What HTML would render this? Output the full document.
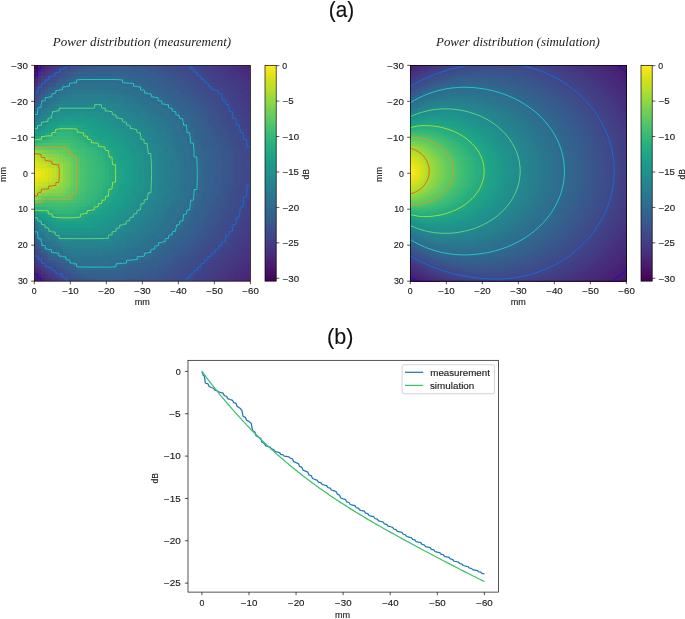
<!DOCTYPE html><html><head><meta charset="utf-8"><title>Power distribution</title><style>html,body{margin:0;padding:0;background:#fff}svg{display:block;will-change:transform}text{stroke:#1a1a1a;stroke-width:.13px}.n{stroke:none}</style></head><body><svg width="685" height="619" viewBox="0 0 685 619" font-family="'Liberation Sans', sans-serif" fill="#1a1a1a">
<rect width="685" height="619" fill="#fff"/>
<text x="341.55" y="17.2" font-size="22" text-anchor="middle" textLength="25.4" lengthAdjust="spacingAndGlyphs" fill="#111">(a)</text>
<text x="340.2" y="343.9" font-size="22" text-anchor="middle" textLength="26.3" lengthAdjust="spacingAndGlyphs" fill="#111">(b)</text>
<text x="52.8" y="45.5" font-size="13" textLength="178.4" lengthAdjust="spacingAndGlyphs" fill="#222" class="n" font-family="'Liberation Serif', serif" font-style="italic">Power distribution (measurement)</text>
<text x="436" y="45.5" font-size="13" textLength="163.8" lengthAdjust="spacingAndGlyphs" fill="#222" class="n" font-family="'Liberation Serif', serif" font-style="italic">Power distribution (simulation)</text>
<clipPath id="c1"><rect x="34.3" y="65.35" width="216.1" height="215.8"/></clipPath>
<g clip-path="url(#c1)">
<filter id="blc1" x="-5%" y="-5%" width="110%" height="110%"><feGaussianBlur stdDeviation="0.75"/></filter>
<g filter="url(#blc1)"><g transform="translate(30.76 63.58) scale(3.5426 3.5377)" stroke-width="1.04" shape-rendering="crispEdges">
<path d="M0 0h2" stroke="#450559"/>
<path d="M2 0h1" stroke="#481c6e"/>
<path d="M3 0h1" stroke="#482374"/>
<path d="M4 0h1" stroke="#482979"/>
<path d="M5 0h1" stroke="#472f7d"/>
<path d="M6 0h1" stroke="#463480"/>
<path d="M7 0h1" stroke="#443a83"/>
<path d="M8 0h1" stroke="#423f85"/>
<path d="M9 0h1" stroke="#404588"/>
<path d="M10 0h1" stroke="#3e4989"/>
<path d="M11 0h1" stroke="#3d4d8a"/>
<path d="M12 0h1" stroke="#3c508b"/>
<path d="M13 0h1" stroke="#3a538b"/>
<path d="M14 0h1" stroke="#39558c"/>
<path d="M15 0h2" stroke="#38588c"/>
<path d="M17 0h1" stroke="#38598c"/>
<path d="M18 0h5" stroke="#375a8c"/>
<path d="M23 0h4" stroke="#375b8d"/>
<path d="M27 0h1" stroke="#375a8c"/>
<path d="M28 0h2" stroke="#38598c"/>
<path d="M30 0h1" stroke="#38588c"/>
<path d="M31 0h2" stroke="#39568c"/>
<path d="M33 0h1" stroke="#39558c"/>
<path d="M34 0h1" stroke="#3a548c"/>
<path d="M35 0h1" stroke="#3a538b"/>
<path d="M36 0h1" stroke="#3b528b"/>
<path d="M37 0h1" stroke="#3b518b"/>
<path d="M38 0h1" stroke="#3c4f8a"/>
<path d="M39 0h1" stroke="#3d4e8a"/>
<path d="M40 0h1" stroke="#3d4d8a"/>
<path d="M41 0h1" stroke="#3e4c8a"/>
<path d="M42 0h1" stroke="#3e4a89"/>
<path d="M43 0h1" stroke="#3e4989"/>
<path d="M44 0h1" stroke="#3f4889"/>
<path d="M45 0h1" stroke="#404688"/>
<path d="M46 0h1" stroke="#414487"/>
<path d="M47 0h1" stroke="#414287"/>
<path d="M48 0h1" stroke="#424086"/>
<path d="M49 0h1" stroke="#423f85"/>
<path d="M50 0h1" stroke="#433d84"/>
<path d="M51 0h1" stroke="#443a83"/>
<path d="M52 0h1" stroke="#443983"/>
<path d="M53 0h1" stroke="#453781"/>
<path d="M54 0h1" stroke="#463480"/>
<path d="M55 0h1" stroke="#46337f"/>
<path d="M56 0h1" stroke="#46307e"/>
<path d="M57 0h1" stroke="#472f7d"/>
<path d="M58 0h1" stroke="#472d7b"/>
<path d="M59 0h1" stroke="#472c7a"/>
<path d="M60 0h1" stroke="#482979"/>
<path d="M61 0h2" stroke="#482878"/>
<path d="M0 1h2" stroke="#450559"/>
<path d="M2 1h1" stroke="#481c6e"/>
<path d="M3 1h1" stroke="#482374"/>
<path d="M4 1h1" stroke="#482979"/>
<path d="M5 1h1" stroke="#472f7d"/>
<path d="M6 1h1" stroke="#463480"/>
<path d="M7 1h1" stroke="#443a83"/>
<path d="M8 1h1" stroke="#423f85"/>
<path d="M9 1h1" stroke="#404588"/>
<path d="M10 1h1" stroke="#3e4989"/>
<path d="M11 1h1" stroke="#3d4d8a"/>
<path d="M12 1h1" stroke="#3c508b"/>
<path d="M13 1h1" stroke="#3a538b"/>
<path d="M14 1h1" stroke="#39558c"/>
<path d="M15 1h2" stroke="#38588c"/>
<path d="M17 1h1" stroke="#38598c"/>
<path d="M18 1h5" stroke="#375a8c"/>
<path d="M23 1h4" stroke="#375b8d"/>
<path d="M27 1h1" stroke="#375a8c"/>
<path d="M28 1h2" stroke="#38598c"/>
<path d="M30 1h1" stroke="#38588c"/>
<path d="M31 1h2" stroke="#39568c"/>
<path d="M33 1h1" stroke="#39558c"/>
<path d="M34 1h1" stroke="#3a548c"/>
<path d="M35 1h1" stroke="#3a538b"/>
<path d="M36 1h1" stroke="#3b528b"/>
<path d="M37 1h1" stroke="#3b518b"/>
<path d="M38 1h1" stroke="#3c4f8a"/>
<path d="M39 1h1" stroke="#3d4e8a"/>
<path d="M40 1h1" stroke="#3d4d8a"/>
<path d="M41 1h1" stroke="#3e4c8a"/>
<path d="M42 1h1" stroke="#3e4a89"/>
<path d="M43 1h1" stroke="#3e4989"/>
<path d="M44 1h1" stroke="#3f4889"/>
<path d="M45 1h1" stroke="#404688"/>
<path d="M46 1h1" stroke="#414487"/>
<path d="M47 1h1" stroke="#414287"/>
<path d="M48 1h1" stroke="#424086"/>
<path d="M49 1h1" stroke="#423f85"/>
<path d="M50 1h1" stroke="#433d84"/>
<path d="M51 1h1" stroke="#443a83"/>
<path d="M52 1h1" stroke="#443983"/>
<path d="M53 1h1" stroke="#453781"/>
<path d="M54 1h1" stroke="#463480"/>
<path d="M55 1h1" stroke="#46337f"/>
<path d="M56 1h1" stroke="#46307e"/>
<path d="M57 1h1" stroke="#472f7d"/>
<path d="M58 1h1" stroke="#472d7b"/>
<path d="M59 1h1" stroke="#472c7a"/>
<path d="M60 1h1" stroke="#482979"/>
<path d="M61 1h2" stroke="#482878"/>
<path d="M0 2h2" stroke="#471063"/>
<path d="M2 2h1" stroke="#482374"/>
<path d="M3 2h1" stroke="#472a7a"/>
<path d="M4 2h1" stroke="#46327e"/>
<path d="M5 2h1" stroke="#453781"/>
<path d="M6 2h1" stroke="#433d84"/>
<path d="M7 2h1" stroke="#414287"/>
<path d="M8 2h1" stroke="#3f4788"/>
<path d="M9 2h1" stroke="#3e4c8a"/>
<path d="M10 2h1" stroke="#3c4f8a"/>
<path d="M11 2h1" stroke="#3a538b"/>
<path d="M12 2h1" stroke="#39568c"/>
<path d="M13 2h1" stroke="#375a8c"/>
<path d="M14 2h1" stroke="#365c8d"/>
<path d="M15 2h1" stroke="#365d8d"/>
<path d="M16 2h3" stroke="#355e8d"/>
<path d="M19 2h8" stroke="#355f8d"/>
<path d="M27 2h1" stroke="#355e8d"/>
<path d="M28 2h1" stroke="#365d8d"/>
<path d="M29 2h1" stroke="#365c8d"/>
<path d="M30 2h2" stroke="#375b8d"/>
<path d="M32 2h1" stroke="#375a8c"/>
<path d="M33 2h1" stroke="#38598c"/>
<path d="M34 2h1" stroke="#38588c"/>
<path d="M35 2h1" stroke="#39568c"/>
<path d="M36 2h1" stroke="#3a548c"/>
<path d="M37 2h1" stroke="#3a538b"/>
<path d="M38 2h1" stroke="#3b528b"/>
<path d="M39 2h1" stroke="#3c508b"/>
<path d="M40 2h1" stroke="#3c4f8a"/>
<path d="M41 2h1" stroke="#3d4e8a"/>
<path d="M42 2h1" stroke="#3d4d8a"/>
<path d="M43 2h1" stroke="#3e4a89"/>
<path d="M44 2h1" stroke="#3e4989"/>
<path d="M45 2h1" stroke="#3f4889"/>
<path d="M46 2h1" stroke="#404688"/>
<path d="M47 2h1" stroke="#404588"/>
<path d="M48 2h1" stroke="#414287"/>
<path d="M49 2h1" stroke="#424086"/>
<path d="M50 2h1" stroke="#423f85"/>
<path d="M51 2h1" stroke="#433d84"/>
<path d="M52 2h1" stroke="#443a83"/>
<path d="M53 2h1" stroke="#443983"/>
<path d="M54 2h1" stroke="#453781"/>
<path d="M55 2h1" stroke="#453581"/>
<path d="M56 2h1" stroke="#46337f"/>
<path d="M57 2h1" stroke="#46327e"/>
<path d="M58 2h1" stroke="#472f7d"/>
<path d="M59 2h1" stroke="#472e7c"/>
<path d="M60 2h1" stroke="#472c7a"/>
<path d="M61 2h2" stroke="#472a7a"/>
<path d="M0 3h2" stroke="#48186a"/>
<path d="M2 3h1" stroke="#472a7a"/>
<path d="M3 3h1" stroke="#46337f"/>
<path d="M4 3h1" stroke="#443983"/>
<path d="M5 3h1" stroke="#423f85"/>
<path d="M6 3h1" stroke="#404588"/>
<path d="M7 3h1" stroke="#3e4989"/>
<path d="M8 3h1" stroke="#3d4e8a"/>
<path d="M9 3h1" stroke="#3b528b"/>
<path d="M10 3h1" stroke="#39558c"/>
<path d="M11 3h1" stroke="#375a8c"/>
<path d="M12 3h1" stroke="#365d8d"/>
<path d="M13 3h1" stroke="#34608d"/>
<path d="M14 3h2" stroke="#33628d"/>
<path d="M16 3h10" stroke="#33638d"/>
<path d="M26 3h1" stroke="#33628d"/>
<path d="M27 3h1" stroke="#34618d"/>
<path d="M28 3h2" stroke="#34608d"/>
<path d="M30 3h1" stroke="#355f8d"/>
<path d="M31 3h1" stroke="#355e8d"/>
<path d="M32 3h1" stroke="#365d8d"/>
<path d="M33 3h1" stroke="#365c8d"/>
<path d="M34 3h1" stroke="#375b8d"/>
<path d="M35 3h1" stroke="#38598c"/>
<path d="M36 3h1" stroke="#38588c"/>
<path d="M37 3h1" stroke="#39558c"/>
<path d="M38 3h1" stroke="#3a548c"/>
<path d="M39 3h1" stroke="#3a538b"/>
<path d="M40 3h1" stroke="#3b518b"/>
<path d="M41 3h1" stroke="#3c508b"/>
<path d="M42 3h1" stroke="#3c4f8a"/>
<path d="M43 3h1" stroke="#3d4d8a"/>
<path d="M44 3h1" stroke="#3e4c8a"/>
<path d="M45 3h1" stroke="#3e4989"/>
<path d="M46 3h1" stroke="#3f4889"/>
<path d="M47 3h1" stroke="#404688"/>
<path d="M48 3h1" stroke="#404588"/>
<path d="M49 3h1" stroke="#414287"/>
<path d="M50 3h1" stroke="#424086"/>
<path d="M51 3h1" stroke="#423f85"/>
<path d="M52 3h1" stroke="#433d84"/>
<path d="M53 3h1" stroke="#443b84"/>
<path d="M54 3h1" stroke="#443983"/>
<path d="M55 3h1" stroke="#453781"/>
<path d="M56 3h1" stroke="#453581"/>
<path d="M57 3h1" stroke="#46337f"/>
<path d="M58 3h1" stroke="#46327e"/>
<path d="M59 3h1" stroke="#472f7d"/>
<path d="M60 3h1" stroke="#472e7c"/>
<path d="M61 3h2" stroke="#472d7b"/>
<path d="M0 4h2" stroke="#482173"/>
<path d="M2 4h1" stroke="#46327e"/>
<path d="M3 4h1" stroke="#443a83"/>
<path d="M4 4h1" stroke="#424186"/>
<path d="M5 4h1" stroke="#3f4788"/>
<path d="M6 4h1" stroke="#3e4a89"/>
<path d="M7 4h1" stroke="#3c4f8a"/>
<path d="M8 4h1" stroke="#3a548c"/>
<path d="M9 4h1" stroke="#38598c"/>
<path d="M10 4h1" stroke="#365c8d"/>
<path d="M11 4h1" stroke="#34608d"/>
<path d="M12 4h1" stroke="#33638d"/>
<path d="M13 4h1" stroke="#31668e"/>
<path d="M14 4h11" stroke="#31688e"/>
<path d="M25 4h1" stroke="#31678e"/>
<path d="M26 4h1" stroke="#31668e"/>
<path d="M27 4h1" stroke="#32658e"/>
<path d="M28 4h1" stroke="#32648e"/>
<path d="M29 4h1" stroke="#33638d"/>
<path d="M30 4h1" stroke="#33628d"/>
<path d="M31 4h1" stroke="#34618d"/>
<path d="M32 4h1" stroke="#34608d"/>
<path d="M33 4h1" stroke="#355e8d"/>
<path d="M34 4h1" stroke="#365d8d"/>
<path d="M35 4h1" stroke="#365c8d"/>
<path d="M36 4h1" stroke="#375a8c"/>
<path d="M37 4h1" stroke="#38598c"/>
<path d="M38 4h1" stroke="#39568c"/>
<path d="M39 4h1" stroke="#39558c"/>
<path d="M40 4h1" stroke="#3a548c"/>
<path d="M41 4h1" stroke="#3b528b"/>
<path d="M42 4h1" stroke="#3c508b"/>
<path d="M43 4h1" stroke="#3c4f8a"/>
<path d="M44 4h1" stroke="#3d4d8a"/>
<path d="M45 4h1" stroke="#3e4c8a"/>
<path d="M46 4h1" stroke="#3e4989"/>
<path d="M47 4h1" stroke="#3f4889"/>
<path d="M48 4h1" stroke="#404688"/>
<path d="M49 4h1" stroke="#414487"/>
<path d="M50 4h1" stroke="#414287"/>
<path d="M51 4h1" stroke="#424086"/>
<path d="M52 4h1" stroke="#423f85"/>
<path d="M53 4h1" stroke="#433d84"/>
<path d="M54 4h1" stroke="#443b84"/>
<path d="M55 4h1" stroke="#443983"/>
<path d="M56 4h1" stroke="#453882"/>
<path d="M57 4h1" stroke="#453581"/>
<path d="M58 4h1" stroke="#463480"/>
<path d="M59 4h1" stroke="#46327e"/>
<path d="M60 4h1" stroke="#46307e"/>
<path d="M61 4h2" stroke="#472e7c"/>
<path d="M0 5h2" stroke="#472a7a"/>
<path d="M2 5h1" stroke="#443983"/>
<path d="M3 5h1" stroke="#414287"/>
<path d="M4 5h1" stroke="#3f4889"/>
<path d="M5 5h1" stroke="#3d4d8a"/>
<path d="M6 5h1" stroke="#3b518b"/>
<path d="M7 5h1" stroke="#39568c"/>
<path d="M8 5h1" stroke="#375b8d"/>
<path d="M9 5h1" stroke="#355f8d"/>
<path d="M10 5h1" stroke="#33638d"/>
<path d="M11 5h1" stroke="#31668e"/>
<path d="M12 5h1" stroke="#306a8e"/>
<path d="M13 5h11" stroke="#2f6c8e"/>
<path d="M24 5h1" stroke="#2f6b8e"/>
<path d="M25 5h1" stroke="#306a8e"/>
<path d="M26 5h1" stroke="#30698e"/>
<path d="M27 5h1" stroke="#31688e"/>
<path d="M28 5h1" stroke="#31678e"/>
<path d="M29 5h1" stroke="#31668e"/>
<path d="M30 5h1" stroke="#32658e"/>
<path d="M31 5h1" stroke="#32648e"/>
<path d="M32 5h1" stroke="#33628d"/>
<path d="M33 5h1" stroke="#34618d"/>
<path d="M34 5h1" stroke="#355f8d"/>
<path d="M35 5h1" stroke="#355e8d"/>
<path d="M36 5h1" stroke="#365d8d"/>
<path d="M37 5h1" stroke="#375b8d"/>
<path d="M38 5h1" stroke="#375a8c"/>
<path d="M39 5h1" stroke="#38588c"/>
<path d="M40 5h1" stroke="#39568c"/>
<path d="M41 5h1" stroke="#3a548c"/>
<path d="M42 5h1" stroke="#3b528b"/>
<path d="M43 5h1" stroke="#3b518b"/>
<path d="M44 5h1" stroke="#3c4f8a"/>
<path d="M45 5h1" stroke="#3d4d8a"/>
<path d="M46 5h1" stroke="#3e4c8a"/>
<path d="M47 5h1" stroke="#3e4989"/>
<path d="M48 5h1" stroke="#3f4889"/>
<path d="M49 5h1" stroke="#404688"/>
<path d="M50 5h1" stroke="#414487"/>
<path d="M51 5h1" stroke="#414287"/>
<path d="M52 5h1" stroke="#424086"/>
<path d="M53 5h1" stroke="#423f85"/>
<path d="M54 5h1" stroke="#433d84"/>
<path d="M55 5h1" stroke="#443b84"/>
<path d="M56 5h1" stroke="#443a83"/>
<path d="M57 5h1" stroke="#453882"/>
<path d="M58 5h1" stroke="#453781"/>
<path d="M59 5h1" stroke="#463480"/>
<path d="M60 5h1" stroke="#46327e"/>
<path d="M61 5h2" stroke="#46307e"/>
<path d="M0 6h2" stroke="#46337f"/>
<path d="M2 6h1" stroke="#424086"/>
<path d="M3 6h1" stroke="#3e4989"/>
<path d="M4 6h1" stroke="#3d4e8a"/>
<path d="M5 6h1" stroke="#3a538b"/>
<path d="M6 6h1" stroke="#38598c"/>
<path d="M7 6h1" stroke="#355e8d"/>
<path d="M8 6h1" stroke="#33628d"/>
<path d="M9 6h1" stroke="#31668e"/>
<path d="M10 6h1" stroke="#30698e"/>
<path d="M11 6h1" stroke="#2f6c8e"/>
<path d="M12 6h1" stroke="#2e6f8e"/>
<path d="M13 6h10" stroke="#2d708e"/>
<path d="M23 6h1" stroke="#2e6f8e"/>
<path d="M24 6h1" stroke="#2e6e8e"/>
<path d="M25 6h1" stroke="#2e6d8e"/>
<path d="M26 6h2" stroke="#2f6c8e"/>
<path d="M28 6h1" stroke="#2f6b8e"/>
<path d="M29 6h1" stroke="#30698e"/>
<path d="M30 6h1" stroke="#31688e"/>
<path d="M31 6h1" stroke="#31678e"/>
<path d="M32 6h1" stroke="#32658e"/>
<path d="M33 6h1" stroke="#33638d"/>
<path d="M34 6h1" stroke="#33628d"/>
<path d="M35 6h1" stroke="#34608d"/>
<path d="M36 6h1" stroke="#355f8d"/>
<path d="M37 6h1" stroke="#355e8d"/>
<path d="M38 6h1" stroke="#365c8d"/>
<path d="M39 6h1" stroke="#375a8c"/>
<path d="M40 6h1" stroke="#38598c"/>
<path d="M41 6h1" stroke="#39568c"/>
<path d="M42 6h1" stroke="#3a548c"/>
<path d="M43 6h1" stroke="#3b528b"/>
<path d="M44 6h1" stroke="#3b518b"/>
<path d="M45 6h1" stroke="#3c4f8a"/>
<path d="M46 6h1" stroke="#3d4d8a"/>
<path d="M47 6h1" stroke="#3e4c8a"/>
<path d="M48 6h1" stroke="#3e4989"/>
<path d="M49 6h1" stroke="#3f4788"/>
<path d="M50 6h1" stroke="#404688"/>
<path d="M51 6h1" stroke="#414487"/>
<path d="M52 6h1" stroke="#414287"/>
<path d="M53 6h1" stroke="#424186"/>
<path d="M54 6h1" stroke="#423f85"/>
<path d="M55 6h1" stroke="#433e85"/>
<path d="M56 6h1" stroke="#443b84"/>
<path d="M57 6h1" stroke="#443a83"/>
<path d="M58 6h1" stroke="#453882"/>
<path d="M59 6h1" stroke="#453781"/>
<path d="M60 6h1" stroke="#463480"/>
<path d="M61 6h2" stroke="#46327e"/>
<path d="M0 7h2" stroke="#443b84"/>
<path d="M2 7h1" stroke="#3f4788"/>
<path d="M3 7h1" stroke="#3c4f8a"/>
<path d="M4 7h1" stroke="#39558c"/>
<path d="M5 7h1" stroke="#375b8d"/>
<path d="M6 7h1" stroke="#34608d"/>
<path d="M7 7h1" stroke="#32648e"/>
<path d="M8 7h1" stroke="#31688e"/>
<path d="M9 7h1" stroke="#2f6c8e"/>
<path d="M10 7h1" stroke="#2e6f8e"/>
<path d="M11 7h1" stroke="#2c718e"/>
<path d="M12 7h10" stroke="#2c738e"/>
<path d="M22 7h2" stroke="#2c728e"/>
<path d="M24 7h1" stroke="#2c718e"/>
<path d="M25 7h1" stroke="#2d718e"/>
<path d="M26 7h1" stroke="#2d708e"/>
<path d="M27 7h1" stroke="#2e6f8e"/>
<path d="M28 7h1" stroke="#2e6e8e"/>
<path d="M29 7h1" stroke="#2f6c8e"/>
<path d="M30 7h1" stroke="#2f6b8e"/>
<path d="M31 7h1" stroke="#30698e"/>
<path d="M32 7h1" stroke="#31688e"/>
<path d="M33 7h1" stroke="#31668e"/>
<path d="M34 7h1" stroke="#32648e"/>
<path d="M35 7h1" stroke="#33638d"/>
<path d="M36 7h1" stroke="#34618d"/>
<path d="M37 7h1" stroke="#34608d"/>
<path d="M38 7h1" stroke="#355e8d"/>
<path d="M39 7h1" stroke="#365c8d"/>
<path d="M40 7h1" stroke="#375b8d"/>
<path d="M41 7h1" stroke="#38598c"/>
<path d="M42 7h1" stroke="#39568c"/>
<path d="M43 7h1" stroke="#3a548c"/>
<path d="M44 7h1" stroke="#3a538b"/>
<path d="M45 7h1" stroke="#3b518b"/>
<path d="M46 7h1" stroke="#3c4f8a"/>
<path d="M47 7h1" stroke="#3d4d8a"/>
<path d="M48 7h1" stroke="#3e4c8a"/>
<path d="M49 7h1" stroke="#3e4989"/>
<path d="M50 7h1" stroke="#3f4889"/>
<path d="M51 7h1" stroke="#404688"/>
<path d="M52 7h1" stroke="#404588"/>
<path d="M53 7h1" stroke="#414487"/>
<path d="M54 7h1" stroke="#424186"/>
<path d="M55 7h1" stroke="#424086"/>
<path d="M56 7h1" stroke="#433e85"/>
<path d="M57 7h1" stroke="#443b84"/>
<path d="M58 7h1" stroke="#443a83"/>
<path d="M59 7h1" stroke="#453882"/>
<path d="M60 7h1" stroke="#453581"/>
<path d="M61 7h2" stroke="#46337f"/>
<path d="M0 8h2" stroke="#414487"/>
<path d="M2 8h1" stroke="#3d4d8a"/>
<path d="M3 8h1" stroke="#39568c"/>
<path d="M4 8h1" stroke="#365d8d"/>
<path d="M5 8h1" stroke="#33628d"/>
<path d="M6 8h1" stroke="#31678e"/>
<path d="M7 8h1" stroke="#2f6b8e"/>
<path d="M8 8h1" stroke="#2e6f8e"/>
<path d="M9 8h1" stroke="#2c718e"/>
<path d="M10 8h1" stroke="#2b748e"/>
<path d="M11 8h1" stroke="#2a768e"/>
<path d="M12 8h9" stroke="#2a778e"/>
<path d="M21 8h2" stroke="#2a768e"/>
<path d="M23 8h1" stroke="#2b758e"/>
<path d="M24 8h1" stroke="#2b748e"/>
<path d="M25 8h2" stroke="#2c738e"/>
<path d="M27 8h1" stroke="#2c718e"/>
<path d="M28 8h1" stroke="#2d718e"/>
<path d="M29 8h1" stroke="#2e6f8e"/>
<path d="M30 8h1" stroke="#2e6d8e"/>
<path d="M31 8h1" stroke="#2f6c8e"/>
<path d="M32 8h1" stroke="#306a8e"/>
<path d="M33 8h1" stroke="#31688e"/>
<path d="M34 8h1" stroke="#31678e"/>
<path d="M35 8h1" stroke="#32658e"/>
<path d="M36 8h1" stroke="#32648e"/>
<path d="M37 8h1" stroke="#33628d"/>
<path d="M38 8h1" stroke="#34608d"/>
<path d="M39 8h1" stroke="#355f8d"/>
<path d="M40 8h1" stroke="#365d8d"/>
<path d="M41 8h1" stroke="#375b8d"/>
<path d="M42 8h1" stroke="#38598c"/>
<path d="M43 8h1" stroke="#39568c"/>
<path d="M44 8h1" stroke="#39558c"/>
<path d="M45 8h1" stroke="#3a538b"/>
<path d="M46 8h1" stroke="#3b518b"/>
<path d="M47 8h1" stroke="#3c4f8a"/>
<path d="M48 8h1" stroke="#3d4d8a"/>
<path d="M49 8h1" stroke="#3e4c8a"/>
<path d="M50 8h1" stroke="#3e4a89"/>
<path d="M51 8h1" stroke="#3f4889"/>
<path d="M52 8h1" stroke="#3f4788"/>
<path d="M53 8h1" stroke="#404588"/>
<path d="M54 8h1" stroke="#414487"/>
<path d="M55 8h1" stroke="#424186"/>
<path d="M56 8h1" stroke="#423f85"/>
<path d="M57 8h1" stroke="#433e85"/>
<path d="M58 8h1" stroke="#443b84"/>
<path d="M59 8h1" stroke="#443983"/>
<path d="M60 8h1" stroke="#453781"/>
<path d="M61 8h2" stroke="#463480"/>
<path d="M0 9h2" stroke="#3e4989"/>
<path d="M2 9h1" stroke="#3a538b"/>
<path d="M3 9h1" stroke="#355e8d"/>
<path d="M4 9h1" stroke="#32648e"/>
<path d="M5 9h1" stroke="#30698e"/>
<path d="M6 9h1" stroke="#2e6d8e"/>
<path d="M7 9h1" stroke="#2d718e"/>
<path d="M8 9h1" stroke="#2b748e"/>
<path d="M9 9h1" stroke="#2a778e"/>
<path d="M10 9h1" stroke="#29798e"/>
<path d="M11 9h1" stroke="#297a8e"/>
<path d="M12 9h8" stroke="#297b8e"/>
<path d="M20 9h2" stroke="#297a8e"/>
<path d="M22 9h2" stroke="#29798e"/>
<path d="M24 9h1" stroke="#2a788e"/>
<path d="M25 9h1" stroke="#2a778e"/>
<path d="M26 9h1" stroke="#2a768e"/>
<path d="M27 9h1" stroke="#2b748e"/>
<path d="M28 9h1" stroke="#2c738e"/>
<path d="M29 9h1" stroke="#2c718e"/>
<path d="M30 9h1" stroke="#2d708e"/>
<path d="M31 9h1" stroke="#2e6e8e"/>
<path d="M32 9h1" stroke="#2e6d8e"/>
<path d="M33 9h1" stroke="#2f6b8e"/>
<path d="M34 9h1" stroke="#30698e"/>
<path d="M35 9h1" stroke="#31688e"/>
<path d="M36 9h1" stroke="#31668e"/>
<path d="M37 9h1" stroke="#32648e"/>
<path d="M38 9h1" stroke="#33638d"/>
<path d="M39 9h1" stroke="#34618d"/>
<path d="M40 9h1" stroke="#355f8d"/>
<path d="M41 9h1" stroke="#365d8d"/>
<path d="M42 9h1" stroke="#375b8d"/>
<path d="M43 9h1" stroke="#38598c"/>
<path d="M44 9h1" stroke="#38588c"/>
<path d="M45 9h1" stroke="#39558c"/>
<path d="M46 9h1" stroke="#3a538b"/>
<path d="M47 9h1" stroke="#3b518b"/>
<path d="M48 9h1" stroke="#3c508b"/>
<path d="M49 9h1" stroke="#3d4e8a"/>
<path d="M50 9h1" stroke="#3e4c8a"/>
<path d="M51 9h1" stroke="#3e4a89"/>
<path d="M52 9h1" stroke="#3f4889"/>
<path d="M53 9h1" stroke="#3f4788"/>
<path d="M54 9h1" stroke="#404588"/>
<path d="M55 9h1" stroke="#414287"/>
<path d="M56 9h1" stroke="#424186"/>
<path d="M57 9h1" stroke="#423f85"/>
<path d="M58 9h1" stroke="#433d84"/>
<path d="M59 9h1" stroke="#443a83"/>
<path d="M60 9h1" stroke="#453882"/>
<path d="M61 9h2" stroke="#453581"/>
<path d="M0 10h2" stroke="#3c4f8a"/>
<path d="M2 10h1" stroke="#375a8c"/>
<path d="M3 10h1" stroke="#32658e"/>
<path d="M4 10h1" stroke="#2f6b8e"/>
<path d="M5 10h1" stroke="#2e6f8e"/>
<path d="M6 10h1" stroke="#2c718e"/>
<path d="M7 10h1" stroke="#2a768e"/>
<path d="M8 10h1" stroke="#297a8e"/>
<path d="M9 10h1" stroke="#287d8e"/>
<path d="M10 10h1" stroke="#277e8e"/>
<path d="M11 10h9" stroke="#277f8e"/>
<path d="M20 10h2" stroke="#277e8e"/>
<path d="M22 10h2" stroke="#287d8e"/>
<path d="M24 10h1" stroke="#287c8e"/>
<path d="M25 10h1" stroke="#297b8e"/>
<path d="M26 10h1" stroke="#29798e"/>
<path d="M27 10h1" stroke="#2a778e"/>
<path d="M28 10h1" stroke="#2b758e"/>
<path d="M29 10h1" stroke="#2b748e"/>
<path d="M30 10h1" stroke="#2c728e"/>
<path d="M31 10h1" stroke="#2d718e"/>
<path d="M32 10h1" stroke="#2e6f8e"/>
<path d="M33 10h1" stroke="#2e6e8e"/>
<path d="M34 10h1" stroke="#2f6c8e"/>
<path d="M35 10h1" stroke="#306a8e"/>
<path d="M36 10h1" stroke="#30698e"/>
<path d="M37 10h1" stroke="#31678e"/>
<path d="M38 10h1" stroke="#32658e"/>
<path d="M39 10h1" stroke="#33638d"/>
<path d="M40 10h1" stroke="#34618d"/>
<path d="M41 10h1" stroke="#34608d"/>
<path d="M42 10h1" stroke="#355e8d"/>
<path d="M43 10h1" stroke="#365c8d"/>
<path d="M44 10h1" stroke="#375a8c"/>
<path d="M45 10h1" stroke="#38588c"/>
<path d="M46 10h1" stroke="#39558c"/>
<path d="M47 10h1" stroke="#3a538b"/>
<path d="M48 10h1" stroke="#3b528b"/>
<path d="M49 10h1" stroke="#3c508b"/>
<path d="M50 10h1" stroke="#3d4e8a"/>
<path d="M51 10h1" stroke="#3e4c8a"/>
<path d="M52 10h1" stroke="#3e4a89"/>
<path d="M53 10h1" stroke="#3f4889"/>
<path d="M54 10h1" stroke="#404688"/>
<path d="M55 10h1" stroke="#404588"/>
<path d="M56 10h1" stroke="#414287"/>
<path d="M57 10h1" stroke="#424086"/>
<path d="M58 10h1" stroke="#433e85"/>
<path d="M59 10h1" stroke="#443b84"/>
<path d="M60 10h1" stroke="#443983"/>
<path d="M61 10h2" stroke="#453882"/>
<path d="M0 11h2" stroke="#39558c"/>
<path d="M2 11h1" stroke="#34618d"/>
<path d="M3 11h1" stroke="#2f6c8e"/>
<path d="M4 11h1" stroke="#2d708e"/>
<path d="M5 11h1" stroke="#2c738e"/>
<path d="M6 11h1" stroke="#2a778e"/>
<path d="M7 11h1" stroke="#287c8e"/>
<path d="M8 11h1" stroke="#26818e"/>
<path d="M9 11h13" stroke="#26828e"/>
<path d="M22 11h2" stroke="#26818e"/>
<path d="M24 11h1" stroke="#277f8e"/>
<path d="M25 11h1" stroke="#277e8e"/>
<path d="M26 11h1" stroke="#287c8e"/>
<path d="M27 11h1" stroke="#297a8e"/>
<path d="M28 11h1" stroke="#2a788e"/>
<path d="M29 11h1" stroke="#2a768e"/>
<path d="M30 11h1" stroke="#2b758e"/>
<path d="M31 11h1" stroke="#2c738e"/>
<path d="M32 11h1" stroke="#2c718e"/>
<path d="M33 11h1" stroke="#2d708e"/>
<path d="M34 11h1" stroke="#2e6f8e"/>
<path d="M35 11h1" stroke="#2e6d8e"/>
<path d="M36 11h1" stroke="#2f6b8e"/>
<path d="M37 11h1" stroke="#30698e"/>
<path d="M38 11h1" stroke="#31688e"/>
<path d="M39 11h1" stroke="#31668e"/>
<path d="M40 11h1" stroke="#32648e"/>
<path d="M41 11h1" stroke="#33628d"/>
<path d="M42 11h1" stroke="#34608d"/>
<path d="M43 11h1" stroke="#355e8d"/>
<path d="M44 11h1" stroke="#365c8d"/>
<path d="M45 11h1" stroke="#375a8c"/>
<path d="M46 11h1" stroke="#38588c"/>
<path d="M47 11h1" stroke="#39558c"/>
<path d="M48 11h1" stroke="#3a548c"/>
<path d="M49 11h1" stroke="#3b528b"/>
<path d="M50 11h1" stroke="#3c508b"/>
<path d="M51 11h1" stroke="#3d4e8a"/>
<path d="M52 11h1" stroke="#3e4c8a"/>
<path d="M53 11h1" stroke="#3e4989"/>
<path d="M54 11h1" stroke="#3f4788"/>
<path d="M55 11h1" stroke="#404688"/>
<path d="M56 11h1" stroke="#414487"/>
<path d="M57 11h1" stroke="#424186"/>
<path d="M58 11h1" stroke="#423f85"/>
<path d="M59 11h1" stroke="#433d84"/>
<path d="M60 11h1" stroke="#443a83"/>
<path d="M61 11h2" stroke="#443983"/>
<path d="M0 12h2" stroke="#365c8d"/>
<path d="M2 12h1" stroke="#31688e"/>
<path d="M3 12h1" stroke="#2c718e"/>
<path d="M4 12h1" stroke="#2b748e"/>
<path d="M5 12h1" stroke="#2a788e"/>
<path d="M6 12h1" stroke="#287d8e"/>
<path d="M7 12h1" stroke="#26828e"/>
<path d="M8 12h1" stroke="#25858e"/>
<path d="M9 12h9" stroke="#24868e"/>
<path d="M18 12h2" stroke="#228b8d"/>
<path d="M20 12h3" stroke="#25858e"/>
<path d="M23 12h1" stroke="#25838e"/>
<path d="M24 12h1" stroke="#26828e"/>
<path d="M25 12h1" stroke="#27808e"/>
<path d="M26 12h1" stroke="#277e8e"/>
<path d="M27 12h1" stroke="#287d8e"/>
<path d="M28 12h1" stroke="#297b8e"/>
<path d="M29 12h1" stroke="#29798e"/>
<path d="M30 12h1" stroke="#2a778e"/>
<path d="M31 12h1" stroke="#2b758e"/>
<path d="M32 12h1" stroke="#2b748e"/>
<path d="M33 12h1" stroke="#2c728e"/>
<path d="M34 12h1" stroke="#2d718e"/>
<path d="M35 12h1" stroke="#2e6f8e"/>
<path d="M36 12h1" stroke="#2e6e8e"/>
<path d="M37 12h1" stroke="#2f6c8e"/>
<path d="M38 12h1" stroke="#306a8e"/>
<path d="M39 12h1" stroke="#31688e"/>
<path d="M40 12h1" stroke="#31668e"/>
<path d="M41 12h1" stroke="#32648e"/>
<path d="M42 12h1" stroke="#33628d"/>
<path d="M43 12h1" stroke="#34608d"/>
<path d="M44 12h1" stroke="#355e8d"/>
<path d="M45 12h1" stroke="#365c8d"/>
<path d="M46 12h1" stroke="#375a8c"/>
<path d="M47 12h1" stroke="#38588c"/>
<path d="M48 12h1" stroke="#39558c"/>
<path d="M49 12h1" stroke="#3a538b"/>
<path d="M50 12h1" stroke="#3b518b"/>
<path d="M51 12h1" stroke="#3c4f8a"/>
<path d="M52 12h1" stroke="#3d4d8a"/>
<path d="M53 12h1" stroke="#3e4a89"/>
<path d="M54 12h1" stroke="#3e4989"/>
<path d="M55 12h1" stroke="#3f4788"/>
<path d="M56 12h1" stroke="#404588"/>
<path d="M57 12h1" stroke="#414287"/>
<path d="M58 12h1" stroke="#424086"/>
<path d="M59 12h1" stroke="#433e85"/>
<path d="M60 12h1" stroke="#443b84"/>
<path d="M61 12h2" stroke="#443a83"/>
<path d="M0 13h2" stroke="#33638d"/>
<path d="M2 13h1" stroke="#2e6f8e"/>
<path d="M3 13h1" stroke="#2a768e"/>
<path d="M4 13h1" stroke="#297a8e"/>
<path d="M5 13h1" stroke="#277e8e"/>
<path d="M6 13h1" stroke="#25838e"/>
<path d="M7 13h11" stroke="#238a8d"/>
<path d="M18 13h2" stroke="#228b8d"/>
<path d="M20 13h2" stroke="#238a8d"/>
<path d="M22 13h1" stroke="#23888e"/>
<path d="M23 13h1" stroke="#24868e"/>
<path d="M24 13h1" stroke="#25848e"/>
<path d="M25 13h1" stroke="#26828e"/>
<path d="M26 13h1" stroke="#26818e"/>
<path d="M27 13h1" stroke="#277f8e"/>
<path d="M28 13h1" stroke="#287d8e"/>
<path d="M29 13h1" stroke="#287c8e"/>
<path d="M30 13h1" stroke="#297a8e"/>
<path d="M31 13h1" stroke="#2a788e"/>
<path d="M32 13h1" stroke="#2a768e"/>
<path d="M33 13h1" stroke="#2b758e"/>
<path d="M34 13h1" stroke="#2c738e"/>
<path d="M35 13h1" stroke="#2c718e"/>
<path d="M36 13h1" stroke="#2d708e"/>
<path d="M37 13h1" stroke="#2e6e8e"/>
<path d="M38 13h1" stroke="#2f6c8e"/>
<path d="M39 13h1" stroke="#306a8e"/>
<path d="M40 13h1" stroke="#31688e"/>
<path d="M41 13h1" stroke="#31668e"/>
<path d="M42 13h1" stroke="#32648e"/>
<path d="M43 13h1" stroke="#33628d"/>
<path d="M44 13h1" stroke="#34608d"/>
<path d="M45 13h1" stroke="#355e8d"/>
<path d="M46 13h1" stroke="#365c8d"/>
<path d="M47 13h1" stroke="#375a8c"/>
<path d="M48 13h1" stroke="#38588c"/>
<path d="M49 13h1" stroke="#39558c"/>
<path d="M50 13h1" stroke="#3a538b"/>
<path d="M51 13h1" stroke="#3c508b"/>
<path d="M52 13h1" stroke="#3d4e8a"/>
<path d="M53 13h1" stroke="#3e4c8a"/>
<path d="M54 13h1" stroke="#3e4a89"/>
<path d="M55 13h1" stroke="#3f4889"/>
<path d="M56 13h1" stroke="#404688"/>
<path d="M57 13h1" stroke="#414487"/>
<path d="M58 13h1" stroke="#424186"/>
<path d="M59 13h1" stroke="#423f85"/>
<path d="M60 13h1" stroke="#433d84"/>
<path d="M61 13h2" stroke="#443a83"/>
<path d="M0 14h2" stroke="#30698e"/>
<path d="M2 14h1" stroke="#2b758e"/>
<path d="M3 14h1" stroke="#297b8e"/>
<path d="M4 14h1" stroke="#277f8e"/>
<path d="M5 14h1" stroke="#25838e"/>
<path d="M6 14h1" stroke="#238a8d"/>
<path d="M7 14h3" stroke="#218e8d"/>
<path d="M10 14h6" stroke="#21908d"/>
<path d="M16 14h4" stroke="#218f8d"/>
<path d="M20 14h1" stroke="#218e8d"/>
<path d="M21 14h1" stroke="#228c8d"/>
<path d="M22 14h1" stroke="#228b8d"/>
<path d="M23 14h1" stroke="#23898e"/>
<path d="M24 14h1" stroke="#24878e"/>
<path d="M25 14h1" stroke="#25858e"/>
<path d="M26 14h1" stroke="#25838e"/>
<path d="M27 14h1" stroke="#26828e"/>
<path d="M28 14h1" stroke="#27808e"/>
<path d="M29 14h1" stroke="#277e8e"/>
<path d="M30 14h1" stroke="#287c8e"/>
<path d="M31 14h1" stroke="#297b8e"/>
<path d="M32 14h1" stroke="#29798e"/>
<path d="M33 14h1" stroke="#2a778e"/>
<path d="M34 14h1" stroke="#2b758e"/>
<path d="M35 14h1" stroke="#2c738e"/>
<path d="M36 14h1" stroke="#2c718e"/>
<path d="M37 14h1" stroke="#2d708e"/>
<path d="M38 14h1" stroke="#2e6f8e"/>
<path d="M39 14h1" stroke="#2e6d8e"/>
<path d="M40 14h1" stroke="#2f6b8e"/>
<path d="M41 14h1" stroke="#30698e"/>
<path d="M42 14h1" stroke="#31668e"/>
<path d="M43 14h1" stroke="#32648e"/>
<path d="M44 14h1" stroke="#33628d"/>
<path d="M45 14h1" stroke="#34608d"/>
<path d="M46 14h1" stroke="#355e8d"/>
<path d="M47 14h1" stroke="#365c8d"/>
<path d="M48 14h1" stroke="#38598c"/>
<path d="M49 14h1" stroke="#39568c"/>
<path d="M50 14h1" stroke="#3a548c"/>
<path d="M51 14h1" stroke="#3b528b"/>
<path d="M52 14h1" stroke="#3c508b"/>
<path d="M53 14h1" stroke="#3d4d8a"/>
<path d="M54 14h1" stroke="#3e4c8a"/>
<path d="M55 14h1" stroke="#3e4989"/>
<path d="M56 14h1" stroke="#3f4788"/>
<path d="M57 14h1" stroke="#404588"/>
<path d="M58 14h1" stroke="#414287"/>
<path d="M59 14h1" stroke="#424086"/>
<path d="M60 14h1" stroke="#433e85"/>
<path d="M61 14h2" stroke="#443b84"/>
<path d="M0 15h2" stroke="#2d718e"/>
<path d="M2 15h1" stroke="#287c8e"/>
<path d="M3 15h1" stroke="#26818e"/>
<path d="M4 15h1" stroke="#25848e"/>
<path d="M5 15h1" stroke="#238a8d"/>
<path d="M6 15h1" stroke="#21918c"/>
<path d="M7 15h2" stroke="#20928c"/>
<path d="M9 15h1" stroke="#1f958b"/>
<path d="M10 15h5" stroke="#1f978b"/>
<path d="M15 15h1" stroke="#1f968b"/>
<path d="M16 15h1" stroke="#1f958b"/>
<path d="M17 15h1" stroke="#1f948c"/>
<path d="M18 15h1" stroke="#20938c"/>
<path d="M19 15h1" stroke="#20928c"/>
<path d="M20 15h1" stroke="#21918c"/>
<path d="M21 15h1" stroke="#218f8d"/>
<path d="M22 15h1" stroke="#228d8d"/>
<path d="M23 15h1" stroke="#228b8d"/>
<path d="M24 15h1" stroke="#238a8d"/>
<path d="M25 15h1" stroke="#23888e"/>
<path d="M26 15h1" stroke="#24868e"/>
<path d="M27 15h1" stroke="#25848e"/>
<path d="M28 15h1" stroke="#26828e"/>
<path d="M29 15h1" stroke="#26818e"/>
<path d="M30 15h1" stroke="#277f8e"/>
<path d="M31 15h1" stroke="#287d8e"/>
<path d="M32 15h1" stroke="#297b8e"/>
<path d="M33 15h1" stroke="#29798e"/>
<path d="M34 15h1" stroke="#2a788e"/>
<path d="M35 15h1" stroke="#2a768e"/>
<path d="M36 15h1" stroke="#2b748e"/>
<path d="M37 15h1" stroke="#2c728e"/>
<path d="M38 15h1" stroke="#2d718e"/>
<path d="M39 15h1" stroke="#2e6f8e"/>
<path d="M40 15h1" stroke="#2e6d8e"/>
<path d="M41 15h1" stroke="#2f6b8e"/>
<path d="M42 15h1" stroke="#31688e"/>
<path d="M43 15h1" stroke="#31668e"/>
<path d="M44 15h1" stroke="#32648e"/>
<path d="M45 15h1" stroke="#33628d"/>
<path d="M46 15h1" stroke="#34608d"/>
<path d="M47 15h1" stroke="#365d8d"/>
<path d="M48 15h1" stroke="#375b8d"/>
<path d="M49 15h1" stroke="#38598c"/>
<path d="M50 15h1" stroke="#39558c"/>
<path d="M51 15h1" stroke="#3a538b"/>
<path d="M52 15h1" stroke="#3b518b"/>
<path d="M53 15h1" stroke="#3d4e8a"/>
<path d="M54 15h1" stroke="#3e4c8a"/>
<path d="M55 15h1" stroke="#3e4a89"/>
<path d="M56 15h1" stroke="#3f4889"/>
<path d="M57 15h1" stroke="#404688"/>
<path d="M58 15h1" stroke="#414487"/>
<path d="M59 15h1" stroke="#424186"/>
<path d="M60 15h1" stroke="#423f85"/>
<path d="M61 15h2" stroke="#433d84"/>
<path d="M0 16h2" stroke="#29798e"/>
<path d="M2 16h1" stroke="#26828e"/>
<path d="M3 16h1" stroke="#24868e"/>
<path d="M4 16h1" stroke="#238a8d"/>
<path d="M5 16h1" stroke="#21918c"/>
<path d="M6 16h1" stroke="#1f978b"/>
<path d="M7 16h1" stroke="#1f988b"/>
<path d="M8 16h1" stroke="#1f998a"/>
<path d="M9 16h5" stroke="#1e9d89"/>
<path d="M14 16h1" stroke="#1e9c89"/>
<path d="M15 16h1" stroke="#1e9b8a"/>
<path d="M16 16h2" stroke="#1f9a8a"/>
<path d="M18 16h1" stroke="#1f988b"/>
<path d="M19 16h1" stroke="#1f968b"/>
<path d="M20 16h1" stroke="#20938c"/>
<path d="M21 16h1" stroke="#20928c"/>
<path d="M22 16h1" stroke="#21908d"/>
<path d="M23 16h1" stroke="#218e8d"/>
<path d="M24 16h1" stroke="#228c8d"/>
<path d="M25 16h1" stroke="#238a8d"/>
<path d="M26 16h1" stroke="#23888e"/>
<path d="M27 16h1" stroke="#24868e"/>
<path d="M28 16h1" stroke="#25848e"/>
<path d="M29 16h1" stroke="#25838e"/>
<path d="M30 16h1" stroke="#26828e"/>
<path d="M31 16h1" stroke="#27808e"/>
<path d="M32 16h1" stroke="#277e8e"/>
<path d="M33 16h1" stroke="#287c8e"/>
<path d="M34 16h1" stroke="#297a8e"/>
<path d="M35 16h1" stroke="#2a788e"/>
<path d="M36 16h1" stroke="#2a768e"/>
<path d="M37 16h1" stroke="#2b748e"/>
<path d="M38 16h1" stroke="#2c728e"/>
<path d="M39 16h1" stroke="#2d718e"/>
<path d="M40 16h1" stroke="#2e6f8e"/>
<path d="M41 16h1" stroke="#2f6c8e"/>
<path d="M42 16h1" stroke="#306a8e"/>
<path d="M43 16h1" stroke="#31688e"/>
<path d="M44 16h1" stroke="#31668e"/>
<path d="M45 16h1" stroke="#32648e"/>
<path d="M46 16h1" stroke="#34618d"/>
<path d="M47 16h1" stroke="#355f8d"/>
<path d="M48 16h1" stroke="#365c8d"/>
<path d="M49 16h1" stroke="#375a8c"/>
<path d="M50 16h1" stroke="#39568c"/>
<path d="M51 16h1" stroke="#3a548c"/>
<path d="M52 16h1" stroke="#3b528b"/>
<path d="M53 16h1" stroke="#3c4f8a"/>
<path d="M54 16h1" stroke="#3d4d8a"/>
<path d="M55 16h1" stroke="#3e4a89"/>
<path d="M56 16h1" stroke="#3e4989"/>
<path d="M57 16h1" stroke="#3f4788"/>
<path d="M58 16h1" stroke="#404588"/>
<path d="M59 16h1" stroke="#414287"/>
<path d="M60 16h1" stroke="#424086"/>
<path d="M61 16h2" stroke="#433e85"/>
<path d="M0 17h2" stroke="#26818e"/>
<path d="M2 17h1" stroke="#24878e"/>
<path d="M3 17h1" stroke="#228c8d"/>
<path d="M4 17h1" stroke="#21918c"/>
<path d="M5 17h1" stroke="#1f998a"/>
<path d="M6 17h2" stroke="#1e9c89"/>
<path d="M8 17h1" stroke="#1fa088"/>
<path d="M9 17h4" stroke="#1fa187"/>
<path d="M13 17h1" stroke="#1fa188"/>
<path d="M14 17h1" stroke="#1fa088"/>
<path d="M15 17h1" stroke="#1f9f88"/>
<path d="M16 17h1" stroke="#1f9e89"/>
<path d="M17 17h1" stroke="#1e9d89"/>
<path d="M18 17h1" stroke="#1e9b8a"/>
<path d="M19 17h1" stroke="#1f998a"/>
<path d="M20 17h1" stroke="#1f978b"/>
<path d="M21 17h1" stroke="#1f948c"/>
<path d="M22 17h1" stroke="#20928c"/>
<path d="M23 17h1" stroke="#21908d"/>
<path d="M24 17h1" stroke="#218e8d"/>
<path d="M25 17h1" stroke="#228d8d"/>
<path d="M26 17h1" stroke="#228b8d"/>
<path d="M27 17h1" stroke="#23898e"/>
<path d="M28 17h1" stroke="#24878e"/>
<path d="M29 17h1" stroke="#25858e"/>
<path d="M30 17h1" stroke="#25838e"/>
<path d="M31 17h1" stroke="#26828e"/>
<path d="M32 17h1" stroke="#27808e"/>
<path d="M33 17h1" stroke="#277e8e"/>
<path d="M34 17h1" stroke="#287c8e"/>
<path d="M35 17h1" stroke="#297a8e"/>
<path d="M36 17h1" stroke="#2a788e"/>
<path d="M37 17h1" stroke="#2a768e"/>
<path d="M38 17h1" stroke="#2b748e"/>
<path d="M39 17h1" stroke="#2c728e"/>
<path d="M40 17h1" stroke="#2d708e"/>
<path d="M41 17h1" stroke="#2e6e8e"/>
<path d="M42 17h1" stroke="#2f6c8e"/>
<path d="M43 17h1" stroke="#306a8e"/>
<path d="M44 17h1" stroke="#31688e"/>
<path d="M45 17h1" stroke="#32658e"/>
<path d="M46 17h1" stroke="#33628d"/>
<path d="M47 17h1" stroke="#34608d"/>
<path d="M48 17h1" stroke="#365d8d"/>
<path d="M49 17h1" stroke="#375b8d"/>
<path d="M50 17h1" stroke="#38588c"/>
<path d="M51 17h1" stroke="#39558c"/>
<path d="M52 17h1" stroke="#3a538b"/>
<path d="M53 17h1" stroke="#3b518b"/>
<path d="M54 17h1" stroke="#3d4e8a"/>
<path d="M55 17h1" stroke="#3e4c8a"/>
<path d="M56 17h1" stroke="#3e4a89"/>
<path d="M57 17h1" stroke="#3f4889"/>
<path d="M58 17h1" stroke="#404688"/>
<path d="M59 17h1" stroke="#414487"/>
<path d="M60 17h1" stroke="#424186"/>
<path d="M61 17h2" stroke="#423f85"/>
<path d="M0 18h2" stroke="#23898e"/>
<path d="M2 18h1" stroke="#218e8d"/>
<path d="M3 18h1" stroke="#20938c"/>
<path d="M4 18h1" stroke="#1f9a8a"/>
<path d="M5 18h1" stroke="#1f9e89"/>
<path d="M6 18h1" stroke="#1fa088"/>
<path d="M7 18h1" stroke="#1fa187"/>
<path d="M8 18h4" stroke="#23a983"/>
<path d="M12 18h1" stroke="#22a884"/>
<path d="M13 18h1" stroke="#21a585"/>
<path d="M14 18h1" stroke="#20a386"/>
<path d="M15 18h1" stroke="#1fa187"/>
<path d="M16 18h1" stroke="#1fa088"/>
<path d="M17 18h1" stroke="#1f9f88"/>
<path d="M18 18h1" stroke="#1e9d89"/>
<path d="M19 18h1" stroke="#1e9b8a"/>
<path d="M20 18h1" stroke="#1f9a8a"/>
<path d="M21 18h1" stroke="#1f988b"/>
<path d="M22 18h1" stroke="#1f958b"/>
<path d="M23 18h1" stroke="#20928c"/>
<path d="M24 18h1" stroke="#21918c"/>
<path d="M25 18h1" stroke="#218f8d"/>
<path d="M26 18h1" stroke="#228d8d"/>
<path d="M27 18h1" stroke="#228b8d"/>
<path d="M28 18h1" stroke="#238a8d"/>
<path d="M29 18h1" stroke="#23888e"/>
<path d="M30 18h1" stroke="#24868e"/>
<path d="M31 18h1" stroke="#25848e"/>
<path d="M32 18h1" stroke="#26828e"/>
<path d="M33 18h1" stroke="#26818e"/>
<path d="M34 18h1" stroke="#277e8e"/>
<path d="M35 18h1" stroke="#287c8e"/>
<path d="M36 18h1" stroke="#297a8e"/>
<path d="M37 18h1" stroke="#2a788e"/>
<path d="M38 18h1" stroke="#2a768e"/>
<path d="M39 18h1" stroke="#2c738e"/>
<path d="M40 18h1" stroke="#2c718e"/>
<path d="M41 18h1" stroke="#2d708e"/>
<path d="M42 18h1" stroke="#2e6e8e"/>
<path d="M43 18h1" stroke="#2f6b8e"/>
<path d="M44 18h1" stroke="#30698e"/>
<path d="M45 18h1" stroke="#31668e"/>
<path d="M46 18h1" stroke="#33638d"/>
<path d="M47 18h1" stroke="#34618d"/>
<path d="M48 18h1" stroke="#355e8d"/>
<path d="M49 18h1" stroke="#365c8d"/>
<path d="M50 18h1" stroke="#375a8c"/>
<path d="M51 18h1" stroke="#39568c"/>
<path d="M52 18h1" stroke="#3a548c"/>
<path d="M53 18h1" stroke="#3b528b"/>
<path d="M54 18h1" stroke="#3c4f8a"/>
<path d="M55 18h1" stroke="#3d4d8a"/>
<path d="M56 18h1" stroke="#3e4c8a"/>
<path d="M57 18h1" stroke="#3e4989"/>
<path d="M58 18h1" stroke="#3f4788"/>
<path d="M59 18h1" stroke="#404588"/>
<path d="M60 18h1" stroke="#414287"/>
<path d="M61 18h2" stroke="#424086"/>
<path d="M0 19h2" stroke="#20928c"/>
<path d="M2 19h1" stroke="#1f988b"/>
<path d="M3 19h1" stroke="#1e9c89"/>
<path d="M4 19h1" stroke="#1fa088"/>
<path d="M5 19h1" stroke="#1fa287"/>
<path d="M6 19h1" stroke="#20a386"/>
<path d="M7 19h1" stroke="#27ad81"/>
<path d="M8 19h4" stroke="#29af7f"/>
<path d="M12 19h1" stroke="#26ad81"/>
<path d="M13 19h1" stroke="#23a983"/>
<path d="M14 19h1" stroke="#21a685"/>
<path d="M15 19h1" stroke="#20a486"/>
<path d="M16 19h1" stroke="#1fa287"/>
<path d="M17 19h1" stroke="#1fa188"/>
<path d="M18 19h1" stroke="#1f9f88"/>
<path d="M19 19h1" stroke="#1f9e89"/>
<path d="M20 19h1" stroke="#1e9c89"/>
<path d="M21 19h1" stroke="#1f9a8a"/>
<path d="M22 19h1" stroke="#1f998a"/>
<path d="M23 19h1" stroke="#1f968b"/>
<path d="M24 19h1" stroke="#20938c"/>
<path d="M25 19h1" stroke="#20928c"/>
<path d="M26 19h1" stroke="#21908d"/>
<path d="M27 19h1" stroke="#218e8d"/>
<path d="M28 19h1" stroke="#228c8d"/>
<path d="M29 19h1" stroke="#238a8d"/>
<path d="M30 19h1" stroke="#23888e"/>
<path d="M31 19h1" stroke="#24868e"/>
<path d="M32 19h1" stroke="#25848e"/>
<path d="M33 19h1" stroke="#26828e"/>
<path d="M34 19h1" stroke="#27808e"/>
<path d="M35 19h1" stroke="#277e8e"/>
<path d="M36 19h1" stroke="#287c8e"/>
<path d="M37 19h1" stroke="#29798e"/>
<path d="M38 19h1" stroke="#2a778e"/>
<path d="M39 19h1" stroke="#2b758e"/>
<path d="M40 19h1" stroke="#2c728e"/>
<path d="M41 19h1" stroke="#2d718e"/>
<path d="M42 19h1" stroke="#2e6e8e"/>
<path d="M43 19h1" stroke="#2f6c8e"/>
<path d="M44 19h1" stroke="#306a8e"/>
<path d="M45 19h1" stroke="#31678e"/>
<path d="M46 19h1" stroke="#32648e"/>
<path d="M47 19h1" stroke="#33628d"/>
<path d="M48 19h1" stroke="#355f8d"/>
<path d="M49 19h1" stroke="#365d8d"/>
<path d="M50 19h1" stroke="#375b8d"/>
<path d="M51 19h1" stroke="#38588c"/>
<path d="M52 19h1" stroke="#39558c"/>
<path d="M53 19h1" stroke="#3a538b"/>
<path d="M54 19h1" stroke="#3b518b"/>
<path d="M55 19h1" stroke="#3d4e8a"/>
<path d="M56 19h1" stroke="#3e4c8a"/>
<path d="M57 19h1" stroke="#3e4a89"/>
<path d="M58 19h1" stroke="#3f4889"/>
<path d="M59 19h1" stroke="#404688"/>
<path d="M60 19h1" stroke="#414487"/>
<path d="M61 19h2" stroke="#424186"/>
<path d="M0 20h2" stroke="#1e9c89"/>
<path d="M2 20h1" stroke="#1f9f88"/>
<path d="M3 20h1" stroke="#1fa187"/>
<path d="M4 20h1" stroke="#21a585"/>
<path d="M5 20h1" stroke="#22a884"/>
<path d="M6 20h1" stroke="#27ad81"/>
<path d="M7 20h4" stroke="#34b679"/>
<path d="M11 20h1" stroke="#2fb47c"/>
<path d="M12 20h1" stroke="#2cb17e"/>
<path d="M13 20h1" stroke="#28ae80"/>
<path d="M14 20h1" stroke="#24aa83"/>
<path d="M15 20h1" stroke="#22a785"/>
<path d="M16 20h1" stroke="#21a585"/>
<path d="M17 20h1" stroke="#1fa287"/>
<path d="M18 20h1" stroke="#1fa187"/>
<path d="M19 20h1" stroke="#1fa088"/>
<path d="M20 20h1" stroke="#1f9e89"/>
<path d="M21 20h1" stroke="#1e9d89"/>
<path d="M22 20h1" stroke="#1e9b8a"/>
<path d="M23 20h1" stroke="#1f998a"/>
<path d="M24 20h1" stroke="#1f978b"/>
<path d="M25 20h1" stroke="#1f958b"/>
<path d="M26 20h1" stroke="#20928c"/>
<path d="M27 20h1" stroke="#21918c"/>
<path d="M28 20h1" stroke="#218f8d"/>
<path d="M29 20h1" stroke="#228d8d"/>
<path d="M30 20h1" stroke="#238a8d"/>
<path d="M31 20h1" stroke="#23888e"/>
<path d="M32 20h1" stroke="#24868e"/>
<path d="M33 20h1" stroke="#25838e"/>
<path d="M34 20h1" stroke="#26828e"/>
<path d="M35 20h1" stroke="#277f8e"/>
<path d="M36 20h1" stroke="#287d8e"/>
<path d="M37 20h1" stroke="#297b8e"/>
<path d="M38 20h1" stroke="#2a788e"/>
<path d="M39 20h1" stroke="#2a768e"/>
<path d="M40 20h1" stroke="#2c738e"/>
<path d="M41 20h1" stroke="#2c718e"/>
<path d="M42 20h1" stroke="#2e6f8e"/>
<path d="M43 20h1" stroke="#2e6d8e"/>
<path d="M44 20h1" stroke="#306a8e"/>
<path d="M45 20h1" stroke="#31688e"/>
<path d="M46 20h1" stroke="#32658e"/>
<path d="M47 20h1" stroke="#33638d"/>
<path d="M48 20h1" stroke="#34608d"/>
<path d="M49 20h1" stroke="#355e8d"/>
<path d="M50 20h1" stroke="#365c8d"/>
<path d="M51 20h1" stroke="#38598c"/>
<path d="M52 20h1" stroke="#39568c"/>
<path d="M53 20h1" stroke="#3a548c"/>
<path d="M54 20h1" stroke="#3b528b"/>
<path d="M55 20h1" stroke="#3c4f8a"/>
<path d="M56 20h1" stroke="#3d4d8a"/>
<path d="M57 20h1" stroke="#3e4c8a"/>
<path d="M58 20h1" stroke="#3e4989"/>
<path d="M59 20h1" stroke="#3f4788"/>
<path d="M60 20h1" stroke="#404588"/>
<path d="M61 20h2" stroke="#414287"/>
<path d="M0 21h2" stroke="#20a386"/>
<path d="M2 21h1" stroke="#22a785"/>
<path d="M3 21h1" stroke="#25ab82"/>
<path d="M4 21h1" stroke="#29af7f"/>
<path d="M5 21h1" stroke="#2eb37c"/>
<path d="M6 21h5" stroke="#38b977"/>
<path d="M11 21h1" stroke="#37b878"/>
<path d="M12 21h1" stroke="#34b679"/>
<path d="M13 21h1" stroke="#2eb37c"/>
<path d="M14 21h1" stroke="#29af7f"/>
<path d="M15 21h1" stroke="#25ac82"/>
<path d="M16 21h1" stroke="#22a884"/>
<path d="M17 21h1" stroke="#21a685"/>
<path d="M18 21h1" stroke="#20a386"/>
<path d="M19 21h1" stroke="#1fa187"/>
<path d="M20 21h1" stroke="#1fa188"/>
<path d="M21 21h1" stroke="#1f9f88"/>
<path d="M22 21h1" stroke="#1f9e89"/>
<path d="M23 21h1" stroke="#1e9c89"/>
<path d="M24 21h1" stroke="#1f9a8a"/>
<path d="M25 21h1" stroke="#1f998a"/>
<path d="M26 21h1" stroke="#1f968b"/>
<path d="M27 21h1" stroke="#20938c"/>
<path d="M28 21h1" stroke="#21918c"/>
<path d="M29 21h1" stroke="#218e8d"/>
<path d="M30 21h1" stroke="#228c8d"/>
<path d="M31 21h1" stroke="#238a8d"/>
<path d="M32 21h1" stroke="#24878e"/>
<path d="M33 21h1" stroke="#25858e"/>
<path d="M34 21h1" stroke="#26828e"/>
<path d="M35 21h1" stroke="#26818e"/>
<path d="M36 21h1" stroke="#277e8e"/>
<path d="M37 21h1" stroke="#287c8e"/>
<path d="M38 21h1" stroke="#29798e"/>
<path d="M39 21h1" stroke="#2a778e"/>
<path d="M40 21h1" stroke="#2b748e"/>
<path d="M41 21h1" stroke="#2c728e"/>
<path d="M42 21h1" stroke="#2d708e"/>
<path d="M43 21h1" stroke="#2e6e8e"/>
<path d="M44 21h1" stroke="#2f6b8e"/>
<path d="M45 21h1" stroke="#30698e"/>
<path d="M46 21h1" stroke="#31668e"/>
<path d="M47 21h1" stroke="#32648e"/>
<path d="M48 21h1" stroke="#34618d"/>
<path d="M49 21h1" stroke="#355f8d"/>
<path d="M50 21h1" stroke="#365d8d"/>
<path d="M51 21h1" stroke="#375a8c"/>
<path d="M52 21h1" stroke="#38588c"/>
<path d="M53 21h1" stroke="#39558c"/>
<path d="M54 21h1" stroke="#3a538b"/>
<path d="M55 21h1" stroke="#3b518b"/>
<path d="M56 21h1" stroke="#3d4e8a"/>
<path d="M57 21h1" stroke="#3d4d8a"/>
<path d="M58 21h1" stroke="#3e4a89"/>
<path d="M59 21h1" stroke="#3f4889"/>
<path d="M60 21h1" stroke="#404688"/>
<path d="M61 21h2" stroke="#414487"/>
<path d="M0 22h2" stroke="#2db27d"/>
<path d="M2 22h1" stroke="#34b679"/>
<path d="M3 22h1" stroke="#37b878"/>
<path d="M4 22h1" stroke="#38b977"/>
<path d="M5 22h1" stroke="#3bbb75"/>
<path d="M6 22h4" stroke="#40bd72"/>
<path d="M10 22h1" stroke="#3dbc74"/>
<path d="M11 22h1" stroke="#3bbb75"/>
<path d="M12 22h1" stroke="#38b977"/>
<path d="M13 22h1" stroke="#35b779"/>
<path d="M14 22h1" stroke="#31b57b"/>
<path d="M15 22h1" stroke="#2ab07f"/>
<path d="M16 22h1" stroke="#26ad81"/>
<path d="M17 22h1" stroke="#23a983"/>
<path d="M18 22h1" stroke="#22a785"/>
<path d="M19 22h1" stroke="#21a585"/>
<path d="M20 22h1" stroke="#20a386"/>
<path d="M21 22h1" stroke="#1fa187"/>
<path d="M22 22h1" stroke="#1fa088"/>
<path d="M23 22h1" stroke="#1f9f88"/>
<path d="M24 22h1" stroke="#1e9d89"/>
<path d="M25 22h1" stroke="#1e9b8a"/>
<path d="M26 22h1" stroke="#1f988b"/>
<path d="M27 22h1" stroke="#1f958b"/>
<path d="M28 22h1" stroke="#20928c"/>
<path d="M29 22h1" stroke="#21908d"/>
<path d="M30 22h1" stroke="#228d8d"/>
<path d="M31 22h1" stroke="#228b8d"/>
<path d="M32 22h1" stroke="#23898e"/>
<path d="M33 22h1" stroke="#24868e"/>
<path d="M34 22h1" stroke="#25838e"/>
<path d="M35 22h1" stroke="#26828e"/>
<path d="M36 22h1" stroke="#277f8e"/>
<path d="M37 22h1" stroke="#287d8e"/>
<path d="M38 22h1" stroke="#297a8e"/>
<path d="M39 22h1" stroke="#2a788e"/>
<path d="M40 22h1" stroke="#2b758e"/>
<path d="M41 22h1" stroke="#2c738e"/>
<path d="M42 22h1" stroke="#2d718e"/>
<path d="M43 22h1" stroke="#2e6f8e"/>
<path d="M44 22h1" stroke="#2f6c8e"/>
<path d="M45 22h1" stroke="#306a8e"/>
<path d="M46 22h1" stroke="#31678e"/>
<path d="M47 22h1" stroke="#32658e"/>
<path d="M48 22h1" stroke="#33628d"/>
<path d="M49 22h1" stroke="#34608d"/>
<path d="M50 22h1" stroke="#355e8d"/>
<path d="M51 22h1" stroke="#375b8d"/>
<path d="M52 22h1" stroke="#38598c"/>
<path d="M53 22h1" stroke="#39568c"/>
<path d="M54 22h1" stroke="#3a548c"/>
<path d="M55 22h1" stroke="#3b528b"/>
<path d="M56 22h1" stroke="#3c4f8a"/>
<path d="M57 22h1" stroke="#3d4d8a"/>
<path d="M58 22h1" stroke="#3e4c8a"/>
<path d="M59 22h1" stroke="#3e4989"/>
<path d="M60 22h1" stroke="#3f4788"/>
<path d="M61 22h2" stroke="#404588"/>
<path d="M0 23h2" stroke="#42be71"/>
<path d="M2 23h1" stroke="#44bf70"/>
<path d="M3 23h2" stroke="#46c06f"/>
<path d="M5 23h4" stroke="#4ac16d"/>
<path d="M9 23h2" stroke="#48c16e"/>
<path d="M11 23h1" stroke="#42be71"/>
<path d="M12 23h1" stroke="#3dbc74"/>
<path d="M13 23h1" stroke="#38b977"/>
<path d="M14 23h1" stroke="#37b878"/>
<path d="M15 23h1" stroke="#32b67a"/>
<path d="M16 23h1" stroke="#2db27d"/>
<path d="M17 23h1" stroke="#29af7f"/>
<path d="M18 23h1" stroke="#25ac82"/>
<path d="M19 23h1" stroke="#23a983"/>
<path d="M20 23h1" stroke="#22a785"/>
<path d="M21 23h1" stroke="#20a486"/>
<path d="M22 23h1" stroke="#1fa287"/>
<path d="M23 23h1" stroke="#1fa188"/>
<path d="M24 23h1" stroke="#1f9f88"/>
<path d="M25 23h1" stroke="#1e9c89"/>
<path d="M26 23h1" stroke="#1f9a8a"/>
<path d="M27 23h1" stroke="#1f988b"/>
<path d="M28 23h1" stroke="#1f948c"/>
<path d="M29 23h1" stroke="#20928c"/>
<path d="M30 23h1" stroke="#218f8d"/>
<path d="M31 23h1" stroke="#228c8d"/>
<path d="M32 23h1" stroke="#238a8d"/>
<path d="M33 23h1" stroke="#24878e"/>
<path d="M34 23h1" stroke="#25858e"/>
<path d="M35 23h1" stroke="#26828e"/>
<path d="M36 23h1" stroke="#27808e"/>
<path d="M37 23h1" stroke="#277e8e"/>
<path d="M38 23h1" stroke="#297b8e"/>
<path d="M39 23h1" stroke="#29798e"/>
<path d="M40 23h1" stroke="#2a768e"/>
<path d="M41 23h1" stroke="#2b748e"/>
<path d="M42 23h1" stroke="#2c718e"/>
<path d="M43 23h1" stroke="#2d708e"/>
<path d="M44 23h1" stroke="#2e6d8e"/>
<path d="M45 23h1" stroke="#2f6b8e"/>
<path d="M46 23h1" stroke="#31688e"/>
<path d="M47 23h1" stroke="#31668e"/>
<path d="M48 23h1" stroke="#33638d"/>
<path d="M49 23h1" stroke="#34618d"/>
<path d="M50 23h1" stroke="#355f8d"/>
<path d="M51 23h1" stroke="#365c8d"/>
<path d="M52 23h1" stroke="#375a8c"/>
<path d="M53 23h1" stroke="#38588c"/>
<path d="M54 23h1" stroke="#39558c"/>
<path d="M55 23h1" stroke="#3b528b"/>
<path d="M56 23h1" stroke="#3c508b"/>
<path d="M57 23h1" stroke="#3d4e8a"/>
<path d="M58 23h1" stroke="#3e4c8a"/>
<path d="M59 23h1" stroke="#3e4a89"/>
<path d="M60 23h1" stroke="#3f4889"/>
<path d="M61 23h2" stroke="#404688"/>
<path d="M0 24h2" stroke="#65cb5e"/>
<path d="M2 24h1" stroke="#63cb5f"/>
<path d="M3 24h1" stroke="#60ca60"/>
<path d="M4 24h1" stroke="#5ec962"/>
<path d="M5 24h4" stroke="#5cc863"/>
<path d="M9 24h1" stroke="#5ac864"/>
<path d="M10 24h1" stroke="#52c569"/>
<path d="M11 24h1" stroke="#48c16e"/>
<path d="M12 24h1" stroke="#42be71"/>
<path d="M13 24h1" stroke="#3dbc74"/>
<path d="M14 24h1" stroke="#3aba76"/>
<path d="M15 24h1" stroke="#37b878"/>
<path d="M16 24h1" stroke="#35b779"/>
<path d="M17 24h1" stroke="#31b57b"/>
<path d="M18 24h1" stroke="#2cb17e"/>
<path d="M19 24h1" stroke="#27ad81"/>
<path d="M20 24h1" stroke="#25ab82"/>
<path d="M21 24h1" stroke="#22a785"/>
<path d="M22 24h1" stroke="#20a486"/>
<path d="M23 24h1" stroke="#1fa187"/>
<path d="M24 24h1" stroke="#1fa088"/>
<path d="M25 24h1" stroke="#1f9e89"/>
<path d="M26 24h1" stroke="#1e9c89"/>
<path d="M27 24h1" stroke="#1f998a"/>
<path d="M28 24h1" stroke="#1f968b"/>
<path d="M29 24h1" stroke="#20928c"/>
<path d="M30 24h1" stroke="#21908d"/>
<path d="M31 24h1" stroke="#218e8d"/>
<path d="M32 24h1" stroke="#228b8d"/>
<path d="M33 24h1" stroke="#23898e"/>
<path d="M34 24h1" stroke="#24868e"/>
<path d="M35 24h1" stroke="#25838e"/>
<path d="M36 24h1" stroke="#26828e"/>
<path d="M37 24h1" stroke="#277f8e"/>
<path d="M38 24h1" stroke="#287c8e"/>
<path d="M39 24h1" stroke="#297a8e"/>
<path d="M40 24h1" stroke="#2a778e"/>
<path d="M41 24h1" stroke="#2b758e"/>
<path d="M42 24h1" stroke="#2c728e"/>
<path d="M43 24h1" stroke="#2d718e"/>
<path d="M44 24h1" stroke="#2e6e8e"/>
<path d="M45 24h1" stroke="#2f6c8e"/>
<path d="M46 24h1" stroke="#30698e"/>
<path d="M47 24h1" stroke="#31678e"/>
<path d="M48 24h1" stroke="#32648e"/>
<path d="M49 24h1" stroke="#33628d"/>
<path d="M50 24h1" stroke="#34608d"/>
<path d="M51 24h1" stroke="#365d8d"/>
<path d="M52 24h1" stroke="#375b8d"/>
<path d="M53 24h1" stroke="#38598c"/>
<path d="M54 24h1" stroke="#39558c"/>
<path d="M55 24h1" stroke="#3a538b"/>
<path d="M56 24h1" stroke="#3b518b"/>
<path d="M57 24h1" stroke="#3c4f8a"/>
<path d="M58 24h1" stroke="#3d4d8a"/>
<path d="M59 24h1" stroke="#3e4a89"/>
<path d="M60 24h1" stroke="#3f4889"/>
<path d="M61 24h2" stroke="#3f4788"/>
<path d="M0 25h2" stroke="#95d840"/>
<path d="M2 25h1" stroke="#86d549"/>
<path d="M3 25h1" stroke="#81d34d"/>
<path d="M4 25h1" stroke="#7ad151"/>
<path d="M5 25h1" stroke="#73d056"/>
<path d="M6 25h1" stroke="#70cf57"/>
<path d="M7 25h1" stroke="#6ccd5a"/>
<path d="M8 25h1" stroke="#69cd5b"/>
<path d="M9 25h1" stroke="#60ca60"/>
<path d="M10 25h1" stroke="#5ac864"/>
<path d="M11 25h1" stroke="#52c569"/>
<path d="M12 25h1" stroke="#4ac16d"/>
<path d="M13 25h1" stroke="#44bf70"/>
<path d="M14 25h1" stroke="#3fbc73"/>
<path d="M15 25h1" stroke="#3bbb75"/>
<path d="M16 25h1" stroke="#38b977"/>
<path d="M17 25h1" stroke="#35b779"/>
<path d="M18 25h1" stroke="#31b57b"/>
<path d="M19 25h1" stroke="#2cb17e"/>
<path d="M20 25h1" stroke="#27ad81"/>
<path d="M21 25h1" stroke="#24aa83"/>
<path d="M22 25h1" stroke="#22a785"/>
<path d="M23 25h1" stroke="#20a386"/>
<path d="M24 25h1" stroke="#1fa187"/>
<path d="M25 25h1" stroke="#1fa088"/>
<path d="M26 25h1" stroke="#1e9d89"/>
<path d="M27 25h1" stroke="#1e9b8a"/>
<path d="M28 25h1" stroke="#1f988b"/>
<path d="M29 25h1" stroke="#1f948c"/>
<path d="M30 25h1" stroke="#20928c"/>
<path d="M31 25h1" stroke="#218f8d"/>
<path d="M32 25h1" stroke="#228c8d"/>
<path d="M33 25h1" stroke="#238a8d"/>
<path d="M34 25h1" stroke="#24878e"/>
<path d="M35 25h1" stroke="#25848e"/>
<path d="M36 25h1" stroke="#26828e"/>
<path d="M37 25h1" stroke="#27808e"/>
<path d="M38 25h1" stroke="#287d8e"/>
<path d="M39 25h1" stroke="#297b8e"/>
<path d="M40 25h1" stroke="#2a788e"/>
<path d="M41 25h1" stroke="#2b758e"/>
<path d="M42 25h1" stroke="#2c738e"/>
<path d="M43 25h1" stroke="#2d718e"/>
<path d="M44 25h1" stroke="#2e6f8e"/>
<path d="M45 25h1" stroke="#2f6c8e"/>
<path d="M46 25h1" stroke="#306a8e"/>
<path d="M47 25h1" stroke="#31678e"/>
<path d="M48 25h1" stroke="#32658e"/>
<path d="M49 25h1" stroke="#33628d"/>
<path d="M50 25h1" stroke="#34608d"/>
<path d="M51 25h1" stroke="#355e8d"/>
<path d="M52 25h1" stroke="#375b8d"/>
<path d="M53 25h1" stroke="#38598c"/>
<path d="M54 25h1" stroke="#39568c"/>
<path d="M55 25h1" stroke="#3a548c"/>
<path d="M56 25h1" stroke="#3b528b"/>
<path d="M57 25h1" stroke="#3c4f8a"/>
<path d="M58 25h1" stroke="#3d4d8a"/>
<path d="M59 25h1" stroke="#3e4c8a"/>
<path d="M60 25h1" stroke="#3e4989"/>
<path d="M61 25h2" stroke="#3f4788"/>
<path d="M0 26h2" stroke="#b0dd2f"/>
<path d="M2 26h1" stroke="#a8db34"/>
<path d="M3 26h1" stroke="#98d83e"/>
<path d="M4 26h1" stroke="#8bd646"/>
<path d="M5 26h1" stroke="#86d549"/>
<path d="M6 26h1" stroke="#84d44b"/>
<path d="M7 26h1" stroke="#81d34d"/>
<path d="M8 26h1" stroke="#77d153"/>
<path d="M9 26h1" stroke="#6ccd5a"/>
<path d="M10 26h1" stroke="#63cb5f"/>
<path d="M11 26h1" stroke="#5cc863"/>
<path d="M12 26h1" stroke="#54c568"/>
<path d="M13 26h1" stroke="#4ac16d"/>
<path d="M14 26h1" stroke="#44bf70"/>
<path d="M15 26h1" stroke="#3fbc73"/>
<path d="M16 26h1" stroke="#3bbb75"/>
<path d="M17 26h1" stroke="#38b977"/>
<path d="M18 26h1" stroke="#35b779"/>
<path d="M19 26h1" stroke="#2fb47c"/>
<path d="M20 26h1" stroke="#2ab07f"/>
<path d="M21 26h1" stroke="#26ad81"/>
<path d="M22 26h1" stroke="#23a983"/>
<path d="M23 26h1" stroke="#21a585"/>
<path d="M24 26h1" stroke="#1fa287"/>
<path d="M25 26h1" stroke="#1fa188"/>
<path d="M26 26h1" stroke="#1f9e89"/>
<path d="M27 26h1" stroke="#1e9c89"/>
<path d="M28 26h1" stroke="#1f998a"/>
<path d="M29 26h1" stroke="#1f968b"/>
<path d="M30 26h1" stroke="#20928c"/>
<path d="M31 26h1" stroke="#21908d"/>
<path d="M32 26h1" stroke="#228d8d"/>
<path d="M33 26h1" stroke="#238a8d"/>
<path d="M34 26h1" stroke="#23888e"/>
<path d="M35 26h1" stroke="#25858e"/>
<path d="M36 26h1" stroke="#26828e"/>
<path d="M37 26h1" stroke="#27808e"/>
<path d="M38 26h1" stroke="#277e8e"/>
<path d="M39 26h1" stroke="#297b8e"/>
<path d="M40 26h1" stroke="#29798e"/>
<path d="M41 26h1" stroke="#2a768e"/>
<path d="M42 26h1" stroke="#2c738e"/>
<path d="M43 26h1" stroke="#2c718e"/>
<path d="M44 26h1" stroke="#2e6f8e"/>
<path d="M45 26h1" stroke="#2e6d8e"/>
<path d="M46 26h1" stroke="#306a8e"/>
<path d="M47 26h1" stroke="#31688e"/>
<path d="M48 26h1" stroke="#32658e"/>
<path d="M49 26h1" stroke="#33638d"/>
<path d="M50 26h1" stroke="#34608d"/>
<path d="M51 26h1" stroke="#355e8d"/>
<path d="M52 26h1" stroke="#365c8d"/>
<path d="M53 26h1" stroke="#375a8c"/>
<path d="M54 26h1" stroke="#39568c"/>
<path d="M55 26h1" stroke="#3a548c"/>
<path d="M56 26h1" stroke="#3b528b"/>
<path d="M57 26h1" stroke="#3c508b"/>
<path d="M58 26h1" stroke="#3d4e8a"/>
<path d="M59 26h1" stroke="#3e4c8a"/>
<path d="M60 26h1" stroke="#3e4989"/>
<path d="M61 26h2" stroke="#3f4788"/>
<path d="M0 27h2" stroke="#c5e021"/>
<path d="M2 27h1" stroke="#b8de29"/>
<path d="M3 27h1" stroke="#addc30"/>
<path d="M4 27h1" stroke="#a2da37"/>
<path d="M5 27h1" stroke="#98d83e"/>
<path d="M6 27h1" stroke="#90d743"/>
<path d="M7 27h1" stroke="#89d548"/>
<path d="M8 27h1" stroke="#84d44b"/>
<path d="M9 27h1" stroke="#7cd250"/>
<path d="M10 27h1" stroke="#6ece58"/>
<path d="M11 27h1" stroke="#63cb5f"/>
<path d="M12 27h1" stroke="#5ac864"/>
<path d="M13 27h1" stroke="#50c46a"/>
<path d="M14 27h1" stroke="#48c16e"/>
<path d="M15 27h1" stroke="#42be71"/>
<path d="M16 27h1" stroke="#3dbc74"/>
<path d="M17 27h1" stroke="#3aba76"/>
<path d="M18 27h1" stroke="#37b878"/>
<path d="M19 27h1" stroke="#32b67a"/>
<path d="M20 27h1" stroke="#2db27d"/>
<path d="M21 27h1" stroke="#28ae80"/>
<path d="M22 27h1" stroke="#25ab82"/>
<path d="M23 27h1" stroke="#22a785"/>
<path d="M24 27h1" stroke="#20a386"/>
<path d="M25 27h1" stroke="#1fa188"/>
<path d="M26 27h1" stroke="#1f9f88"/>
<path d="M27 27h1" stroke="#1e9d89"/>
<path d="M28 27h1" stroke="#1f9a8a"/>
<path d="M29 27h1" stroke="#1f978b"/>
<path d="M30 27h1" stroke="#20938c"/>
<path d="M31 27h1" stroke="#21908d"/>
<path d="M32 27h1" stroke="#228d8d"/>
<path d="M33 27h1" stroke="#228b8d"/>
<path d="M34 27h1" stroke="#23888e"/>
<path d="M35 27h1" stroke="#25858e"/>
<path d="M36 27h1" stroke="#25838e"/>
<path d="M37 27h1" stroke="#26818e"/>
<path d="M38 27h1" stroke="#277e8e"/>
<path d="M39 27h1" stroke="#287c8e"/>
<path d="M40 27h1" stroke="#29798e"/>
<path d="M41 27h1" stroke="#2a768e"/>
<path d="M42 27h1" stroke="#2b748e"/>
<path d="M43 27h1" stroke="#2c718e"/>
<path d="M44 27h1" stroke="#2d708e"/>
<path d="M45 27h1" stroke="#2e6d8e"/>
<path d="M46 27h1" stroke="#306a8e"/>
<path d="M47 27h1" stroke="#31688e"/>
<path d="M48 27h1" stroke="#31668e"/>
<path d="M49 27h1" stroke="#33638d"/>
<path d="M50 27h1" stroke="#34618d"/>
<path d="M51 27h1" stroke="#355e8d"/>
<path d="M52 27h1" stroke="#365c8d"/>
<path d="M53 27h1" stroke="#375a8c"/>
<path d="M54 27h1" stroke="#38588c"/>
<path d="M55 27h1" stroke="#3a548c"/>
<path d="M56 27h1" stroke="#3b528b"/>
<path d="M57 27h1" stroke="#3c508b"/>
<path d="M58 27h1" stroke="#3d4e8a"/>
<path d="M59 27h1" stroke="#3e4c8a"/>
<path d="M60 27h1" stroke="#3e4989"/>
<path d="M61 27h2" stroke="#3f4889"/>
<path d="M0 28h2" stroke="#d5e21a"/>
<path d="M2 28h1" stroke="#cae11f"/>
<path d="M3 28h1" stroke="#bddf26"/>
<path d="M4 28h1" stroke="#b0dd2f"/>
<path d="M5 28h1" stroke="#aadc32"/>
<path d="M6 28h1" stroke="#a2da37"/>
<path d="M7 28h1" stroke="#98d83e"/>
<path d="M8 28h1" stroke="#8bd646"/>
<path d="M9 28h1" stroke="#84d44b"/>
<path d="M10 28h1" stroke="#7cd250"/>
<path d="M11 28h1" stroke="#6ccd5a"/>
<path d="M12 28h1" stroke="#5ec962"/>
<path d="M13 28h1" stroke="#54c568"/>
<path d="M14 28h1" stroke="#4ac16d"/>
<path d="M15 28h1" stroke="#44bf70"/>
<path d="M16 28h1" stroke="#3fbc73"/>
<path d="M17 28h1" stroke="#3aba76"/>
<path d="M18 28h1" stroke="#37b878"/>
<path d="M19 28h1" stroke="#34b679"/>
<path d="M20 28h1" stroke="#2fb47c"/>
<path d="M21 28h1" stroke="#29af7f"/>
<path d="M22 28h1" stroke="#25ac82"/>
<path d="M23 28h1" stroke="#22a884"/>
<path d="M24 28h1" stroke="#20a486"/>
<path d="M25 28h1" stroke="#1fa187"/>
<path d="M26 28h1" stroke="#1fa088"/>
<path d="M27 28h1" stroke="#1e9d89"/>
<path d="M28 28h1" stroke="#1e9b8a"/>
<path d="M29 28h1" stroke="#1f988b"/>
<path d="M30 28h1" stroke="#1f948c"/>
<path d="M31 28h1" stroke="#21918c"/>
<path d="M32 28h1" stroke="#218e8d"/>
<path d="M33 28h1" stroke="#228b8d"/>
<path d="M34 28h1" stroke="#23898e"/>
<path d="M35 28h1" stroke="#24868e"/>
<path d="M36 28h1" stroke="#25838e"/>
<path d="M37 28h1" stroke="#26818e"/>
<path d="M38 28h1" stroke="#277f8e"/>
<path d="M39 28h1" stroke="#287c8e"/>
<path d="M40 28h1" stroke="#29798e"/>
<path d="M41 28h1" stroke="#2a778e"/>
<path d="M42 28h1" stroke="#2b748e"/>
<path d="M43 28h1" stroke="#2c718e"/>
<path d="M44 28h1" stroke="#2d708e"/>
<path d="M45 28h1" stroke="#2e6d8e"/>
<path d="M46 28h1" stroke="#2f6b8e"/>
<path d="M47 28h1" stroke="#31688e"/>
<path d="M48 28h1" stroke="#31668e"/>
<path d="M49 28h1" stroke="#33638d"/>
<path d="M50 28h1" stroke="#34618d"/>
<path d="M51 28h1" stroke="#355f8d"/>
<path d="M52 28h1" stroke="#365c8d"/>
<path d="M53 28h1" stroke="#375a8c"/>
<path d="M54 28h1" stroke="#38588c"/>
<path d="M55 28h1" stroke="#39558c"/>
<path d="M56 28h1" stroke="#3b528b"/>
<path d="M57 28h1" stroke="#3c508b"/>
<path d="M58 28h1" stroke="#3d4e8a"/>
<path d="M59 28h1" stroke="#3e4c8a"/>
<path d="M60 28h1" stroke="#3e4a89"/>
<path d="M61 28h2" stroke="#3f4889"/>
<path d="M0 29h2" stroke="#dfe318"/>
<path d="M2 29h1" stroke="#d8e219"/>
<path d="M3 29h1" stroke="#d0e11c"/>
<path d="M4 29h1" stroke="#c5e021"/>
<path d="M5 29h1" stroke="#bade28"/>
<path d="M6 29h1" stroke="#b0dd2f"/>
<path d="M7 29h1" stroke="#a8db34"/>
<path d="M8 29h1" stroke="#9dd93b"/>
<path d="M9 29h1" stroke="#8bd646"/>
<path d="M10 29h1" stroke="#81d34d"/>
<path d="M11 29h1" stroke="#6ece58"/>
<path d="M12 29h1" stroke="#60ca60"/>
<path d="M13 29h1" stroke="#54c568"/>
<path d="M14 29h1" stroke="#4ac16d"/>
<path d="M15 29h1" stroke="#44bf70"/>
<path d="M16 29h1" stroke="#40bd72"/>
<path d="M17 29h1" stroke="#3bbb75"/>
<path d="M18 29h1" stroke="#38b977"/>
<path d="M19 29h1" stroke="#35b779"/>
<path d="M20 29h1" stroke="#31b57b"/>
<path d="M21 29h1" stroke="#2cb17e"/>
<path d="M22 29h1" stroke="#27ad81"/>
<path d="M23 29h1" stroke="#24aa83"/>
<path d="M24 29h1" stroke="#21a685"/>
<path d="M25 29h1" stroke="#1fa287"/>
<path d="M26 29h1" stroke="#1fa188"/>
<path d="M27 29h1" stroke="#1f9e89"/>
<path d="M28 29h1" stroke="#1e9b8a"/>
<path d="M29 29h1" stroke="#1f998a"/>
<path d="M30 29h1" stroke="#1f958b"/>
<path d="M31 29h1" stroke="#20928c"/>
<path d="M32 29h1" stroke="#218f8d"/>
<path d="M33 29h1" stroke="#228c8d"/>
<path d="M34 29h1" stroke="#23898e"/>
<path d="M35 29h1" stroke="#24868e"/>
<path d="M36 29h1" stroke="#25848e"/>
<path d="M37 29h1" stroke="#26828e"/>
<path d="M38 29h1" stroke="#277f8e"/>
<path d="M39 29h1" stroke="#287c8e"/>
<path d="M40 29h1" stroke="#297a8e"/>
<path d="M41 29h1" stroke="#2a778e"/>
<path d="M42 29h1" stroke="#2b748e"/>
<path d="M43 29h1" stroke="#2c728e"/>
<path d="M44 29h1" stroke="#2d708e"/>
<path d="M45 29h1" stroke="#2e6e8e"/>
<path d="M46 29h1" stroke="#2f6b8e"/>
<path d="M47 29h1" stroke="#30698e"/>
<path d="M48 29h1" stroke="#31668e"/>
<path d="M49 29h1" stroke="#32648e"/>
<path d="M50 29h1" stroke="#34618d"/>
<path d="M51 29h1" stroke="#355f8d"/>
<path d="M52 29h1" stroke="#365d8d"/>
<path d="M53 29h1" stroke="#375a8c"/>
<path d="M54 29h1" stroke="#38588c"/>
<path d="M55 29h1" stroke="#39558c"/>
<path d="M56 29h1" stroke="#3a538b"/>
<path d="M57 29h1" stroke="#3c508b"/>
<path d="M58 29h1" stroke="#3d4e8a"/>
<path d="M59 29h1" stroke="#3e4c8a"/>
<path d="M60 29h1" stroke="#3e4a89"/>
<path d="M61 29h2" stroke="#3f4889"/>
<path d="M0 30h2" stroke="#eae51a"/>
<path d="M2 30h1" stroke="#e2e418"/>
<path d="M3 30h1" stroke="#dde318"/>
<path d="M4 30h1" stroke="#d8e219"/>
<path d="M5 30h1" stroke="#cde11d"/>
<path d="M6 30h1" stroke="#c0df25"/>
<path d="M7 30h1" stroke="#addc30"/>
<path d="M8 30h1" stroke="#a2da37"/>
<path d="M9 30h1" stroke="#8bd646"/>
<path d="M10 30h1" stroke="#81d34d"/>
<path d="M11 30h1" stroke="#6ece58"/>
<path d="M12 30h1" stroke="#60ca60"/>
<path d="M13 30h1" stroke="#54c568"/>
<path d="M14 30h1" stroke="#4cc26c"/>
<path d="M15 30h1" stroke="#46c06f"/>
<path d="M16 30h1" stroke="#40bd72"/>
<path d="M17 30h1" stroke="#3bbb75"/>
<path d="M18 30h1" stroke="#38b977"/>
<path d="M19 30h1" stroke="#35b779"/>
<path d="M20 30h1" stroke="#32b67a"/>
<path d="M21 30h1" stroke="#2db27d"/>
<path d="M22 30h1" stroke="#27ad81"/>
<path d="M23 30h1" stroke="#24aa83"/>
<path d="M24 30h1" stroke="#21a685"/>
<path d="M25 30h1" stroke="#20a386"/>
<path d="M26 30h1" stroke="#1fa188"/>
<path d="M27 30h1" stroke="#1f9e89"/>
<path d="M28 30h1" stroke="#1e9c89"/>
<path d="M29 30h1" stroke="#1f998a"/>
<path d="M30 30h1" stroke="#1f958b"/>
<path d="M31 30h1" stroke="#20928c"/>
<path d="M32 30h1" stroke="#218f8d"/>
<path d="M33 30h1" stroke="#228c8d"/>
<path d="M34 30h1" stroke="#23898e"/>
<path d="M35 30h1" stroke="#24878e"/>
<path d="M36 30h1" stroke="#25848e"/>
<path d="M37 30h1" stroke="#26828e"/>
<path d="M38 30h1" stroke="#277f8e"/>
<path d="M39 30h1" stroke="#287d8e"/>
<path d="M40 30h1" stroke="#297a8e"/>
<path d="M41 30h1" stroke="#2a778e"/>
<path d="M42 30h1" stroke="#2b758e"/>
<path d="M43 30h1" stroke="#2c728e"/>
<path d="M44 30h1" stroke="#2d708e"/>
<path d="M45 30h1" stroke="#2e6e8e"/>
<path d="M46 30h1" stroke="#2f6b8e"/>
<path d="M47 30h1" stroke="#30698e"/>
<path d="M48 30h1" stroke="#31668e"/>
<path d="M49 30h1" stroke="#32648e"/>
<path d="M50 30h1" stroke="#34618d"/>
<path d="M51 30h1" stroke="#355f8d"/>
<path d="M52 30h1" stroke="#365d8d"/>
<path d="M53 30h1" stroke="#375a8c"/>
<path d="M54 30h1" stroke="#38588c"/>
<path d="M55 30h1" stroke="#39558c"/>
<path d="M56 30h1" stroke="#3a538b"/>
<path d="M57 30h1" stroke="#3c508b"/>
<path d="M58 30h1" stroke="#3d4e8a"/>
<path d="M59 30h1" stroke="#3e4c8a"/>
<path d="M60 30h1" stroke="#3e4989"/>
<path d="M61 30h2" stroke="#3f4889"/>
<path d="M0 31h2" stroke="#f4e61e"/>
<path d="M2 31h1" stroke="#efe51c"/>
<path d="M3 31h1" stroke="#e5e419"/>
<path d="M4 31h1" stroke="#dae319"/>
<path d="M5 31h1" stroke="#d0e11c"/>
<path d="M6 31h1" stroke="#c0df25"/>
<path d="M7 31h1" stroke="#b0dd2f"/>
<path d="M8 31h1" stroke="#a2da37"/>
<path d="M9 31h1" stroke="#8bd646"/>
<path d="M10 31h1" stroke="#81d34d"/>
<path d="M11 31h1" stroke="#6ece58"/>
<path d="M12 31h1" stroke="#60ca60"/>
<path d="M13 31h1" stroke="#56c667"/>
<path d="M14 31h1" stroke="#4cc26c"/>
<path d="M15 31h1" stroke="#46c06f"/>
<path d="M16 31h1" stroke="#40bd72"/>
<path d="M17 31h1" stroke="#3bbb75"/>
<path d="M18 31h1" stroke="#38b977"/>
<path d="M19 31h1" stroke="#37b878"/>
<path d="M20 31h1" stroke="#32b67a"/>
<path d="M21 31h1" stroke="#2db27d"/>
<path d="M22 31h1" stroke="#28ae80"/>
<path d="M23 31h1" stroke="#25ab82"/>
<path d="M24 31h1" stroke="#21a685"/>
<path d="M25 31h1" stroke="#20a386"/>
<path d="M26 31h1" stroke="#1fa188"/>
<path d="M27 31h1" stroke="#1f9e89"/>
<path d="M28 31h1" stroke="#1e9c89"/>
<path d="M29 31h1" stroke="#1f998a"/>
<path d="M30 31h1" stroke="#1f958b"/>
<path d="M31 31h1" stroke="#20928c"/>
<path d="M32 31h1" stroke="#218f8d"/>
<path d="M33 31h1" stroke="#228c8d"/>
<path d="M34 31h1" stroke="#238a8d"/>
<path d="M35 31h1" stroke="#24878e"/>
<path d="M36 31h1" stroke="#25848e"/>
<path d="M37 31h1" stroke="#26828e"/>
<path d="M38 31h1" stroke="#277f8e"/>
<path d="M39 31h1" stroke="#287d8e"/>
<path d="M40 31h1" stroke="#297a8e"/>
<path d="M41 31h1" stroke="#2a778e"/>
<path d="M42 31h1" stroke="#2b758e"/>
<path d="M43 31h1" stroke="#2c728e"/>
<path d="M44 31h1" stroke="#2d718e"/>
<path d="M45 31h1" stroke="#2e6e8e"/>
<path d="M46 31h1" stroke="#2f6b8e"/>
<path d="M47 31h1" stroke="#30698e"/>
<path d="M48 31h1" stroke="#31668e"/>
<path d="M49 31h1" stroke="#32648e"/>
<path d="M50 31h1" stroke="#34618d"/>
<path d="M51 31h1" stroke="#355f8d"/>
<path d="M52 31h1" stroke="#365d8d"/>
<path d="M53 31h1" stroke="#375a8c"/>
<path d="M54 31h1" stroke="#38588c"/>
<path d="M55 31h1" stroke="#39558c"/>
<path d="M56 31h1" stroke="#3b528b"/>
<path d="M57 31h1" stroke="#3c508b"/>
<path d="M58 31h1" stroke="#3d4e8a"/>
<path d="M59 31h1" stroke="#3e4c8a"/>
<path d="M60 31h1" stroke="#3e4989"/>
<path d="M61 31h2" stroke="#3f4788"/>
<path d="M0 32h2" stroke="#f1e51d"/>
<path d="M2 32h1" stroke="#ece51b"/>
<path d="M3 32h1" stroke="#e2e418"/>
<path d="M4 32h1" stroke="#dae319"/>
<path d="M5 32h1" stroke="#cde11d"/>
<path d="M6 32h1" stroke="#c0df25"/>
<path d="M7 32h1" stroke="#addc30"/>
<path d="M8 32h1" stroke="#a2da37"/>
<path d="M9 32h1" stroke="#8bd646"/>
<path d="M10 32h1" stroke="#81d34d"/>
<path d="M11 32h1" stroke="#6ece58"/>
<path d="M12 32h1" stroke="#60ca60"/>
<path d="M13 32h1" stroke="#56c667"/>
<path d="M14 32h1" stroke="#4cc26c"/>
<path d="M15 32h1" stroke="#46c06f"/>
<path d="M16 32h1" stroke="#40bd72"/>
<path d="M17 32h1" stroke="#3bbb75"/>
<path d="M18 32h1" stroke="#38b977"/>
<path d="M19 32h1" stroke="#37b878"/>
<path d="M20 32h1" stroke="#32b67a"/>
<path d="M21 32h1" stroke="#2db27d"/>
<path d="M22 32h1" stroke="#28ae80"/>
<path d="M23 32h1" stroke="#25ab82"/>
<path d="M24 32h1" stroke="#21a685"/>
<path d="M25 32h1" stroke="#20a386"/>
<path d="M26 32h1" stroke="#1fa188"/>
<path d="M27 32h1" stroke="#1f9e89"/>
<path d="M28 32h1" stroke="#1e9c89"/>
<path d="M29 32h1" stroke="#1f998a"/>
<path d="M30 32h1" stroke="#1f958b"/>
<path d="M31 32h1" stroke="#20928c"/>
<path d="M32 32h1" stroke="#218f8d"/>
<path d="M33 32h1" stroke="#228c8d"/>
<path d="M34 32h1" stroke="#23898e"/>
<path d="M35 32h1" stroke="#24878e"/>
<path d="M36 32h1" stroke="#25848e"/>
<path d="M37 32h1" stroke="#26828e"/>
<path d="M38 32h1" stroke="#277f8e"/>
<path d="M39 32h1" stroke="#287d8e"/>
<path d="M40 32h1" stroke="#297a8e"/>
<path d="M41 32h1" stroke="#2a778e"/>
<path d="M42 32h1" stroke="#2b758e"/>
<path d="M43 32h1" stroke="#2c728e"/>
<path d="M44 32h1" stroke="#2d708e"/>
<path d="M45 32h1" stroke="#2e6e8e"/>
<path d="M46 32h1" stroke="#2f6b8e"/>
<path d="M47 32h1" stroke="#30698e"/>
<path d="M48 32h1" stroke="#31668e"/>
<path d="M49 32h1" stroke="#32648e"/>
<path d="M50 32h1" stroke="#34618d"/>
<path d="M51 32h1" stroke="#355f8d"/>
<path d="M52 32h1" stroke="#365c8d"/>
<path d="M53 32h1" stroke="#375a8c"/>
<path d="M54 32h1" stroke="#38588c"/>
<path d="M55 32h1" stroke="#3a548c"/>
<path d="M56 32h1" stroke="#3b528b"/>
<path d="M57 32h1" stroke="#3c508b"/>
<path d="M58 32h1" stroke="#3d4e8a"/>
<path d="M59 32h1" stroke="#3e4c8a"/>
<path d="M60 32h1" stroke="#3e4989"/>
<path d="M61 32h2" stroke="#3f4788"/>
<path d="M0 33h2" stroke="#e5e419"/>
<path d="M2 33h1" stroke="#dfe318"/>
<path d="M3 33h1" stroke="#dae319"/>
<path d="M4 33h1" stroke="#d2e21b"/>
<path d="M5 33h1" stroke="#c8e020"/>
<path d="M6 33h1" stroke="#bade28"/>
<path d="M7 33h1" stroke="#addc30"/>
<path d="M8 33h1" stroke="#a0da39"/>
<path d="M9 33h1" stroke="#8bd646"/>
<path d="M10 33h1" stroke="#81d34d"/>
<path d="M11 33h1" stroke="#6ece58"/>
<path d="M12 33h1" stroke="#60ca60"/>
<path d="M13 33h1" stroke="#56c667"/>
<path d="M14 33h1" stroke="#4cc26c"/>
<path d="M15 33h1" stroke="#46c06f"/>
<path d="M16 33h1" stroke="#40bd72"/>
<path d="M17 33h1" stroke="#3bbb75"/>
<path d="M18 33h1" stroke="#38b977"/>
<path d="M19 33h1" stroke="#35b779"/>
<path d="M20 33h1" stroke="#32b67a"/>
<path d="M21 33h1" stroke="#2db27d"/>
<path d="M22 33h1" stroke="#28ae80"/>
<path d="M23 33h1" stroke="#24aa83"/>
<path d="M24 33h1" stroke="#21a685"/>
<path d="M25 33h1" stroke="#20a386"/>
<path d="M26 33h1" stroke="#1fa188"/>
<path d="M27 33h1" stroke="#1f9e89"/>
<path d="M28 33h1" stroke="#1e9c89"/>
<path d="M29 33h1" stroke="#1f998a"/>
<path d="M30 33h1" stroke="#1f958b"/>
<path d="M31 33h1" stroke="#20928c"/>
<path d="M32 33h1" stroke="#218f8d"/>
<path d="M33 33h1" stroke="#228c8d"/>
<path d="M34 33h1" stroke="#23898e"/>
<path d="M35 33h1" stroke="#24868e"/>
<path d="M36 33h1" stroke="#25848e"/>
<path d="M37 33h1" stroke="#26828e"/>
<path d="M38 33h1" stroke="#277f8e"/>
<path d="M39 33h1" stroke="#287c8e"/>
<path d="M40 33h1" stroke="#297a8e"/>
<path d="M41 33h1" stroke="#2a778e"/>
<path d="M42 33h1" stroke="#2b758e"/>
<path d="M43 33h1" stroke="#2c728e"/>
<path d="M44 33h1" stroke="#2d708e"/>
<path d="M45 33h1" stroke="#2e6e8e"/>
<path d="M46 33h1" stroke="#2f6b8e"/>
<path d="M47 33h1" stroke="#30698e"/>
<path d="M48 33h1" stroke="#31668e"/>
<path d="M49 33h1" stroke="#32648e"/>
<path d="M50 33h1" stroke="#34618d"/>
<path d="M51 33h1" stroke="#355f8d"/>
<path d="M52 33h1" stroke="#365c8d"/>
<path d="M53 33h1" stroke="#375a8c"/>
<path d="M54 33h1" stroke="#39568c"/>
<path d="M55 33h1" stroke="#3a548c"/>
<path d="M56 33h1" stroke="#3b528b"/>
<path d="M57 33h1" stroke="#3c508b"/>
<path d="M58 33h1" stroke="#3d4e8a"/>
<path d="M59 33h1" stroke="#3e4c8a"/>
<path d="M60 33h1" stroke="#3e4989"/>
<path d="M61 33h2" stroke="#3f4788"/>
<path d="M0 34h2" stroke="#dae319"/>
<path d="M2 34h1" stroke="#d0e11c"/>
<path d="M3 34h1" stroke="#c8e020"/>
<path d="M4 34h1" stroke="#c0df25"/>
<path d="M5 34h1" stroke="#b5de2b"/>
<path d="M6 34h1" stroke="#addc30"/>
<path d="M7 34h1" stroke="#a8db34"/>
<path d="M8 34h1" stroke="#95d840"/>
<path d="M9 34h1" stroke="#86d549"/>
<path d="M10 34h1" stroke="#7fd34e"/>
<path d="M11 34h1" stroke="#69cd5b"/>
<path d="M12 34h1" stroke="#5ec962"/>
<path d="M13 34h1" stroke="#54c568"/>
<path d="M14 34h1" stroke="#4ac16d"/>
<path d="M15 34h1" stroke="#44bf70"/>
<path d="M16 34h1" stroke="#3fbc73"/>
<path d="M17 34h1" stroke="#3aba76"/>
<path d="M18 34h1" stroke="#37b878"/>
<path d="M19 34h1" stroke="#35b779"/>
<path d="M20 34h1" stroke="#2fb47c"/>
<path d="M21 34h1" stroke="#2ab07f"/>
<path d="M22 34h1" stroke="#26ad81"/>
<path d="M23 34h1" stroke="#23a983"/>
<path d="M24 34h1" stroke="#21a585"/>
<path d="M25 34h1" stroke="#1fa287"/>
<path d="M26 34h1" stroke="#1fa088"/>
<path d="M27 34h1" stroke="#1f9e89"/>
<path d="M28 34h1" stroke="#1e9b8a"/>
<path d="M29 34h1" stroke="#1f988b"/>
<path d="M30 34h1" stroke="#1f948c"/>
<path d="M31 34h1" stroke="#21918c"/>
<path d="M32 34h1" stroke="#218e8d"/>
<path d="M33 34h1" stroke="#228b8d"/>
<path d="M34 34h1" stroke="#23898e"/>
<path d="M35 34h1" stroke="#24868e"/>
<path d="M36 34h1" stroke="#25838e"/>
<path d="M37 34h1" stroke="#26818e"/>
<path d="M38 34h1" stroke="#277f8e"/>
<path d="M39 34h1" stroke="#287c8e"/>
<path d="M40 34h1" stroke="#29798e"/>
<path d="M41 34h1" stroke="#2a778e"/>
<path d="M42 34h1" stroke="#2b748e"/>
<path d="M43 34h1" stroke="#2c728e"/>
<path d="M44 34h1" stroke="#2d708e"/>
<path d="M45 34h1" stroke="#2e6e8e"/>
<path d="M46 34h1" stroke="#2f6b8e"/>
<path d="M47 34h1" stroke="#31688e"/>
<path d="M48 34h1" stroke="#31668e"/>
<path d="M49 34h1" stroke="#33638d"/>
<path d="M50 34h1" stroke="#34618d"/>
<path d="M51 34h1" stroke="#355e8d"/>
<path d="M52 34h1" stroke="#365c8d"/>
<path d="M53 34h1" stroke="#375a8c"/>
<path d="M54 34h1" stroke="#39568c"/>
<path d="M55 34h1" stroke="#3a548c"/>
<path d="M56 34h1" stroke="#3b528b"/>
<path d="M57 34h1" stroke="#3c4f8a"/>
<path d="M58 34h1" stroke="#3d4d8a"/>
<path d="M59 34h1" stroke="#3e4a89"/>
<path d="M60 34h1" stroke="#3f4889"/>
<path d="M61 34h2" stroke="#3f4788"/>
<path d="M0 35h2" stroke="#cde11d"/>
<path d="M2 35h1" stroke="#bade28"/>
<path d="M3 35h1" stroke="#b2dd2d"/>
<path d="M4 35h1" stroke="#aadc32"/>
<path d="M5 35h1" stroke="#a5db36"/>
<path d="M6 35h1" stroke="#a0da39"/>
<path d="M7 35h1" stroke="#93d741"/>
<path d="M8 35h1" stroke="#89d548"/>
<path d="M9 35h1" stroke="#84d44b"/>
<path d="M10 35h1" stroke="#75d054"/>
<path d="M11 35h1" stroke="#65cb5e"/>
<path d="M12 35h1" stroke="#5ac864"/>
<path d="M13 35h1" stroke="#50c46a"/>
<path d="M14 35h1" stroke="#48c16e"/>
<path d="M15 35h1" stroke="#42be71"/>
<path d="M16 35h1" stroke="#3dbc74"/>
<path d="M17 35h1" stroke="#3aba76"/>
<path d="M18 35h1" stroke="#37b878"/>
<path d="M19 35h1" stroke="#32b67a"/>
<path d="M20 35h1" stroke="#2db27d"/>
<path d="M21 35h1" stroke="#28ae80"/>
<path d="M22 35h1" stroke="#25ab82"/>
<path d="M23 35h1" stroke="#22a785"/>
<path d="M24 35h1" stroke="#20a386"/>
<path d="M25 35h1" stroke="#1fa187"/>
<path d="M26 35h1" stroke="#1f9f88"/>
<path d="M27 35h1" stroke="#1e9d89"/>
<path d="M28 35h1" stroke="#1f9a8a"/>
<path d="M29 35h1" stroke="#1f978b"/>
<path d="M30 35h1" stroke="#20938c"/>
<path d="M31 35h1" stroke="#21918c"/>
<path d="M32 35h1" stroke="#218e8d"/>
<path d="M33 35h1" stroke="#228b8d"/>
<path d="M34 35h1" stroke="#23888e"/>
<path d="M35 35h1" stroke="#25858e"/>
<path d="M36 35h1" stroke="#25838e"/>
<path d="M37 35h1" stroke="#26818e"/>
<path d="M38 35h1" stroke="#277e8e"/>
<path d="M39 35h1" stroke="#287c8e"/>
<path d="M40 35h1" stroke="#29798e"/>
<path d="M41 35h1" stroke="#2a768e"/>
<path d="M42 35h1" stroke="#2b748e"/>
<path d="M43 35h1" stroke="#2c718e"/>
<path d="M44 35h1" stroke="#2d708e"/>
<path d="M45 35h1" stroke="#2e6d8e"/>
<path d="M46 35h1" stroke="#2f6b8e"/>
<path d="M47 35h1" stroke="#31688e"/>
<path d="M48 35h1" stroke="#31668e"/>
<path d="M49 35h1" stroke="#33638d"/>
<path d="M50 35h1" stroke="#34608d"/>
<path d="M51 35h1" stroke="#355e8d"/>
<path d="M52 35h1" stroke="#365c8d"/>
<path d="M53 35h1" stroke="#38598c"/>
<path d="M54 35h1" stroke="#39568c"/>
<path d="M55 35h1" stroke="#3a538b"/>
<path d="M56 35h1" stroke="#3b518b"/>
<path d="M57 35h1" stroke="#3c4f8a"/>
<path d="M58 35h1" stroke="#3d4d8a"/>
<path d="M59 35h1" stroke="#3e4a89"/>
<path d="M60 35h1" stroke="#3f4889"/>
<path d="M61 35h2" stroke="#404688"/>
<path d="M0 36h2" stroke="#bddf26"/>
<path d="M2 36h1" stroke="#aadc32"/>
<path d="M3 36h1" stroke="#a0da39"/>
<path d="M4 36h1" stroke="#93d741"/>
<path d="M5 36h1" stroke="#8ed645"/>
<path d="M6 36h1" stroke="#89d548"/>
<path d="M7 36h1" stroke="#86d549"/>
<path d="M8 36h1" stroke="#84d44b"/>
<path d="M9 36h1" stroke="#7ad151"/>
<path d="M10 36h1" stroke="#69cd5b"/>
<path d="M11 36h1" stroke="#60ca60"/>
<path d="M12 36h1" stroke="#56c667"/>
<path d="M13 36h1" stroke="#4cc26c"/>
<path d="M14 36h1" stroke="#46c06f"/>
<path d="M15 36h1" stroke="#40bd72"/>
<path d="M16 36h1" stroke="#3bbb75"/>
<path d="M17 36h1" stroke="#38b977"/>
<path d="M18 36h1" stroke="#35b779"/>
<path d="M19 36h1" stroke="#2fb47c"/>
<path d="M20 36h1" stroke="#2ab07f"/>
<path d="M21 36h1" stroke="#26ad81"/>
<path d="M22 36h1" stroke="#23a983"/>
<path d="M23 36h1" stroke="#21a585"/>
<path d="M24 36h1" stroke="#1fa287"/>
<path d="M25 36h1" stroke="#1fa088"/>
<path d="M26 36h1" stroke="#1f9e89"/>
<path d="M27 36h1" stroke="#1e9c89"/>
<path d="M28 36h1" stroke="#1f998a"/>
<path d="M29 36h1" stroke="#1f968b"/>
<path d="M30 36h1" stroke="#20928c"/>
<path d="M31 36h1" stroke="#21908d"/>
<path d="M32 36h1" stroke="#228d8d"/>
<path d="M33 36h1" stroke="#238a8d"/>
<path d="M34 36h1" stroke="#23888e"/>
<path d="M35 36h1" stroke="#25858e"/>
<path d="M36 36h1" stroke="#26828e"/>
<path d="M37 36h1" stroke="#27808e"/>
<path d="M38 36h1" stroke="#277e8e"/>
<path d="M39 36h1" stroke="#297b8e"/>
<path d="M40 36h1" stroke="#2a788e"/>
<path d="M41 36h1" stroke="#2a768e"/>
<path d="M42 36h1" stroke="#2c738e"/>
<path d="M43 36h1" stroke="#2c718e"/>
<path d="M44 36h1" stroke="#2e6f8e"/>
<path d="M45 36h1" stroke="#2e6d8e"/>
<path d="M46 36h1" stroke="#306a8e"/>
<path d="M47 36h1" stroke="#31678e"/>
<path d="M48 36h1" stroke="#32658e"/>
<path d="M49 36h1" stroke="#33628d"/>
<path d="M50 36h1" stroke="#34608d"/>
<path d="M51 36h1" stroke="#365d8d"/>
<path d="M52 36h1" stroke="#375b8d"/>
<path d="M53 36h1" stroke="#38598c"/>
<path d="M54 36h1" stroke="#39558c"/>
<path d="M55 36h1" stroke="#3a538b"/>
<path d="M56 36h1" stroke="#3b518b"/>
<path d="M57 36h1" stroke="#3d4e8a"/>
<path d="M58 36h1" stroke="#3e4c8a"/>
<path d="M59 36h1" stroke="#3e4989"/>
<path d="M60 36h1" stroke="#3f4889"/>
<path d="M61 36h2" stroke="#404688"/>
<path d="M0 37h2" stroke="#aadc32"/>
<path d="M2 37h1" stroke="#90d743"/>
<path d="M3 37h1" stroke="#84d44b"/>
<path d="M4 37h1" stroke="#81d34d"/>
<path d="M5 37h1" stroke="#7cd250"/>
<path d="M6 37h1" stroke="#7ad151"/>
<path d="M7 37h1" stroke="#77d153"/>
<path d="M8 37h1" stroke="#75d054"/>
<path d="M9 37h1" stroke="#6ccd5a"/>
<path d="M10 37h1" stroke="#63cb5f"/>
<path d="M11 37h1" stroke="#5ac864"/>
<path d="M12 37h1" stroke="#50c46a"/>
<path d="M13 37h1" stroke="#48c16e"/>
<path d="M14 37h1" stroke="#42be71"/>
<path d="M15 37h1" stroke="#3dbc74"/>
<path d="M16 37h1" stroke="#3aba76"/>
<path d="M17 37h1" stroke="#37b878"/>
<path d="M18 37h1" stroke="#34b679"/>
<path d="M19 37h1" stroke="#2db27d"/>
<path d="M20 37h1" stroke="#28ae80"/>
<path d="M21 37h1" stroke="#25ab82"/>
<path d="M22 37h1" stroke="#22a785"/>
<path d="M23 37h1" stroke="#20a386"/>
<path d="M24 37h1" stroke="#1fa188"/>
<path d="M25 37h1" stroke="#1f9f88"/>
<path d="M26 37h1" stroke="#1e9d89"/>
<path d="M27 37h1" stroke="#1f9a8a"/>
<path d="M28 37h1" stroke="#1f978b"/>
<path d="M29 37h1" stroke="#1f948c"/>
<path d="M30 37h1" stroke="#21918c"/>
<path d="M31 37h1" stroke="#218e8d"/>
<path d="M32 37h1" stroke="#228c8d"/>
<path d="M33 37h1" stroke="#23898e"/>
<path d="M34 37h1" stroke="#24878e"/>
<path d="M35 37h1" stroke="#25848e"/>
<path d="M36 37h1" stroke="#26828e"/>
<path d="M37 37h1" stroke="#27808e"/>
<path d="M38 37h1" stroke="#287d8e"/>
<path d="M39 37h1" stroke="#297a8e"/>
<path d="M40 37h1" stroke="#2a788e"/>
<path d="M41 37h1" stroke="#2b758e"/>
<path d="M42 37h1" stroke="#2c738e"/>
<path d="M43 37h1" stroke="#2d718e"/>
<path d="M44 37h1" stroke="#2e6e8e"/>
<path d="M45 37h1" stroke="#2f6c8e"/>
<path d="M46 37h1" stroke="#30698e"/>
<path d="M47 37h1" stroke="#31678e"/>
<path d="M48 37h1" stroke="#32648e"/>
<path d="M49 37h1" stroke="#33628d"/>
<path d="M50 37h1" stroke="#355f8d"/>
<path d="M51 37h1" stroke="#365d8d"/>
<path d="M52 37h1" stroke="#375a8c"/>
<path d="M53 37h1" stroke="#38588c"/>
<path d="M54 37h1" stroke="#3a548c"/>
<path d="M55 37h1" stroke="#3b528b"/>
<path d="M56 37h1" stroke="#3c508b"/>
<path d="M57 37h1" stroke="#3d4e8a"/>
<path d="M58 37h1" stroke="#3e4c8a"/>
<path d="M59 37h1" stroke="#3e4989"/>
<path d="M60 37h1" stroke="#3f4788"/>
<path d="M61 37h2" stroke="#404588"/>
<path d="M0 38h2" stroke="#89d548"/>
<path d="M2 38h1" stroke="#77d153"/>
<path d="M3 38h1" stroke="#65cb5e"/>
<path d="M4 38h3" stroke="#60ca60"/>
<path d="M7 38h3" stroke="#5ec962"/>
<path d="M10 38h1" stroke="#5cc863"/>
<path d="M11 38h1" stroke="#54c568"/>
<path d="M12 38h1" stroke="#4ac16d"/>
<path d="M13 38h1" stroke="#44bf70"/>
<path d="M14 38h1" stroke="#3fbc73"/>
<path d="M15 38h1" stroke="#3aba76"/>
<path d="M16 38h1" stroke="#37b878"/>
<path d="M17 38h1" stroke="#34b679"/>
<path d="M18 38h1" stroke="#2fb47c"/>
<path d="M19 38h1" stroke="#2ab07f"/>
<path d="M20 38h1" stroke="#26ad81"/>
<path d="M21 38h1" stroke="#23a983"/>
<path d="M22 38h1" stroke="#21a585"/>
<path d="M23 38h1" stroke="#1fa287"/>
<path d="M24 38h1" stroke="#1fa088"/>
<path d="M25 38h1" stroke="#1f9e89"/>
<path d="M26 38h1" stroke="#1e9b8a"/>
<path d="M27 38h1" stroke="#1f998a"/>
<path d="M28 38h1" stroke="#1f958b"/>
<path d="M29 38h1" stroke="#20928c"/>
<path d="M30 38h1" stroke="#218f8d"/>
<path d="M31 38h1" stroke="#228d8d"/>
<path d="M32 38h1" stroke="#238a8d"/>
<path d="M33 38h1" stroke="#23888e"/>
<path d="M34 38h1" stroke="#25858e"/>
<path d="M35 38h1" stroke="#25838e"/>
<path d="M36 38h1" stroke="#26818e"/>
<path d="M37 38h1" stroke="#277e8e"/>
<path d="M38 38h1" stroke="#287c8e"/>
<path d="M39 38h1" stroke="#29798e"/>
<path d="M40 38h1" stroke="#2a778e"/>
<path d="M41 38h1" stroke="#2b748e"/>
<path d="M42 38h1" stroke="#2c728e"/>
<path d="M43 38h1" stroke="#2d708e"/>
<path d="M44 38h1" stroke="#2e6e8e"/>
<path d="M45 38h1" stroke="#2f6b8e"/>
<path d="M46 38h1" stroke="#31688e"/>
<path d="M47 38h1" stroke="#31668e"/>
<path d="M48 38h1" stroke="#33638d"/>
<path d="M49 38h1" stroke="#34618d"/>
<path d="M50 38h1" stroke="#355e8d"/>
<path d="M51 38h1" stroke="#365c8d"/>
<path d="M52 38h1" stroke="#38598c"/>
<path d="M53 38h1" stroke="#39568c"/>
<path d="M54 38h1" stroke="#3a548c"/>
<path d="M55 38h1" stroke="#3b518b"/>
<path d="M56 38h1" stroke="#3c4f8a"/>
<path d="M57 38h1" stroke="#3d4d8a"/>
<path d="M58 38h1" stroke="#3e4a89"/>
<path d="M59 38h1" stroke="#3f4889"/>
<path d="M60 38h1" stroke="#404688"/>
<path d="M61 38h2" stroke="#414487"/>
<path d="M0 39h2" stroke="#63cb5f"/>
<path d="M2 39h1" stroke="#5ac864"/>
<path d="M3 39h1" stroke="#50c46a"/>
<path d="M4 39h6" stroke="#4cc26c"/>
<path d="M10 39h1" stroke="#4ac16d"/>
<path d="M11 39h1" stroke="#48c16e"/>
<path d="M12 39h1" stroke="#44bf70"/>
<path d="M13 39h1" stroke="#3fbc73"/>
<path d="M14 39h1" stroke="#3aba76"/>
<path d="M15 39h1" stroke="#37b878"/>
<path d="M16 39h1" stroke="#35b779"/>
<path d="M17 39h1" stroke="#2fb47c"/>
<path d="M18 39h1" stroke="#2ab07f"/>
<path d="M19 39h1" stroke="#26ad81"/>
<path d="M20 39h1" stroke="#23a983"/>
<path d="M21 39h1" stroke="#21a685"/>
<path d="M22 39h1" stroke="#20a386"/>
<path d="M23 39h1" stroke="#1fa188"/>
<path d="M24 39h1" stroke="#1f9f88"/>
<path d="M25 39h1" stroke="#1e9c89"/>
<path d="M26 39h1" stroke="#1f9a8a"/>
<path d="M27 39h1" stroke="#1f978b"/>
<path d="M28 39h1" stroke="#20938c"/>
<path d="M29 39h1" stroke="#21908d"/>
<path d="M30 39h1" stroke="#218e8d"/>
<path d="M31 39h1" stroke="#228b8d"/>
<path d="M32 39h1" stroke="#23898e"/>
<path d="M33 39h1" stroke="#24868e"/>
<path d="M34 39h1" stroke="#25848e"/>
<path d="M35 39h1" stroke="#26828e"/>
<path d="M36 39h1" stroke="#27808e"/>
<path d="M37 39h1" stroke="#287d8e"/>
<path d="M38 39h1" stroke="#297b8e"/>
<path d="M39 39h1" stroke="#2a788e"/>
<path d="M40 39h1" stroke="#2a768e"/>
<path d="M41 39h1" stroke="#2c738e"/>
<path d="M42 39h1" stroke="#2c718e"/>
<path d="M43 39h1" stroke="#2e6f8e"/>
<path d="M44 39h1" stroke="#2e6d8e"/>
<path d="M45 39h1" stroke="#306a8e"/>
<path d="M46 39h1" stroke="#31688e"/>
<path d="M47 39h1" stroke="#32658e"/>
<path d="M48 39h1" stroke="#33628d"/>
<path d="M49 39h1" stroke="#34608d"/>
<path d="M50 39h1" stroke="#355e8d"/>
<path d="M51 39h1" stroke="#375b8d"/>
<path d="M52 39h1" stroke="#38598c"/>
<path d="M53 39h1" stroke="#39558c"/>
<path d="M54 39h1" stroke="#3a538b"/>
<path d="M55 39h1" stroke="#3b518b"/>
<path d="M56 39h1" stroke="#3d4e8a"/>
<path d="M57 39h1" stroke="#3e4c8a"/>
<path d="M58 39h1" stroke="#3e4989"/>
<path d="M59 39h1" stroke="#3f4889"/>
<path d="M60 39h1" stroke="#404688"/>
<path d="M61 39h2" stroke="#414287"/>
<path d="M0 40h2" stroke="#40bd72"/>
<path d="M2 40h1" stroke="#3fbc73"/>
<path d="M3 40h2" stroke="#3dbc74"/>
<path d="M5 40h1" stroke="#40bd72"/>
<path d="M6 40h3" stroke="#42be71"/>
<path d="M9 40h1" stroke="#40bd72"/>
<path d="M10 40h1" stroke="#3fbc73"/>
<path d="M11 40h1" stroke="#3dbc74"/>
<path d="M12 40h1" stroke="#3bbb75"/>
<path d="M13 40h1" stroke="#38b977"/>
<path d="M14 40h1" stroke="#37b878"/>
<path d="M15 40h1" stroke="#32b67a"/>
<path d="M16 40h1" stroke="#2db27d"/>
<path d="M17 40h1" stroke="#29af7f"/>
<path d="M18 40h1" stroke="#26ad81"/>
<path d="M19 40h1" stroke="#23a983"/>
<path d="M20 40h1" stroke="#21a685"/>
<path d="M21 40h1" stroke="#20a386"/>
<path d="M22 40h1" stroke="#1fa188"/>
<path d="M23 40h1" stroke="#1f9f88"/>
<path d="M24 40h1" stroke="#1e9d89"/>
<path d="M25 40h1" stroke="#1e9b8a"/>
<path d="M26 40h1" stroke="#1f988b"/>
<path d="M27 40h1" stroke="#1f948c"/>
<path d="M28 40h1" stroke="#20928c"/>
<path d="M29 40h1" stroke="#218f8d"/>
<path d="M30 40h1" stroke="#228c8d"/>
<path d="M31 40h1" stroke="#238a8d"/>
<path d="M32 40h1" stroke="#24878e"/>
<path d="M33 40h1" stroke="#25858e"/>
<path d="M34 40h1" stroke="#26828e"/>
<path d="M35 40h1" stroke="#26818e"/>
<path d="M36 40h1" stroke="#277e8e"/>
<path d="M37 40h1" stroke="#287c8e"/>
<path d="M38 40h1" stroke="#29798e"/>
<path d="M39 40h1" stroke="#2a778e"/>
<path d="M40 40h1" stroke="#2b748e"/>
<path d="M41 40h1" stroke="#2c728e"/>
<path d="M42 40h1" stroke="#2d708e"/>
<path d="M43 40h1" stroke="#2e6e8e"/>
<path d="M44 40h1" stroke="#2f6b8e"/>
<path d="M45 40h1" stroke="#30698e"/>
<path d="M46 40h1" stroke="#31668e"/>
<path d="M47 40h1" stroke="#32648e"/>
<path d="M48 40h1" stroke="#34618d"/>
<path d="M49 40h1" stroke="#355f8d"/>
<path d="M50 40h1" stroke="#365d8d"/>
<path d="M51 40h1" stroke="#375a8c"/>
<path d="M52 40h1" stroke="#38588c"/>
<path d="M53 40h1" stroke="#3a548c"/>
<path d="M54 40h1" stroke="#3b528b"/>
<path d="M55 40h1" stroke="#3c508b"/>
<path d="M56 40h1" stroke="#3d4e8a"/>
<path d="M57 40h1" stroke="#3e4c8a"/>
<path d="M58 40h1" stroke="#3e4989"/>
<path d="M59 40h1" stroke="#3f4788"/>
<path d="M60 40h1" stroke="#404588"/>
<path d="M61 40h2" stroke="#414287"/>
<path d="M0 41h2" stroke="#29af7f"/>
<path d="M2 41h1" stroke="#2cb17e"/>
<path d="M3 41h1" stroke="#2eb37c"/>
<path d="M4 41h1" stroke="#31b57b"/>
<path d="M5 41h1" stroke="#37b878"/>
<path d="M6 41h1" stroke="#38b977"/>
<path d="M7 41h3" stroke="#3aba76"/>
<path d="M10 41h1" stroke="#38b977"/>
<path d="M11 41h1" stroke="#37b878"/>
<path d="M12 41h1" stroke="#35b779"/>
<path d="M13 41h1" stroke="#34b679"/>
<path d="M14 41h1" stroke="#2eb37c"/>
<path d="M15 41h1" stroke="#2ab07f"/>
<path d="M16 41h1" stroke="#26ad81"/>
<path d="M17 41h1" stroke="#24aa83"/>
<path d="M18 41h1" stroke="#22a785"/>
<path d="M19 41h1" stroke="#21a585"/>
<path d="M20 41h1" stroke="#1fa287"/>
<path d="M21 41h1" stroke="#1fa188"/>
<path d="M22 41h1" stroke="#1f9f88"/>
<path d="M23 41h1" stroke="#1e9d89"/>
<path d="M24 41h1" stroke="#1e9b8a"/>
<path d="M25 41h1" stroke="#1f988b"/>
<path d="M26 41h1" stroke="#1f958b"/>
<path d="M27 41h1" stroke="#20928c"/>
<path d="M28 41h1" stroke="#218f8d"/>
<path d="M29 41h1" stroke="#228d8d"/>
<path d="M30 41h1" stroke="#238a8d"/>
<path d="M31 41h1" stroke="#23888e"/>
<path d="M32 41h1" stroke="#25858e"/>
<path d="M33 41h1" stroke="#25838e"/>
<path d="M34 41h1" stroke="#26818e"/>
<path d="M35 41h1" stroke="#277f8e"/>
<path d="M36 41h1" stroke="#287d8e"/>
<path d="M37 41h1" stroke="#297a8e"/>
<path d="M38 41h1" stroke="#2a788e"/>
<path d="M39 41h1" stroke="#2b758e"/>
<path d="M40 41h1" stroke="#2c738e"/>
<path d="M41 41h1" stroke="#2d718e"/>
<path d="M42 41h1" stroke="#2e6f8e"/>
<path d="M43 41h1" stroke="#2e6d8e"/>
<path d="M44 41h1" stroke="#306a8e"/>
<path d="M45 41h1" stroke="#31688e"/>
<path d="M46 41h1" stroke="#32658e"/>
<path d="M47 41h1" stroke="#33638d"/>
<path d="M48 41h1" stroke="#34608d"/>
<path d="M49 41h1" stroke="#355e8d"/>
<path d="M50 41h1" stroke="#365c8d"/>
<path d="M51 41h1" stroke="#38598c"/>
<path d="M52 41h1" stroke="#39568c"/>
<path d="M53 41h1" stroke="#3a538b"/>
<path d="M54 41h1" stroke="#3b518b"/>
<path d="M55 41h1" stroke="#3c4f8a"/>
<path d="M56 41h1" stroke="#3d4d8a"/>
<path d="M57 41h1" stroke="#3e4a89"/>
<path d="M58 41h1" stroke="#3f4889"/>
<path d="M59 41h1" stroke="#404688"/>
<path d="M60 41h1" stroke="#414487"/>
<path d="M61 41h2" stroke="#424186"/>
<path d="M0 42h2" stroke="#1fa088"/>
<path d="M2 42h1" stroke="#20a386"/>
<path d="M3 42h1" stroke="#21a685"/>
<path d="M4 42h1" stroke="#22a884"/>
<path d="M5 42h1" stroke="#29af7f"/>
<path d="M6 42h1" stroke="#2fb47c"/>
<path d="M7 42h4" stroke="#34b679"/>
<path d="M11 42h1" stroke="#32b67a"/>
<path d="M12 42h1" stroke="#2eb37c"/>
<path d="M13 42h1" stroke="#2ab07f"/>
<path d="M14 42h1" stroke="#26ad81"/>
<path d="M15 42h1" stroke="#24aa83"/>
<path d="M16 42h1" stroke="#22a785"/>
<path d="M17 42h1" stroke="#21a585"/>
<path d="M18 42h1" stroke="#20a386"/>
<path d="M19 42h1" stroke="#1fa187"/>
<path d="M20 42h1" stroke="#1fa088"/>
<path d="M21 42h1" stroke="#1f9e89"/>
<path d="M22 42h1" stroke="#1e9c89"/>
<path d="M23 42h1" stroke="#1f9a8a"/>
<path d="M24 42h1" stroke="#1f988b"/>
<path d="M25 42h1" stroke="#1f958b"/>
<path d="M26 42h1" stroke="#20928c"/>
<path d="M27 42h1" stroke="#218f8d"/>
<path d="M28 42h1" stroke="#228d8d"/>
<path d="M29 42h1" stroke="#228b8d"/>
<path d="M30 42h1" stroke="#23888e"/>
<path d="M31 42h1" stroke="#24868e"/>
<path d="M32 42h1" stroke="#25848e"/>
<path d="M33 42h1" stroke="#26828e"/>
<path d="M34 42h1" stroke="#27808e"/>
<path d="M35 42h1" stroke="#287d8e"/>
<path d="M36 42h1" stroke="#297b8e"/>
<path d="M37 42h1" stroke="#29798e"/>
<path d="M38 42h1" stroke="#2a768e"/>
<path d="M39 42h1" stroke="#2b748e"/>
<path d="M40 42h1" stroke="#2c718e"/>
<path d="M41 42h1" stroke="#2d708e"/>
<path d="M42 42h1" stroke="#2e6e8e"/>
<path d="M43 42h1" stroke="#2f6b8e"/>
<path d="M44 42h1" stroke="#30698e"/>
<path d="M45 42h1" stroke="#31668e"/>
<path d="M46 42h1" stroke="#32648e"/>
<path d="M47 42h1" stroke="#33628d"/>
<path d="M48 42h1" stroke="#355f8d"/>
<path d="M49 42h1" stroke="#365d8d"/>
<path d="M50 42h1" stroke="#375a8c"/>
<path d="M51 42h1" stroke="#38588c"/>
<path d="M52 42h1" stroke="#39558c"/>
<path d="M53 42h1" stroke="#3a538b"/>
<path d="M54 42h1" stroke="#3c508b"/>
<path d="M55 42h1" stroke="#3d4e8a"/>
<path d="M56 42h1" stroke="#3e4c8a"/>
<path d="M57 42h1" stroke="#3e4989"/>
<path d="M58 42h1" stroke="#3f4788"/>
<path d="M59 42h1" stroke="#404588"/>
<path d="M60 42h1" stroke="#414287"/>
<path d="M61 42h2" stroke="#424086"/>
<path d="M0 43h2" stroke="#20928c"/>
<path d="M2 43h1" stroke="#1e9b8a"/>
<path d="M3 43h1" stroke="#1f9f88"/>
<path d="M4 43h1" stroke="#1fa187"/>
<path d="M5 43h1" stroke="#21a585"/>
<path d="M6 43h1" stroke="#24aa83"/>
<path d="M7 43h1" stroke="#27ad81"/>
<path d="M8 43h4" stroke="#29af7f"/>
<path d="M12 43h1" stroke="#27ad81"/>
<path d="M13 43h1" stroke="#25ab82"/>
<path d="M14 43h1" stroke="#22a884"/>
<path d="M15 43h1" stroke="#21a685"/>
<path d="M16 43h1" stroke="#20a386"/>
<path d="M17 43h1" stroke="#1fa187"/>
<path d="M18 43h1" stroke="#1fa188"/>
<path d="M19 43h1" stroke="#1f9f88"/>
<path d="M20 43h1" stroke="#1e9d89"/>
<path d="M21 43h1" stroke="#1e9c89"/>
<path d="M22 43h1" stroke="#1f9a8a"/>
<path d="M23 43h1" stroke="#1f978b"/>
<path d="M24 43h1" stroke="#1f948c"/>
<path d="M25 43h1" stroke="#20928c"/>
<path d="M26 43h1" stroke="#218f8d"/>
<path d="M27 43h1" stroke="#228d8d"/>
<path d="M28 43h1" stroke="#228b8d"/>
<path d="M29 43h1" stroke="#23888e"/>
<path d="M30 43h1" stroke="#24868e"/>
<path d="M31 43h1" stroke="#25848e"/>
<path d="M32 43h1" stroke="#26828e"/>
<path d="M33 43h1" stroke="#27808e"/>
<path d="M34 43h1" stroke="#277e8e"/>
<path d="M35 43h1" stroke="#287c8e"/>
<path d="M36 43h1" stroke="#29798e"/>
<path d="M37 43h1" stroke="#2a778e"/>
<path d="M38 43h1" stroke="#2b758e"/>
<path d="M39 43h1" stroke="#2c728e"/>
<path d="M40 43h1" stroke="#2d718e"/>
<path d="M41 43h1" stroke="#2e6f8e"/>
<path d="M42 43h1" stroke="#2f6c8e"/>
<path d="M43 43h1" stroke="#306a8e"/>
<path d="M44 43h1" stroke="#31688e"/>
<path d="M45 43h1" stroke="#32658e"/>
<path d="M46 43h1" stroke="#33638d"/>
<path d="M47 43h1" stroke="#34608d"/>
<path d="M48 43h1" stroke="#355e8d"/>
<path d="M49 43h1" stroke="#365c8d"/>
<path d="M50 43h1" stroke="#38598c"/>
<path d="M51 43h1" stroke="#39568c"/>
<path d="M52 43h1" stroke="#3a548c"/>
<path d="M53 43h1" stroke="#3b528b"/>
<path d="M54 43h1" stroke="#3c4f8a"/>
<path d="M55 43h1" stroke="#3d4d8a"/>
<path d="M56 43h1" stroke="#3e4a89"/>
<path d="M57 43h1" stroke="#3e4989"/>
<path d="M58 43h1" stroke="#3f4788"/>
<path d="M59 43h1" stroke="#404588"/>
<path d="M60 43h1" stroke="#414287"/>
<path d="M61 43h2" stroke="#424086"/>
<path d="M0 44h2" stroke="#24878e"/>
<path d="M2 44h1" stroke="#21918c"/>
<path d="M3 44h1" stroke="#1f978b"/>
<path d="M4 44h1" stroke="#1e9c89"/>
<path d="M5 44h1" stroke="#1f9f88"/>
<path d="M6 44h1" stroke="#1fa287"/>
<path d="M7 44h1" stroke="#21a585"/>
<path d="M8 44h5" stroke="#22a884"/>
<path d="M13 44h1" stroke="#21a685"/>
<path d="M14 44h1" stroke="#20a486"/>
<path d="M15 44h1" stroke="#1fa287"/>
<path d="M16 44h1" stroke="#1fa188"/>
<path d="M17 44h1" stroke="#1fa088"/>
<path d="M18 44h1" stroke="#1f9e89"/>
<path d="M19 44h1" stroke="#1e9c89"/>
<path d="M20 44h1" stroke="#1e9b8a"/>
<path d="M21 44h1" stroke="#1f998a"/>
<path d="M22 44h1" stroke="#1f968b"/>
<path d="M23 44h1" stroke="#20938c"/>
<path d="M24 44h1" stroke="#21918c"/>
<path d="M25 44h1" stroke="#218f8d"/>
<path d="M26 44h1" stroke="#228d8d"/>
<path d="M27 44h1" stroke="#238a8d"/>
<path d="M28 44h1" stroke="#23888e"/>
<path d="M29 44h1" stroke="#24868e"/>
<path d="M30 44h1" stroke="#25848e"/>
<path d="M31 44h1" stroke="#26828e"/>
<path d="M32 44h1" stroke="#27808e"/>
<path d="M33 44h1" stroke="#277e8e"/>
<path d="M34 44h1" stroke="#287c8e"/>
<path d="M35 44h1" stroke="#297a8e"/>
<path d="M36 44h1" stroke="#2a788e"/>
<path d="M37 44h1" stroke="#2b758e"/>
<path d="M38 44h1" stroke="#2c738e"/>
<path d="M39 44h1" stroke="#2c718e"/>
<path d="M40 44h1" stroke="#2d708e"/>
<path d="M41 44h1" stroke="#2e6d8e"/>
<path d="M42 44h1" stroke="#2f6b8e"/>
<path d="M43 44h1" stroke="#30698e"/>
<path d="M44 44h1" stroke="#31668e"/>
<path d="M45 44h1" stroke="#32648e"/>
<path d="M46 44h1" stroke="#34618d"/>
<path d="M47 44h1" stroke="#355f8d"/>
<path d="M48 44h1" stroke="#365d8d"/>
<path d="M49 44h1" stroke="#375a8c"/>
<path d="M50 44h1" stroke="#38588c"/>
<path d="M51 44h1" stroke="#39558c"/>
<path d="M52 44h1" stroke="#3a538b"/>
<path d="M53 44h1" stroke="#3c508b"/>
<path d="M54 44h1" stroke="#3d4e8a"/>
<path d="M55 44h1" stroke="#3e4c8a"/>
<path d="M56 44h1" stroke="#3e4a89"/>
<path d="M57 44h1" stroke="#3f4889"/>
<path d="M58 44h1" stroke="#404688"/>
<path d="M59 44h1" stroke="#414487"/>
<path d="M60 44h1" stroke="#424186"/>
<path d="M61 44h2" stroke="#423f85"/>
<path d="M0 45h2" stroke="#277f8e"/>
<path d="M2 45h1" stroke="#23888e"/>
<path d="M3 45h1" stroke="#228d8d"/>
<path d="M4 45h1" stroke="#20928c"/>
<path d="M5 45h1" stroke="#1f998a"/>
<path d="M6 45h1" stroke="#1f9e89"/>
<path d="M7 45h1" stroke="#1fa088"/>
<path d="M8 45h1" stroke="#1fa188"/>
<path d="M9 45h5" stroke="#1fa187"/>
<path d="M14 45h1" stroke="#1fa188"/>
<path d="M15 45h1" stroke="#1fa088"/>
<path d="M16 45h1" stroke="#1f9f88"/>
<path d="M17 45h1" stroke="#1e9d89"/>
<path d="M18 45h1" stroke="#1e9b8a"/>
<path d="M19 45h1" stroke="#1f9a8a"/>
<path d="M20 45h1" stroke="#1f988b"/>
<path d="M21 45h1" stroke="#1f958b"/>
<path d="M22 45h1" stroke="#20928c"/>
<path d="M23 45h1" stroke="#21918c"/>
<path d="M24 45h1" stroke="#218e8d"/>
<path d="M25 45h1" stroke="#228c8d"/>
<path d="M26 45h1" stroke="#238a8d"/>
<path d="M27 45h1" stroke="#23888e"/>
<path d="M28 45h1" stroke="#24868e"/>
<path d="M29 45h1" stroke="#25848e"/>
<path d="M30 45h1" stroke="#26828e"/>
<path d="M31 45h1" stroke="#26818e"/>
<path d="M32 45h1" stroke="#277e8e"/>
<path d="M33 45h1" stroke="#287c8e"/>
<path d="M34 45h1" stroke="#297a8e"/>
<path d="M35 45h1" stroke="#2a788e"/>
<path d="M36 45h1" stroke="#2a768e"/>
<path d="M37 45h1" stroke="#2b748e"/>
<path d="M38 45h1" stroke="#2c718e"/>
<path d="M39 45h1" stroke="#2d708e"/>
<path d="M40 45h1" stroke="#2e6e8e"/>
<path d="M41 45h1" stroke="#2f6c8e"/>
<path d="M42 45h1" stroke="#30698e"/>
<path d="M43 45h1" stroke="#31678e"/>
<path d="M44 45h1" stroke="#32658e"/>
<path d="M45 45h1" stroke="#33628d"/>
<path d="M46 45h1" stroke="#34608d"/>
<path d="M47 45h1" stroke="#355e8d"/>
<path d="M48 45h1" stroke="#375b8d"/>
<path d="M49 45h1" stroke="#38598c"/>
<path d="M50 45h1" stroke="#39568c"/>
<path d="M51 45h1" stroke="#3a548c"/>
<path d="M52 45h1" stroke="#3b518b"/>
<path d="M53 45h1" stroke="#3c4f8a"/>
<path d="M54 45h1" stroke="#3d4d8a"/>
<path d="M55 45h1" stroke="#3e4a89"/>
<path d="M56 45h1" stroke="#3e4989"/>
<path d="M57 45h1" stroke="#3f4788"/>
<path d="M58 45h1" stroke="#404588"/>
<path d="M59 45h1" stroke="#414287"/>
<path d="M60 45h1" stroke="#424086"/>
<path d="M61 45h2" stroke="#433e85"/>
<path d="M0 46h2" stroke="#2a768e"/>
<path d="M2 46h1" stroke="#26828e"/>
<path d="M3 46h1" stroke="#24878e"/>
<path d="M4 46h1" stroke="#228b8d"/>
<path d="M5 46h1" stroke="#21918c"/>
<path d="M6 46h1" stroke="#1f988b"/>
<path d="M7 46h1" stroke="#1e9b8a"/>
<path d="M8 46h1" stroke="#1e9c89"/>
<path d="M9 46h6" stroke="#1e9d89"/>
<path d="M15 46h2" stroke="#1e9c89"/>
<path d="M17 46h1" stroke="#1e9b8a"/>
<path d="M18 46h1" stroke="#1f998a"/>
<path d="M19 46h1" stroke="#1f978b"/>
<path d="M20 46h1" stroke="#1f948c"/>
<path d="M21 46h1" stroke="#20928c"/>
<path d="M22 46h1" stroke="#21908d"/>
<path d="M23 46h1" stroke="#218e8d"/>
<path d="M24 46h1" stroke="#228c8d"/>
<path d="M25 46h1" stroke="#238a8d"/>
<path d="M26 46h1" stroke="#23888e"/>
<path d="M27 46h1" stroke="#24868e"/>
<path d="M28 46h1" stroke="#25838e"/>
<path d="M29 46h1" stroke="#26828e"/>
<path d="M30 46h1" stroke="#27808e"/>
<path d="M31 46h1" stroke="#277e8e"/>
<path d="M32 46h1" stroke="#287c8e"/>
<path d="M33 46h1" stroke="#297a8e"/>
<path d="M34 46h1" stroke="#2a788e"/>
<path d="M35 46h1" stroke="#2a768e"/>
<path d="M36 46h1" stroke="#2b748e"/>
<path d="M37 46h1" stroke="#2c728e"/>
<path d="M38 46h1" stroke="#2d718e"/>
<path d="M39 46h1" stroke="#2e6e8e"/>
<path d="M40 46h1" stroke="#2f6c8e"/>
<path d="M41 46h1" stroke="#306a8e"/>
<path d="M42 46h1" stroke="#31688e"/>
<path d="M43 46h1" stroke="#32658e"/>
<path d="M44 46h1" stroke="#33638d"/>
<path d="M45 46h1" stroke="#34618d"/>
<path d="M46 46h1" stroke="#355f8d"/>
<path d="M47 46h1" stroke="#365c8d"/>
<path d="M48 46h1" stroke="#375a8c"/>
<path d="M49 46h1" stroke="#38588c"/>
<path d="M50 46h1" stroke="#39558c"/>
<path d="M51 46h1" stroke="#3b528b"/>
<path d="M52 46h1" stroke="#3c508b"/>
<path d="M53 46h1" stroke="#3d4e8a"/>
<path d="M54 46h1" stroke="#3e4c8a"/>
<path d="M55 46h1" stroke="#3e4a89"/>
<path d="M56 46h1" stroke="#3f4889"/>
<path d="M57 46h1" stroke="#404688"/>
<path d="M58 46h1" stroke="#414487"/>
<path d="M59 46h1" stroke="#424186"/>
<path d="M60 46h1" stroke="#423f85"/>
<path d="M61 46h2" stroke="#433d84"/>
<path d="M0 47h2" stroke="#2e6f8e"/>
<path d="M2 47h1" stroke="#297b8e"/>
<path d="M3 47h1" stroke="#26828e"/>
<path d="M4 47h1" stroke="#25858e"/>
<path d="M5 47h1" stroke="#238a8d"/>
<path d="M6 47h1" stroke="#21908d"/>
<path d="M7 47h1" stroke="#1f958b"/>
<path d="M8 47h1" stroke="#1f968b"/>
<path d="M9 47h1" stroke="#1f978b"/>
<path d="M10 47h6" stroke="#1f988b"/>
<path d="M16 47h1" stroke="#1f978b"/>
<path d="M17 47h1" stroke="#1f968b"/>
<path d="M18 47h1" stroke="#1f958b"/>
<path d="M19 47h1" stroke="#20928c"/>
<path d="M20 47h1" stroke="#21918c"/>
<path d="M21 47h1" stroke="#218f8d"/>
<path d="M22 47h1" stroke="#228d8d"/>
<path d="M23 47h1" stroke="#228b8d"/>
<path d="M24 47h1" stroke="#23898e"/>
<path d="M25 47h1" stroke="#24878e"/>
<path d="M26 47h1" stroke="#25858e"/>
<path d="M27 47h1" stroke="#25838e"/>
<path d="M28 47h1" stroke="#26828e"/>
<path d="M29 47h1" stroke="#27808e"/>
<path d="M30 47h1" stroke="#277e8e"/>
<path d="M31 47h1" stroke="#287c8e"/>
<path d="M32 47h1" stroke="#297a8e"/>
<path d="M33 47h1" stroke="#2a788e"/>
<path d="M34 47h1" stroke="#2a768e"/>
<path d="M35 47h1" stroke="#2b748e"/>
<path d="M36 47h1" stroke="#2c728e"/>
<path d="M37 47h1" stroke="#2d718e"/>
<path d="M38 47h1" stroke="#2e6f8e"/>
<path d="M39 47h1" stroke="#2e6d8e"/>
<path d="M40 47h1" stroke="#306a8e"/>
<path d="M41 47h1" stroke="#31688e"/>
<path d="M42 47h1" stroke="#31668e"/>
<path d="M43 47h1" stroke="#32648e"/>
<path d="M44 47h1" stroke="#34618d"/>
<path d="M45 47h1" stroke="#355f8d"/>
<path d="M46 47h1" stroke="#365d8d"/>
<path d="M47 47h1" stroke="#375b8d"/>
<path d="M48 47h1" stroke="#38598c"/>
<path d="M49 47h1" stroke="#39558c"/>
<path d="M50 47h1" stroke="#3a538b"/>
<path d="M51 47h1" stroke="#3b518b"/>
<path d="M52 47h1" stroke="#3c4f8a"/>
<path d="M53 47h1" stroke="#3d4d8a"/>
<path d="M54 47h1" stroke="#3e4a89"/>
<path d="M55 47h1" stroke="#3f4889"/>
<path d="M56 47h1" stroke="#3f4788"/>
<path d="M57 47h1" stroke="#404588"/>
<path d="M58 47h1" stroke="#414287"/>
<path d="M59 47h1" stroke="#424086"/>
<path d="M60 47h1" stroke="#433e85"/>
<path d="M61 47h2" stroke="#443b84"/>
<path d="M0 48h2" stroke="#31688e"/>
<path d="M2 48h1" stroke="#2b748e"/>
<path d="M3 48h1" stroke="#287c8e"/>
<path d="M4 48h1" stroke="#27808e"/>
<path d="M5 48h1" stroke="#25838e"/>
<path d="M6 48h1" stroke="#23898e"/>
<path d="M7 48h1" stroke="#218f8d"/>
<path d="M8 48h1" stroke="#21908d"/>
<path d="M9 48h10" stroke="#21918c"/>
<path d="M19 48h1" stroke="#21908d"/>
<path d="M20 48h1" stroke="#218e8d"/>
<path d="M21 48h1" stroke="#228c8d"/>
<path d="M22 48h1" stroke="#238a8d"/>
<path d="M23 48h1" stroke="#23898e"/>
<path d="M24 48h1" stroke="#24878e"/>
<path d="M25 48h1" stroke="#25848e"/>
<path d="M26 48h1" stroke="#26828e"/>
<path d="M27 48h1" stroke="#26818e"/>
<path d="M28 48h1" stroke="#277f8e"/>
<path d="M29 48h1" stroke="#287d8e"/>
<path d="M30 48h1" stroke="#287c8e"/>
<path d="M31 48h1" stroke="#297a8e"/>
<path d="M32 48h1" stroke="#2a788e"/>
<path d="M33 48h1" stroke="#2a768e"/>
<path d="M34 48h1" stroke="#2b748e"/>
<path d="M35 48h1" stroke="#2c728e"/>
<path d="M36 48h1" stroke="#2d718e"/>
<path d="M37 48h1" stroke="#2e6f8e"/>
<path d="M38 48h1" stroke="#2e6d8e"/>
<path d="M39 48h1" stroke="#2f6b8e"/>
<path d="M40 48h1" stroke="#31688e"/>
<path d="M41 48h1" stroke="#31668e"/>
<path d="M42 48h1" stroke="#32648e"/>
<path d="M43 48h1" stroke="#33628d"/>
<path d="M44 48h1" stroke="#34608d"/>
<path d="M45 48h1" stroke="#365d8d"/>
<path d="M46 48h1" stroke="#375b8d"/>
<path d="M47 48h1" stroke="#38598c"/>
<path d="M48 48h1" stroke="#39568c"/>
<path d="M49 48h1" stroke="#3a548c"/>
<path d="M50 48h1" stroke="#3b528b"/>
<path d="M51 48h1" stroke="#3c508b"/>
<path d="M52 48h1" stroke="#3d4e8a"/>
<path d="M53 48h1" stroke="#3e4c8a"/>
<path d="M54 48h1" stroke="#3e4989"/>
<path d="M55 48h1" stroke="#3f4788"/>
<path d="M56 48h1" stroke="#404688"/>
<path d="M57 48h1" stroke="#414487"/>
<path d="M58 48h1" stroke="#424186"/>
<path d="M59 48h1" stroke="#423f85"/>
<path d="M60 48h1" stroke="#433d84"/>
<path d="M61 48h2" stroke="#443a83"/>
<path d="M0 49h2" stroke="#33628d"/>
<path d="M2 49h1" stroke="#2e6f8e"/>
<path d="M3 49h1" stroke="#2a768e"/>
<path d="M4 49h1" stroke="#297b8e"/>
<path d="M5 49h1" stroke="#277e8e"/>
<path d="M6 49h1" stroke="#26828e"/>
<path d="M7 49h1" stroke="#23888e"/>
<path d="M8 49h1" stroke="#228b8d"/>
<path d="M9 49h11" stroke="#228c8d"/>
<path d="M20 49h1" stroke="#228b8d"/>
<path d="M21 49h1" stroke="#238a8d"/>
<path d="M22 49h1" stroke="#23888e"/>
<path d="M23 49h1" stroke="#24868e"/>
<path d="M24 49h1" stroke="#25848e"/>
<path d="M25 49h1" stroke="#26828e"/>
<path d="M26 49h1" stroke="#26818e"/>
<path d="M27 49h1" stroke="#277f8e"/>
<path d="M28 49h1" stroke="#287d8e"/>
<path d="M29 49h1" stroke="#297b8e"/>
<path d="M30 49h1" stroke="#29798e"/>
<path d="M31 49h1" stroke="#2a778e"/>
<path d="M32 49h1" stroke="#2b758e"/>
<path d="M33 49h1" stroke="#2c738e"/>
<path d="M34 49h1" stroke="#2c718e"/>
<path d="M35 49h1" stroke="#2d708e"/>
<path d="M36 49h1" stroke="#2e6f8e"/>
<path d="M37 49h1" stroke="#2e6d8e"/>
<path d="M38 49h1" stroke="#2f6b8e"/>
<path d="M39 49h1" stroke="#31688e"/>
<path d="M40 49h1" stroke="#31668e"/>
<path d="M41 49h1" stroke="#32648e"/>
<path d="M42 49h1" stroke="#33628d"/>
<path d="M43 49h1" stroke="#34608d"/>
<path d="M44 49h1" stroke="#355e8d"/>
<path d="M45 49h1" stroke="#365c8d"/>
<path d="M46 49h1" stroke="#38598c"/>
<path d="M47 49h1" stroke="#39568c"/>
<path d="M48 49h1" stroke="#3a548c"/>
<path d="M49 49h1" stroke="#3b528b"/>
<path d="M50 49h1" stroke="#3c508b"/>
<path d="M51 49h1" stroke="#3d4e8a"/>
<path d="M52 49h1" stroke="#3e4c8a"/>
<path d="M53 49h1" stroke="#3e4a89"/>
<path d="M54 49h1" stroke="#3f4889"/>
<path d="M55 49h1" stroke="#404688"/>
<path d="M56 49h1" stroke="#414487"/>
<path d="M57 49h1" stroke="#414287"/>
<path d="M58 49h1" stroke="#424086"/>
<path d="M59 49h1" stroke="#433e85"/>
<path d="M60 49h1" stroke="#443b84"/>
<path d="M61 49h2" stroke="#443983"/>
<path d="M0 50h2" stroke="#365c8d"/>
<path d="M2 50h1" stroke="#31678e"/>
<path d="M3 50h1" stroke="#2d718e"/>
<path d="M4 50h1" stroke="#2a768e"/>
<path d="M5 50h1" stroke="#29798e"/>
<path d="M6 50h1" stroke="#287c8e"/>
<path d="M7 50h1" stroke="#26818e"/>
<path d="M8 50h1" stroke="#24868e"/>
<path d="M9 50h12" stroke="#24878e"/>
<path d="M21 50h1" stroke="#24868e"/>
<path d="M22 50h1" stroke="#25858e"/>
<path d="M23 50h1" stroke="#25838e"/>
<path d="M24 50h1" stroke="#26828e"/>
<path d="M25 50h1" stroke="#27808e"/>
<path d="M26 50h1" stroke="#277e8e"/>
<path d="M27 50h1" stroke="#287c8e"/>
<path d="M28 50h1" stroke="#297a8e"/>
<path d="M29 50h1" stroke="#2a788e"/>
<path d="M30 50h1" stroke="#2a778e"/>
<path d="M31 50h1" stroke="#2b758e"/>
<path d="M32 50h1" stroke="#2c738e"/>
<path d="M33 50h1" stroke="#2c718e"/>
<path d="M34 50h1" stroke="#2d708e"/>
<path d="M35 50h1" stroke="#2e6e8e"/>
<path d="M36 50h1" stroke="#2f6c8e"/>
<path d="M37 50h1" stroke="#306a8e"/>
<path d="M38 50h1" stroke="#31688e"/>
<path d="M39 50h1" stroke="#31668e"/>
<path d="M40 50h1" stroke="#32648e"/>
<path d="M41 50h1" stroke="#33628d"/>
<path d="M42 50h1" stroke="#34608d"/>
<path d="M43 50h1" stroke="#355e8d"/>
<path d="M44 50h1" stroke="#365c8d"/>
<path d="M45 50h1" stroke="#375a8c"/>
<path d="M46 50h1" stroke="#38588c"/>
<path d="M47 50h1" stroke="#39558c"/>
<path d="M48 50h1" stroke="#3b528b"/>
<path d="M49 50h1" stroke="#3c508b"/>
<path d="M50 50h1" stroke="#3c4f8a"/>
<path d="M51 50h1" stroke="#3d4d8a"/>
<path d="M52 50h1" stroke="#3e4a89"/>
<path d="M53 50h1" stroke="#3f4889"/>
<path d="M54 50h1" stroke="#3f4788"/>
<path d="M55 50h1" stroke="#404588"/>
<path d="M56 50h1" stroke="#414287"/>
<path d="M57 50h1" stroke="#424086"/>
<path d="M58 50h1" stroke="#433e85"/>
<path d="M59 50h1" stroke="#433d84"/>
<path d="M60 50h1" stroke="#443a83"/>
<path d="M61 50h2" stroke="#453882"/>
<path d="M0 51h2" stroke="#39568c"/>
<path d="M2 51h1" stroke="#34618d"/>
<path d="M3 51h1" stroke="#2f6b8e"/>
<path d="M4 51h1" stroke="#2d718e"/>
<path d="M5 51h1" stroke="#2c738e"/>
<path d="M6 51h1" stroke="#2a768e"/>
<path d="M7 51h1" stroke="#297a8e"/>
<path d="M8 51h1" stroke="#27808e"/>
<path d="M9 51h1" stroke="#26828e"/>
<path d="M10 51h8" stroke="#25838e"/>
<path d="M18 51h5" stroke="#26828e"/>
<path d="M23 51h1" stroke="#26818e"/>
<path d="M24 51h1" stroke="#277f8e"/>
<path d="M25 51h1" stroke="#287d8e"/>
<path d="M26 51h1" stroke="#297b8e"/>
<path d="M27 51h1" stroke="#297a8e"/>
<path d="M28 51h1" stroke="#2a788e"/>
<path d="M29 51h1" stroke="#2a768e"/>
<path d="M30 51h1" stroke="#2b748e"/>
<path d="M31 51h1" stroke="#2c728e"/>
<path d="M32 51h1" stroke="#2d718e"/>
<path d="M33 51h1" stroke="#2e6f8e"/>
<path d="M34 51h1" stroke="#2e6e8e"/>
<path d="M35 51h1" stroke="#2f6c8e"/>
<path d="M36 51h1" stroke="#306a8e"/>
<path d="M37 51h1" stroke="#31688e"/>
<path d="M38 51h1" stroke="#31668e"/>
<path d="M39 51h1" stroke="#32648e"/>
<path d="M40 51h1" stroke="#33628d"/>
<path d="M41 51h1" stroke="#34608d"/>
<path d="M42 51h1" stroke="#355e8d"/>
<path d="M43 51h1" stroke="#365c8d"/>
<path d="M44 51h1" stroke="#375a8c"/>
<path d="M45 51h1" stroke="#38588c"/>
<path d="M46 51h1" stroke="#39558c"/>
<path d="M47 51h1" stroke="#3a538b"/>
<path d="M48 51h1" stroke="#3b518b"/>
<path d="M49 51h1" stroke="#3c4f8a"/>
<path d="M50 51h1" stroke="#3d4d8a"/>
<path d="M51 51h1" stroke="#3e4a89"/>
<path d="M52 51h1" stroke="#3e4989"/>
<path d="M53 51h1" stroke="#3f4788"/>
<path d="M54 51h1" stroke="#404588"/>
<path d="M55 51h1" stroke="#414487"/>
<path d="M56 51h1" stroke="#424186"/>
<path d="M57 51h1" stroke="#423f85"/>
<path d="M58 51h1" stroke="#433d84"/>
<path d="M59 51h1" stroke="#443a83"/>
<path d="M60 51h1" stroke="#443983"/>
<path d="M61 51h2" stroke="#453781"/>
<path d="M0 52h2" stroke="#3b518b"/>
<path d="M2 52h1" stroke="#375a8c"/>
<path d="M3 52h1" stroke="#32648e"/>
<path d="M4 52h1" stroke="#2f6c8e"/>
<path d="M5 52h1" stroke="#2e6f8e"/>
<path d="M6 52h1" stroke="#2c718e"/>
<path d="M7 52h1" stroke="#2b748e"/>
<path d="M8 52h1" stroke="#2a788e"/>
<path d="M9 52h1" stroke="#287d8e"/>
<path d="M10 52h1" stroke="#277f8e"/>
<path d="M11 52h8" stroke="#27808e"/>
<path d="M19 52h1" stroke="#277f8e"/>
<path d="M20 52h2" stroke="#277e8e"/>
<path d="M22 52h2" stroke="#287d8e"/>
<path d="M24 52h1" stroke="#287c8e"/>
<path d="M25 52h1" stroke="#297a8e"/>
<path d="M26 52h1" stroke="#2a788e"/>
<path d="M27 52h1" stroke="#2a778e"/>
<path d="M28 52h1" stroke="#2b758e"/>
<path d="M29 52h1" stroke="#2c738e"/>
<path d="M30 52h1" stroke="#2c718e"/>
<path d="M31 52h1" stroke="#2d708e"/>
<path d="M32 52h1" stroke="#2e6f8e"/>
<path d="M33 52h1" stroke="#2e6d8e"/>
<path d="M34 52h1" stroke="#2f6b8e"/>
<path d="M35 52h1" stroke="#30698e"/>
<path d="M36 52h1" stroke="#31678e"/>
<path d="M37 52h1" stroke="#32658e"/>
<path d="M38 52h1" stroke="#32648e"/>
<path d="M39 52h1" stroke="#33628d"/>
<path d="M40 52h1" stroke="#34608d"/>
<path d="M41 52h1" stroke="#355e8d"/>
<path d="M42 52h1" stroke="#365c8d"/>
<path d="M43 52h1" stroke="#375a8c"/>
<path d="M44 52h1" stroke="#38588c"/>
<path d="M45 52h1" stroke="#39558c"/>
<path d="M46 52h1" stroke="#3a538b"/>
<path d="M47 52h1" stroke="#3b518b"/>
<path d="M48 52h1" stroke="#3c4f8a"/>
<path d="M49 52h1" stroke="#3d4d8a"/>
<path d="M50 52h1" stroke="#3e4a89"/>
<path d="M51 52h1" stroke="#3e4989"/>
<path d="M52 52h1" stroke="#3f4788"/>
<path d="M53 52h1" stroke="#404688"/>
<path d="M54 52h1" stroke="#414487"/>
<path d="M55 52h1" stroke="#424186"/>
<path d="M56 52h1" stroke="#424086"/>
<path d="M57 52h1" stroke="#433e85"/>
<path d="M58 52h1" stroke="#443b84"/>
<path d="M59 52h1" stroke="#443983"/>
<path d="M60 52h1" stroke="#453781"/>
<path d="M61 52h2" stroke="#463480"/>
<path d="M0 53h2" stroke="#3e4c8a"/>
<path d="M2 53h1" stroke="#3a538b"/>
<path d="M3 53h1" stroke="#365d8d"/>
<path d="M4 53h1" stroke="#32648e"/>
<path d="M5 53h1" stroke="#306a8e"/>
<path d="M6 53h1" stroke="#2f6c8e"/>
<path d="M7 53h1" stroke="#2e6f8e"/>
<path d="M8 53h1" stroke="#2c718e"/>
<path d="M9 53h1" stroke="#2a768e"/>
<path d="M10 53h1" stroke="#29798e"/>
<path d="M11 53h8" stroke="#287c8e"/>
<path d="M19 53h1" stroke="#297b8e"/>
<path d="M20 53h2" stroke="#297a8e"/>
<path d="M22 53h1" stroke="#29798e"/>
<path d="M23 53h2" stroke="#2a788e"/>
<path d="M25 53h1" stroke="#2a768e"/>
<path d="M26 53h1" stroke="#2b758e"/>
<path d="M27 53h1" stroke="#2c738e"/>
<path d="M28 53h1" stroke="#2c728e"/>
<path d="M29 53h1" stroke="#2c718e"/>
<path d="M30 53h1" stroke="#2d708e"/>
<path d="M31 53h1" stroke="#2e6e8e"/>
<path d="M32 53h1" stroke="#2f6c8e"/>
<path d="M33 53h1" stroke="#306a8e"/>
<path d="M34 53h1" stroke="#31688e"/>
<path d="M35 53h1" stroke="#31678e"/>
<path d="M36 53h1" stroke="#32658e"/>
<path d="M37 53h1" stroke="#33638d"/>
<path d="M38 53h1" stroke="#34618d"/>
<path d="M39 53h1" stroke="#355f8d"/>
<path d="M40 53h1" stroke="#365d8d"/>
<path d="M41 53h1" stroke="#365c8d"/>
<path d="M42 53h1" stroke="#375a8c"/>
<path d="M43 53h1" stroke="#38588c"/>
<path d="M44 53h1" stroke="#39558c"/>
<path d="M45 53h1" stroke="#3a538b"/>
<path d="M46 53h1" stroke="#3b518b"/>
<path d="M47 53h1" stroke="#3c4f8a"/>
<path d="M48 53h1" stroke="#3d4d8a"/>
<path d="M49 53h1" stroke="#3e4a89"/>
<path d="M50 53h1" stroke="#3e4989"/>
<path d="M51 53h1" stroke="#3f4788"/>
<path d="M52 53h1" stroke="#404688"/>
<path d="M53 53h1" stroke="#414487"/>
<path d="M54 53h1" stroke="#414287"/>
<path d="M55 53h1" stroke="#424086"/>
<path d="M56 53h1" stroke="#433e85"/>
<path d="M57 53h1" stroke="#443b84"/>
<path d="M58 53h1" stroke="#443a83"/>
<path d="M59 53h1" stroke="#453882"/>
<path d="M60 53h1" stroke="#453581"/>
<path d="M61 53h2" stroke="#46337f"/>
<path d="M0 54h2" stroke="#3f4788"/>
<path d="M2 54h1" stroke="#3d4d8a"/>
<path d="M3 54h1" stroke="#39558c"/>
<path d="M4 54h1" stroke="#365d8d"/>
<path d="M5 54h1" stroke="#33638d"/>
<path d="M6 54h1" stroke="#31668e"/>
<path d="M7 54h1" stroke="#30698e"/>
<path d="M8 54h1" stroke="#2f6c8e"/>
<path d="M9 54h1" stroke="#2d708e"/>
<path d="M10 54h1" stroke="#2c738e"/>
<path d="M11 54h1" stroke="#2a778e"/>
<path d="M12 54h8" stroke="#2a788e"/>
<path d="M20 54h1" stroke="#2a778e"/>
<path d="M21 54h1" stroke="#2a768e"/>
<path d="M22 54h1" stroke="#2b758e"/>
<path d="M23 54h1" stroke="#2b748e"/>
<path d="M24 54h2" stroke="#2c738e"/>
<path d="M26 54h1" stroke="#2c718e"/>
<path d="M27 54h1" stroke="#2d718e"/>
<path d="M28 54h1" stroke="#2d708e"/>
<path d="M29 54h1" stroke="#2e6e8e"/>
<path d="M30 54h1" stroke="#2e6d8e"/>
<path d="M31 54h1" stroke="#2f6b8e"/>
<path d="M32 54h1" stroke="#306a8e"/>
<path d="M33 54h1" stroke="#31688e"/>
<path d="M34 54h1" stroke="#31668e"/>
<path d="M35 54h1" stroke="#32648e"/>
<path d="M36 54h1" stroke="#33638d"/>
<path d="M37 54h1" stroke="#34618d"/>
<path d="M38 54h1" stroke="#355f8d"/>
<path d="M39 54h1" stroke="#365d8d"/>
<path d="M40 54h1" stroke="#375b8d"/>
<path d="M41 54h1" stroke="#38598c"/>
<path d="M42 54h1" stroke="#38588c"/>
<path d="M43 54h1" stroke="#39558c"/>
<path d="M44 54h1" stroke="#3a538b"/>
<path d="M45 54h1" stroke="#3b518b"/>
<path d="M46 54h1" stroke="#3c4f8a"/>
<path d="M47 54h1" stroke="#3d4d8a"/>
<path d="M48 54h1" stroke="#3e4a89"/>
<path d="M49 54h1" stroke="#3e4989"/>
<path d="M50 54h1" stroke="#3f4788"/>
<path d="M51 54h1" stroke="#404688"/>
<path d="M52 54h1" stroke="#414487"/>
<path d="M53 54h1" stroke="#414287"/>
<path d="M54 54h1" stroke="#424086"/>
<path d="M55 54h1" stroke="#433e85"/>
<path d="M56 54h1" stroke="#433d84"/>
<path d="M57 54h1" stroke="#443a83"/>
<path d="M58 54h1" stroke="#453882"/>
<path d="M59 54h1" stroke="#453781"/>
<path d="M60 54h1" stroke="#463480"/>
<path d="M61 54h2" stroke="#46327e"/>
<path d="M0 55h2" stroke="#424086"/>
<path d="M2 55h1" stroke="#3f4788"/>
<path d="M3 55h1" stroke="#3c4f8a"/>
<path d="M4 55h1" stroke="#39558c"/>
<path d="M5 55h1" stroke="#375b8d"/>
<path d="M6 55h1" stroke="#355f8d"/>
<path d="M7 55h1" stroke="#33638d"/>
<path d="M8 55h1" stroke="#31668e"/>
<path d="M9 55h1" stroke="#306a8e"/>
<path d="M10 55h1" stroke="#2e6d8e"/>
<path d="M11 55h1" stroke="#2c718e"/>
<path d="M12 55h1" stroke="#2c738e"/>
<path d="M13 55h8" stroke="#2b748e"/>
<path d="M21 55h1" stroke="#2c738e"/>
<path d="M22 55h1" stroke="#2c718e"/>
<path d="M23 55h1" stroke="#2d718e"/>
<path d="M24 55h2" stroke="#2d708e"/>
<path d="M26 55h1" stroke="#2e6f8e"/>
<path d="M27 55h1" stroke="#2e6d8e"/>
<path d="M28 55h1" stroke="#2f6c8e"/>
<path d="M29 55h1" stroke="#2f6b8e"/>
<path d="M30 55h1" stroke="#306a8e"/>
<path d="M31 55h1" stroke="#31688e"/>
<path d="M32 55h1" stroke="#31678e"/>
<path d="M33 55h1" stroke="#31668e"/>
<path d="M34 55h1" stroke="#32648e"/>
<path d="M35 55h1" stroke="#33628d"/>
<path d="M36 55h1" stroke="#34608d"/>
<path d="M37 55h1" stroke="#355e8d"/>
<path d="M38 55h1" stroke="#365d8d"/>
<path d="M39 55h1" stroke="#375b8d"/>
<path d="M40 55h1" stroke="#38598c"/>
<path d="M41 55h1" stroke="#39568c"/>
<path d="M42 55h1" stroke="#39558c"/>
<path d="M43 55h1" stroke="#3a538b"/>
<path d="M44 55h1" stroke="#3b518b"/>
<path d="M45 55h1" stroke="#3c4f8a"/>
<path d="M46 55h1" stroke="#3d4d8a"/>
<path d="M47 55h1" stroke="#3e4a89"/>
<path d="M48 55h1" stroke="#3e4989"/>
<path d="M49 55h1" stroke="#3f4788"/>
<path d="M50 55h1" stroke="#404688"/>
<path d="M51 55h1" stroke="#414487"/>
<path d="M52 55h1" stroke="#414287"/>
<path d="M53 55h1" stroke="#424086"/>
<path d="M54 55h1" stroke="#433e85"/>
<path d="M55 55h1" stroke="#433d84"/>
<path d="M56 55h1" stroke="#443a83"/>
<path d="M57 55h1" stroke="#443983"/>
<path d="M58 55h1" stroke="#453781"/>
<path d="M59 55h1" stroke="#463480"/>
<path d="M60 55h1" stroke="#46337f"/>
<path d="M61 55h2" stroke="#46307e"/>
<path d="M0 56h2" stroke="#443983"/>
<path d="M2 56h1" stroke="#424086"/>
<path d="M3 56h1" stroke="#3e4989"/>
<path d="M4 56h1" stroke="#3d4e8a"/>
<path d="M5 56h1" stroke="#3a538b"/>
<path d="M6 56h1" stroke="#38588c"/>
<path d="M7 56h1" stroke="#365c8d"/>
<path d="M8 56h1" stroke="#34608d"/>
<path d="M9 56h1" stroke="#33638d"/>
<path d="M10 56h1" stroke="#31678e"/>
<path d="M11 56h1" stroke="#2f6b8e"/>
<path d="M12 56h1" stroke="#2d708e"/>
<path d="M13 56h8" stroke="#2d718e"/>
<path d="M21 56h1" stroke="#2d708e"/>
<path d="M22 56h1" stroke="#2e6f8e"/>
<path d="M23 56h1" stroke="#2e6e8e"/>
<path d="M24 56h1" stroke="#2e6d8e"/>
<path d="M25 56h1" stroke="#2f6c8e"/>
<path d="M26 56h1" stroke="#2f6b8e"/>
<path d="M27 56h1" stroke="#306a8e"/>
<path d="M28 56h1" stroke="#30698e"/>
<path d="M29 56h1" stroke="#31688e"/>
<path d="M30 56h1" stroke="#31678e"/>
<path d="M31 56h1" stroke="#32658e"/>
<path d="M32 56h1" stroke="#32648e"/>
<path d="M33 56h1" stroke="#33638d"/>
<path d="M34 56h1" stroke="#34618d"/>
<path d="M35 56h1" stroke="#34608d"/>
<path d="M36 56h1" stroke="#355e8d"/>
<path d="M37 56h1" stroke="#365c8d"/>
<path d="M38 56h1" stroke="#375b8d"/>
<path d="M39 56h1" stroke="#38598c"/>
<path d="M40 56h1" stroke="#39568c"/>
<path d="M41 56h1" stroke="#3a548c"/>
<path d="M42 56h1" stroke="#3b528b"/>
<path d="M43 56h1" stroke="#3b518b"/>
<path d="M44 56h1" stroke="#3c4f8a"/>
<path d="M45 56h1" stroke="#3d4d8a"/>
<path d="M46 56h1" stroke="#3e4c8a"/>
<path d="M47 56h1" stroke="#3e4989"/>
<path d="M48 56h1" stroke="#3f4788"/>
<path d="M49 56h1" stroke="#404688"/>
<path d="M50 56h1" stroke="#414487"/>
<path d="M51 56h1" stroke="#414287"/>
<path d="M52 56h1" stroke="#424086"/>
<path d="M53 56h1" stroke="#433e85"/>
<path d="M54 56h1" stroke="#433d84"/>
<path d="M55 56h1" stroke="#443a83"/>
<path d="M56 56h1" stroke="#443983"/>
<path d="M57 56h1" stroke="#453781"/>
<path d="M58 56h1" stroke="#463480"/>
<path d="M59 56h1" stroke="#46337f"/>
<path d="M60 56h1" stroke="#46307e"/>
<path d="M61 56h2" stroke="#472e7c"/>
<path d="M0 57h2" stroke="#46307e"/>
<path d="M2 57h1" stroke="#443983"/>
<path d="M3 57h1" stroke="#414287"/>
<path d="M4 57h1" stroke="#3f4889"/>
<path d="M5 57h1" stroke="#3e4c8a"/>
<path d="M6 57h1" stroke="#3c508b"/>
<path d="M7 57h1" stroke="#39558c"/>
<path d="M8 57h1" stroke="#375a8c"/>
<path d="M9 57h1" stroke="#365d8d"/>
<path d="M10 57h1" stroke="#34618d"/>
<path d="M11 57h1" stroke="#32648e"/>
<path d="M12 57h1" stroke="#30698e"/>
<path d="M13 57h1" stroke="#2f6c8e"/>
<path d="M14 57h8" stroke="#2e6d8e"/>
<path d="M22 57h1" stroke="#2f6c8e"/>
<path d="M23 57h1" stroke="#2f6b8e"/>
<path d="M24 57h1" stroke="#30698e"/>
<path d="M25 57h1" stroke="#31688e"/>
<path d="M26 57h1" stroke="#31678e"/>
<path d="M27 57h1" stroke="#31668e"/>
<path d="M28 57h2" stroke="#32658e"/>
<path d="M30 57h1" stroke="#32648e"/>
<path d="M31 57h1" stroke="#33628d"/>
<path d="M32 57h1" stroke="#34618d"/>
<path d="M33 57h1" stroke="#34608d"/>
<path d="M34 57h1" stroke="#355f8d"/>
<path d="M35 57h1" stroke="#365d8d"/>
<path d="M36 57h1" stroke="#365c8d"/>
<path d="M37 57h1" stroke="#375a8c"/>
<path d="M38 57h1" stroke="#38588c"/>
<path d="M39 57h1" stroke="#39568c"/>
<path d="M40 57h1" stroke="#3a548c"/>
<path d="M41 57h1" stroke="#3b528b"/>
<path d="M42 57h1" stroke="#3c508b"/>
<path d="M43 57h1" stroke="#3c4f8a"/>
<path d="M44 57h1" stroke="#3d4d8a"/>
<path d="M45 57h1" stroke="#3e4c8a"/>
<path d="M46 57h1" stroke="#3e4989"/>
<path d="M47 57h1" stroke="#3f4889"/>
<path d="M48 57h1" stroke="#404688"/>
<path d="M49 57h1" stroke="#414487"/>
<path d="M50 57h1" stroke="#414287"/>
<path d="M51 57h1" stroke="#424086"/>
<path d="M52 57h1" stroke="#433e85"/>
<path d="M53 57h1" stroke="#433d84"/>
<path d="M54 57h1" stroke="#443a83"/>
<path d="M55 57h1" stroke="#453882"/>
<path d="M56 57h1" stroke="#453781"/>
<path d="M57 57h1" stroke="#463480"/>
<path d="M58 57h1" stroke="#46337f"/>
<path d="M59 57h1" stroke="#46307e"/>
<path d="M60 57h1" stroke="#472e7c"/>
<path d="M61 57h2" stroke="#472d7b"/>
<path d="M0 58h2" stroke="#482979"/>
<path d="M2 58h1" stroke="#46327e"/>
<path d="M3 58h1" stroke="#443a83"/>
<path d="M4 58h1" stroke="#424186"/>
<path d="M5 58h1" stroke="#404688"/>
<path d="M6 58h1" stroke="#3e4989"/>
<path d="M7 58h1" stroke="#3d4e8a"/>
<path d="M8 58h1" stroke="#3a538b"/>
<path d="M9 58h1" stroke="#38588c"/>
<path d="M10 58h1" stroke="#375b8d"/>
<path d="M11 58h1" stroke="#355e8d"/>
<path d="M12 58h1" stroke="#33628d"/>
<path d="M13 58h1" stroke="#31678e"/>
<path d="M14 58h10" stroke="#31688e"/>
<path d="M24 58h1" stroke="#31668e"/>
<path d="M25 58h1" stroke="#32658e"/>
<path d="M26 58h1" stroke="#32648e"/>
<path d="M27 58h1" stroke="#33638d"/>
<path d="M28 58h1" stroke="#33628d"/>
<path d="M29 58h1" stroke="#34618d"/>
<path d="M30 58h1" stroke="#34608d"/>
<path d="M31 58h1" stroke="#355f8d"/>
<path d="M32 58h1" stroke="#355e8d"/>
<path d="M33 58h1" stroke="#365d8d"/>
<path d="M34 58h1" stroke="#365c8d"/>
<path d="M35 58h1" stroke="#375b8d"/>
<path d="M36 58h1" stroke="#38598c"/>
<path d="M37 58h1" stroke="#38588c"/>
<path d="M38 58h1" stroke="#39558c"/>
<path d="M39 58h1" stroke="#3a548c"/>
<path d="M40 58h1" stroke="#3b528b"/>
<path d="M41 58h1" stroke="#3c508b"/>
<path d="M42 58h1" stroke="#3d4e8a"/>
<path d="M43 58h1" stroke="#3d4d8a"/>
<path d="M44 58h1" stroke="#3e4a89"/>
<path d="M45 58h1" stroke="#3e4989"/>
<path d="M46 58h1" stroke="#3f4889"/>
<path d="M47 58h1" stroke="#404688"/>
<path d="M48 58h1" stroke="#414487"/>
<path d="M49 58h1" stroke="#414287"/>
<path d="M50 58h1" stroke="#424086"/>
<path d="M51 58h1" stroke="#433e85"/>
<path d="M52 58h1" stroke="#433d84"/>
<path d="M53 58h1" stroke="#443a83"/>
<path d="M54 58h1" stroke="#453882"/>
<path d="M55 58h1" stroke="#453781"/>
<path d="M56 58h1" stroke="#463480"/>
<path d="M57 58h1" stroke="#46337f"/>
<path d="M58 58h1" stroke="#46307e"/>
<path d="M59 58h1" stroke="#472e7c"/>
<path d="M60 58h1" stroke="#472d7b"/>
<path d="M61 58h2" stroke="#472a7a"/>
<path d="M0 59h2" stroke="#482173"/>
<path d="M2 59h1" stroke="#482979"/>
<path d="M3 59h1" stroke="#46337f"/>
<path d="M4 59h1" stroke="#443a83"/>
<path d="M5 59h1" stroke="#423f85"/>
<path d="M6 59h1" stroke="#414287"/>
<path d="M7 59h1" stroke="#3f4788"/>
<path d="M8 59h1" stroke="#3d4d8a"/>
<path d="M9 59h1" stroke="#3b518b"/>
<path d="M10 59h1" stroke="#3a548c"/>
<path d="M11 59h1" stroke="#38588c"/>
<path d="M12 59h1" stroke="#375b8d"/>
<path d="M13 59h1" stroke="#355f8d"/>
<path d="M14 59h1" stroke="#33628d"/>
<path d="M15 59h6" stroke="#33638d"/>
<path d="M21 59h3" stroke="#32648e"/>
<path d="M24 59h1" stroke="#33638d"/>
<path d="M25 59h1" stroke="#33628d"/>
<path d="M26 59h1" stroke="#34608d"/>
<path d="M27 59h2" stroke="#355f8d"/>
<path d="M29 59h1" stroke="#355e8d"/>
<path d="M30 59h1" stroke="#365d8d"/>
<path d="M31 59h1" stroke="#365c8d"/>
<path d="M32 59h1" stroke="#375b8d"/>
<path d="M33 59h1" stroke="#375a8c"/>
<path d="M34 59h1" stroke="#38598c"/>
<path d="M35 59h1" stroke="#38588c"/>
<path d="M36 59h1" stroke="#39568c"/>
<path d="M37 59h1" stroke="#3a548c"/>
<path d="M38 59h1" stroke="#3a538b"/>
<path d="M39 59h1" stroke="#3b528b"/>
<path d="M40 59h1" stroke="#3c508b"/>
<path d="M41 59h1" stroke="#3c4f8a"/>
<path d="M42 59h1" stroke="#3d4d8a"/>
<path d="M43 59h1" stroke="#3e4a89"/>
<path d="M44 59h1" stroke="#3e4989"/>
<path d="M45 59h1" stroke="#3f4788"/>
<path d="M46 59h1" stroke="#404688"/>
<path d="M47 59h1" stroke="#414487"/>
<path d="M48 59h1" stroke="#414287"/>
<path d="M49 59h1" stroke="#424086"/>
<path d="M50 59h1" stroke="#423f85"/>
<path d="M51 59h1" stroke="#433d84"/>
<path d="M52 59h1" stroke="#443a83"/>
<path d="M53 59h1" stroke="#453882"/>
<path d="M54 59h1" stroke="#453781"/>
<path d="M55 59h1" stroke="#463480"/>
<path d="M56 59h1" stroke="#46327e"/>
<path d="M57 59h1" stroke="#46307e"/>
<path d="M58 59h1" stroke="#472e7c"/>
<path d="M59 59h1" stroke="#472d7b"/>
<path d="M60 59h1" stroke="#472a7a"/>
<path d="M61 59h2" stroke="#482979"/>
<path d="M0 60h2" stroke="#481a6c"/>
<path d="M2 60h1" stroke="#482173"/>
<path d="M3 60h1" stroke="#472a7a"/>
<path d="M4 60h1" stroke="#46327e"/>
<path d="M5 60h1" stroke="#453781"/>
<path d="M6 60h1" stroke="#443b84"/>
<path d="M7 60h1" stroke="#424086"/>
<path d="M8 60h1" stroke="#404688"/>
<path d="M9 60h1" stroke="#3e4a89"/>
<path d="M10 60h1" stroke="#3c4f8a"/>
<path d="M11 60h1" stroke="#3b518b"/>
<path d="M12 60h1" stroke="#39558c"/>
<path d="M13 60h1" stroke="#38588c"/>
<path d="M14 60h1" stroke="#365c8d"/>
<path d="M15 60h1" stroke="#365d8d"/>
<path d="M16 60h3" stroke="#355e8d"/>
<path d="M19 60h6" stroke="#355f8d"/>
<path d="M25 60h1" stroke="#355e8d"/>
<path d="M26 60h1" stroke="#365d8d"/>
<path d="M27 60h1" stroke="#365c8d"/>
<path d="M28 60h2" stroke="#375b8d"/>
<path d="M30 60h1" stroke="#375a8c"/>
<path d="M31 60h1" stroke="#38598c"/>
<path d="M32 60h2" stroke="#38588c"/>
<path d="M34 60h1" stroke="#39558c"/>
<path d="M35 60h1" stroke="#3a548c"/>
<path d="M36 60h1" stroke="#3a538b"/>
<path d="M37 60h1" stroke="#3b528b"/>
<path d="M38 60h1" stroke="#3b518b"/>
<path d="M39 60h1" stroke="#3c4f8a"/>
<path d="M40 60h1" stroke="#3d4e8a"/>
<path d="M41 60h1" stroke="#3d4d8a"/>
<path d="M42 60h1" stroke="#3e4a89"/>
<path d="M43 60h1" stroke="#3e4989"/>
<path d="M44 60h1" stroke="#3f4788"/>
<path d="M45 60h1" stroke="#404688"/>
<path d="M46 60h1" stroke="#414487"/>
<path d="M47 60h1" stroke="#414287"/>
<path d="M48 60h1" stroke="#424086"/>
<path d="M49 60h1" stroke="#433e85"/>
<path d="M50 60h1" stroke="#433d84"/>
<path d="M51 60h1" stroke="#443a83"/>
<path d="M52 60h1" stroke="#453882"/>
<path d="M53 60h1" stroke="#453781"/>
<path d="M54 60h1" stroke="#463480"/>
<path d="M55 60h1" stroke="#46327e"/>
<path d="M56 60h1" stroke="#46307e"/>
<path d="M57 60h1" stroke="#472e7c"/>
<path d="M58 60h1" stroke="#472d7b"/>
<path d="M59 60h1" stroke="#472a7a"/>
<path d="M60 60h1" stroke="#482878"/>
<path d="M61 60h2" stroke="#482677"/>
<path d="M0 61h2" stroke="#471365"/>
<path d="M2 61h1" stroke="#481a6c"/>
<path d="M3 61h1" stroke="#482173"/>
<path d="M4 61h1" stroke="#482979"/>
<path d="M5 61h1" stroke="#472f7d"/>
<path d="M6 61h1" stroke="#463480"/>
<path d="M7 61h1" stroke="#443983"/>
<path d="M8 61h1" stroke="#423f85"/>
<path d="M9 61h1" stroke="#404588"/>
<path d="M10 61h1" stroke="#3e4989"/>
<path d="M11 61h1" stroke="#3e4c8a"/>
<path d="M12 61h1" stroke="#3c4f8a"/>
<path d="M13 61h1" stroke="#3b528b"/>
<path d="M14 61h1" stroke="#3a548c"/>
<path d="M15 61h1" stroke="#39568c"/>
<path d="M16 61h1" stroke="#38588c"/>
<path d="M17 61h1" stroke="#38598c"/>
<path d="M18 61h9" stroke="#375a8c"/>
<path d="M27 61h1" stroke="#38598c"/>
<path d="M28 61h1" stroke="#38588c"/>
<path d="M29 61h1" stroke="#39568c"/>
<path d="M30 61h2" stroke="#39558c"/>
<path d="M32 61h2" stroke="#3a548c"/>
<path d="M34 61h1" stroke="#3a538b"/>
<path d="M35 61h1" stroke="#3b528b"/>
<path d="M36 61h1" stroke="#3c508b"/>
<path d="M37 61h1" stroke="#3c4f8a"/>
<path d="M38 61h1" stroke="#3d4e8a"/>
<path d="M39 61h1" stroke="#3d4d8a"/>
<path d="M40 61h1" stroke="#3e4c8a"/>
<path d="M41 61h1" stroke="#3e4a89"/>
<path d="M42 61h1" stroke="#3e4989"/>
<path d="M43 61h1" stroke="#3f4788"/>
<path d="M44 61h1" stroke="#404688"/>
<path d="M45 61h1" stroke="#414487"/>
<path d="M46 61h1" stroke="#424186"/>
<path d="M47 61h1" stroke="#424086"/>
<path d="M48 61h1" stroke="#433e85"/>
<path d="M49 61h1" stroke="#433d84"/>
<path d="M50 61h1" stroke="#443a83"/>
<path d="M51 61h1" stroke="#453882"/>
<path d="M52 61h1" stroke="#453781"/>
<path d="M53 61h1" stroke="#463480"/>
<path d="M54 61h1" stroke="#46327e"/>
<path d="M55 61h1" stroke="#46307e"/>
<path d="M56 61h1" stroke="#472e7c"/>
<path d="M57 61h1" stroke="#472c7a"/>
<path d="M58 61h1" stroke="#472a7a"/>
<path d="M59 61h1" stroke="#482878"/>
<path d="M60 61h1" stroke="#482677"/>
<path d="M61 61h2" stroke="#482475"/>
<path d="M0 62h2" stroke="#471365"/>
<path d="M2 62h1" stroke="#481a6c"/>
<path d="M3 62h1" stroke="#482173"/>
<path d="M4 62h1" stroke="#482979"/>
<path d="M5 62h1" stroke="#472f7d"/>
<path d="M6 62h1" stroke="#463480"/>
<path d="M7 62h1" stroke="#443983"/>
<path d="M8 62h1" stroke="#423f85"/>
<path d="M9 62h1" stroke="#404588"/>
<path d="M10 62h1" stroke="#3e4989"/>
<path d="M11 62h1" stroke="#3e4c8a"/>
<path d="M12 62h1" stroke="#3c4f8a"/>
<path d="M13 62h1" stroke="#3b528b"/>
<path d="M14 62h1" stroke="#3a548c"/>
<path d="M15 62h1" stroke="#39568c"/>
<path d="M16 62h1" stroke="#38588c"/>
<path d="M17 62h1" stroke="#38598c"/>
<path d="M18 62h9" stroke="#375a8c"/>
<path d="M27 62h1" stroke="#38598c"/>
<path d="M28 62h1" stroke="#38588c"/>
<path d="M29 62h1" stroke="#39568c"/>
<path d="M30 62h2" stroke="#39558c"/>
<path d="M32 62h2" stroke="#3a548c"/>
<path d="M34 62h1" stroke="#3a538b"/>
<path d="M35 62h1" stroke="#3b528b"/>
<path d="M36 62h1" stroke="#3c508b"/>
<path d="M37 62h1" stroke="#3c4f8a"/>
<path d="M38 62h1" stroke="#3d4e8a"/>
<path d="M39 62h1" stroke="#3d4d8a"/>
<path d="M40 62h1" stroke="#3e4c8a"/>
<path d="M41 62h1" stroke="#3e4a89"/>
<path d="M42 62h1" stroke="#3e4989"/>
<path d="M43 62h1" stroke="#3f4788"/>
<path d="M44 62h1" stroke="#404688"/>
<path d="M45 62h1" stroke="#414487"/>
<path d="M46 62h1" stroke="#424186"/>
<path d="M47 62h1" stroke="#424086"/>
<path d="M48 62h1" stroke="#433e85"/>
<path d="M49 62h1" stroke="#433d84"/>
<path d="M50 62h1" stroke="#443a83"/>
<path d="M51 62h1" stroke="#453882"/>
<path d="M52 62h1" stroke="#453781"/>
<path d="M53 62h1" stroke="#463480"/>
<path d="M54 62h1" stroke="#46327e"/>
<path d="M55 62h1" stroke="#46307e"/>
<path d="M56 62h1" stroke="#472e7c"/>
<path d="M57 62h1" stroke="#472c7a"/>
<path d="M58 62h1" stroke="#472a7a"/>
<path d="M59 62h1" stroke="#482878"/>
<path d="M60 62h1" stroke="#482677"/>
<path d="M61 62h2" stroke="#482475"/>
</g></g>
<path d="M34.3 153.9 37.4 153.9 38.3 154.2 40.9 154.2 41 154.2 41 156.9 41.8 157.5 44.5 157.5 45 157.8 45 160.4 45.4 160.7 48 160.7 48.9 161.2 51.6 161.2 51.9 161.3 51.9 164 52.5 164.3 55.1 164.3 56 164.8 58.7 164.8 58.8 164.8 58.8 167.5 59.2 168.4 59.2 171 59.2 171.9 59.2 174.6 59.2 175.5 59.2 178.1 59 179 59 181.7 58.7 182.4 56 182.4 55.9 182.5 55.9 185.2 55.1 185.6 52.5 185.6 51.6 186 48.9 186 48.7 186.1 48.7 188.7 48 188.9 45.4 188.9 44.5 189.2 41.8 189.2 41.2 189.6 41.2 192.3 40.9 192.4 38.3 192.4 37.5 193.1 37.5 195.8 37.4 195.9 34.3 195.9" fill="none" stroke="#ff1e00" stroke-width="0.85" stroke-opacity="0.75"/>
<path d="M34.3 146.8 37.4 146.8 38.3 146.8 40.9 146.8 41.8 146.9 44.5 146.9 45.4 146.9 48 146.9 48.9 146.8 51.6 146.8 52.5 146.9 55.1 146.9 56 146.9 58.7 146.9 59.5 146.9 62.2 146.9 63.1 147 65.7 147 66.1 147.2 66.1 149.8 66.6 150.3 69.3 150.3 69.8 150.7 69.8 153.4 70.2 153.7 72.8 153.7 73.4 154.2 73.4 156.9 73.7 157.2 76.4 157.2 76.7 157.8 76.7 160.4 77 161.3 77 164 77.1 164.8 77.1 167.5 77.1 168.4 77.1 171 77.2 171.9 77.2 174.6 77.2 175.5 77.2 178.1 77.2 179 77.2 181.7 77 182.5 77 185.2 76.7 186.1 76.7 188.7 76.4 189.6 76.4 192.3 76.4 192.3 73.7 192.3 73.2 193.1 73.2 195.8 72.8 196.4 70.2 196.4 70 196.7 70 199.3 69.3 199.6 66.6 199.6 65.7 199.7 63.1 199.7 62.2 199.7 59.5 199.7 58.7 199.8 56 199.8 55.1 199.8 52.5 199.8 51.6 199.8 48.9 199.8 48 199.8 45.4 199.8 44.5 199.9 41.8 199.9 41.2 200.2 41.2 202.9 40.9 203 38.3 203 37.4 203.2 34.3 203.2" fill="none" stroke="#ff9400" stroke-width="0.85" stroke-opacity="0.75"/>
<path d="M34.3 139.6 37.4 139.6 38.3 139.3 40.9 139.3 41.6 139.2 41.6 136.5 41.8 136.4 44.5 136.4 45.4 136 48 136 48.9 135.8 51.6 135.8 51.8 135.7 51.8 133 52.5 132.6 55.1 132.6 55.6 132.1 55.6 129.5 56 129.2 58.7 129.2 59.5 128.7 62.2 128.7 63.1 128.7 65.7 128.7 66.6 128.7 69.3 128.7 70.2 128.7 72.8 128.7 73.7 128.9 76.4 128.9 77.2 129.5 77.2 132.1 77.3 132.2 79.9 132.2 80.8 132.8 83.5 132.8 83.7 133 83.7 135.7 84.3 136.1 87 136.1 87.6 136.5 87.6 139.2 87.9 139.4 90.5 139.4 91.4 140.1 91.4 142.7 91.4 142.7 94.1 142.7 95 143.1 97.6 143.1 98.4 143.6 98.4 146.3 98.5 146.4 101.2 146.4 102.1 146.9 104.7 146.9 105 147.2 105 149.8 105.6 150.5 108.3 150.5 108.4 150.7 108.4 153.4 109.1 154.2 109.1 156.9 109.1 157.1 111.8 157.1 112.1 157.8 112.1 160.4 112.4 161.3 112.4 164 112.7 164.7 115.3 164.7 115.4 164.8 115.4 167.5 115.5 168.4 115.5 171 115.6 171.9 115.6 174.6 115.6 175.5 115.6 178.1 115.6 179 115.6 181.7 115.3 182.2 112.7 182.2 112.5 182.5 112.5 185.2 112.1 186.1 112.1 188.7 111.8 189.2 109.1 189.2 108.9 189.6 108.9 192.3 108.5 193.1 108.5 195.8 108.3 196.3 105.6 196.3 105.4 196.7 105.4 199.3 104.7 200.2 102.1 200.2 102 200.2 102 202.9 101.2 203.6 98.5 203.6 98.4 203.8 98.4 206.4 97.6 206.9 95 206.9 94.2 207.3 94.2 210 94.1 210 91.4 210 90.5 210.5 87.9 210.5 87.1 210.8 87.1 213.5 87 213.5 84.3 213.5 83.5 214.1 80.8 214.1 80.4 214.4 80.4 217 79.9 217.3 77.3 217.3 76.4 217.7 73.7 217.7 72.8 217.8 70.2 217.8 69.3 217.8 66.6 217.8 65.7 217.8 63.1 217.8 62.2 217.7 59.5 217.7 58.7 217.5 56 217.5 55.1 217.1 52.5 217.1 52.3 217 52.3 214.4 51.6 214 48.9 214 48.2 213.5 48.2 210.8 48 210.8 45.4 210.8 44.5 210.6 41.8 210.6 40.9 210.5 38.3 210.5 37.4 210.3 34.3 210.3" fill="none" stroke="#e4ff13" stroke-width="0.85" stroke-opacity="0.75"/>
<path d="M34.3 128.6 37.4 128.6 37.5 128.6 37.5 125.9 38.3 125.4 40.9 125.4 41.5 125 41.5 122.4 41.8 122.1 44.5 122.1 45.4 121.5 48 121.5 48 121.5 48 118.9 48.9 118 51.6 118 51.6 118 51.6 115.3 52.4 114.4 52.4 111.8 52.5 111.7 55.1 111.7 56 110.9 58.7 110.9 59.2 110.9 59.2 108.2 59.5 108.2 62.2 108.2 63.1 108.2 65.7 108.2 66.6 108.2 69.3 108.2 70.2 108.2 72.8 108.2 73.7 108.2 76.4 108.2 77.3 108.2 79.9 108.2 80.8 108.2 83.5 108.2 84.3 108.2 87 108.2 87.9 108.2 90.5 108.2 91.4 108.2 94.1 108.2 94.7 107.4 94.7 104.7 95 104.6 97.6 104.6 98.5 104.6 101.2 104.6 101.4 104.7 101.4 107.4 102.1 108.2 104.7 108.2 105.2 108.2 105.2 110.9 105.6 111 108.3 111 109.1 111.5 111.8 111.5 112.2 111.8 112.2 114.4 112.7 114.8 115.3 114.8 116.1 115.3 116.1 118 116.2 118 118.9 118 119.8 118.7 122.4 118.7 122.6 118.9 122.6 121.5 123.3 122 126 122 126.5 122.4 126.5 125 126.9 125.3 129.5 125.3 130.3 125.9 130.3 128.6 130.4 128.6 133.1 128.6 133.9 129.3 136.6 129.3 136.8 129.5 136.8 132.1 137.5 132.7 140.1 132.7 140.4 133 140.4 135.7 140.9 136.5 140.9 139.2 141 139.3 143.7 139.3 144.1 140.1 144.1 142.7 144.6 143.6 147.2 143.6 147.2 143.6 147.2 146.3 147.7 147.2 147.7 149.8 148.1 150.7 148.1 153.4 148.1 153.5 150.8 153.5 150.9 154.2 150.9 156.9 151.1 157.8 151.1 160.4 151.3 161.3 151.3 164 151.5 164.8 151.5 167.5 151.5 168.4 151.5 171 151.6 171.9 151.6 174.6 151.5 175.5 151.5 178.1 151.4 179 151.4 181.7 151.3 182.5 151.3 185.2 151.1 186.1 151.1 188.7 151 189.6 151 192.3 150.8 192.9 148.1 192.9 148 193.1 148 195.8 147.4 196.7 147.4 199.3 147.2 199.7 144.6 199.7 144.2 200.2 144.2 202.9 143.7 203.7 141 203.7 141 203.8 141 206.4 140.3 207.3 140.3 210 140.1 210.2 137.5 210.2 136.9 210.8 136.9 213.5 136.6 213.8 133.9 213.8 133.4 214.4 133.4 217 133.1 217.3 130.4 217.3 129.8 217.9 129.8 220.6 129.5 220.8 126.9 220.8 126.1 221.5 126.1 224.1 126 224.2 123.3 224.2 122.4 225 119.8 225 119.7 225 119.7 227.6 118.9 228.3 116.2 228.3 116 228.5 116 231.2 115.3 231.6 112.7 231.6 112.1 232.1 112.1 234.7 111.8 234.9 109.1 234.9 108.3 235.6 108.3 238.3 108.3 238.3 105.6 238.3 104.7 238.5 102.1 238.5 101.2 238.6 98.5 238.6 97.6 238.6 95 238.6 94.1 238.6 91.4 238.6 90.5 238.7 87.9 238.7 87 238.7 84.3 238.7 83.5 238.7 80.8 238.7 79.9 238.7 77.3 238.7 76.4 238.7 73.7 238.7 72.8 238.6 70.2 238.6 69.3 238.6 66.6 238.6 65.7 238.6 63.1 238.6 62.2 238.5 59.5 238.5 59.1 238.3 59.1 235.6 58.7 235.4 56 235.4 55.2 234.7 55.2 232.1 55.1 232 52.5 232 51.6 231.2 48.9 231.2 48.9 231.2 48.9 228.5 48 227.8 45.4 227.8 45.1 227.6 45.1 225 44.5 224.6 41.8 224.6 41.3 224.1 41.3 221.5 40.9 221.2 38.3 221.2 37.7 220.6 37.7 217.9 37.4 217.7 34.3 217.7" fill="none" stroke="#7dff7a" stroke-width="0.85" stroke-opacity="0.75"/>
<path d="M34.3 114.5 37.4 114.5 37.5 114.4 37.5 111.8 37.9 110.9 37.9 108.2 38.3 107.6 40.9 107.6 41.1 107.4 41.1 104.7 41.7 103.8 41.7 101.2 41.8 100.9 44.5 100.9 45.2 100.3 45.2 97.6 45.4 97.5 48 97.5 48.9 96.9 51.6 96.9 51.8 96.7 51.8 94.1 52.5 93.6 55.1 93.6 55.8 93.2 55.8 90.6 56 90.4 58.7 90.4 59.5 89.9 62.2 89.9 62.6 89.7 62.6 87 63.1 86.7 65.7 86.7 66.6 86.3 69.3 86.3 69.5 86.1 69.5 83.5 70.2 83.1 72.8 83.1 73.7 82.7 76.4 82.7 76.6 82.6 76.6 79.9 77.3 79.7 79.9 79.7 80.8 79.5 83.5 79.5 84.3 79.5 87 79.5 87.9 79.5 90.5 79.5 91.4 79.5 94.1 79.5 95 79.5 97.6 79.5 98.5 79.5 101.2 79.5 102.1 79.5 104.7 79.5 105.6 79.5 108.3 79.5 109.1 79.5 111.8 79.5 112.7 79.5 115.3 79.5 116.2 79.6 118.9 79.6 119.8 79.9 122.4 79.9 122.6 79.9 122.6 82.6 123.3 82.8 126 82.8 126.9 83.1 129.5 83.1 130.4 83.3 133.1 83.3 133.5 83.5 133.5 86.1 133.9 86.3 136.6 86.3 137.5 86.8 140.1 86.8 140.5 87 140.5 89.7 141 90 143.7 90 144.5 90.6 144.5 93.2 144.6 93.2 147.2 93.2 148.1 93.8 150.8 93.8 151.3 94.1 151.3 96.7 151.6 97 154.3 97 155.2 97.5 157.8 97.5 158 97.6 158 100.3 158.7 100.8 161.4 100.8 161.9 101.2 161.9 103.8 162.3 104.1 164.9 104.1 165.8 104.7 168.5 104.7 168.5 104.7 168.5 107.4 169.4 108.1 172 108.1 172.2 108.2 172.2 110.9 172.9 111.6 175.6 111.6 175.8 111.8 175.8 114.4 176.4 115.1 179.1 115.1 179.3 115.3 179.3 118 180 118.7 182.6 118.7 182.8 118.9 182.8 121.5 183.5 122.4 183.5 125 183.5 125.1 186.2 125.1 186.6 125.9 186.6 128.6 186.9 129.5 186.9 132.1 187.1 132.7 189.7 132.7 189.8 133 189.8 135.7 190.1 136.5 190.1 139.2 190.5 140.1 190.5 142.7 190.6 143.1 193.3 143.1 193.5 143.6 193.5 146.3 193.8 147.2 193.8 149.8 194 150.7 194 153.4 194.1 154.2 194.1 156.9 194.2 157 196.8 157 196.9 157.8 196.9 160.4 197 161.3 197 164 197.1 164.8 197.1 167.5 197.2 168.4 197.2 171 197.3 171.9 197.3 174.6 197.3 175.5 197.3 178.1 197.2 179 197.2 181.7 197.1 182.5 197.1 185.2 197 186.1 197 188.7 196.8 189.5 194.2 189.5 194.1 189.6 194.1 192.3 193.9 193.1 193.9 195.8 193.6 196.7 193.6 199.3 193.3 200.2 190.6 200.2 190.6 200.2 190.6 202.9 190.2 203.8 190.2 206.4 189.8 207.3 189.8 210 189.7 210 187.1 210 186.6 210.8 186.6 213.5 186.2 214.3 183.5 214.3 183.5 214.4 183.5 217 183 217.9 183 220.6 182.6 221.1 180 221.1 179.7 221.5 179.7 224.1 179.1 224.9 176.4 224.9 176.4 225 176.4 227.6 175.7 228.5 175.7 231.2 175.6 231.3 172.9 231.3 172.2 232.1 172.2 234.7 172 234.9 169.4 234.9 168.7 235.6 168.7 238.3 168.5 238.4 165.8 238.4 165.1 239.1 165.1 241.8 164.9 241.9 162.3 241.9 161.4 242.6 158.7 242.6 158.6 242.7 158.6 245.3 157.8 245.9 155.2 245.9 154.8 246.2 154.8 248.9 154.3 249.2 151.6 249.2 150.8 249.8 150.8 252.4 150.8 252.5 148.1 252.5 147.2 253.1 144.6 253.1 144.4 253.3 144.4 255.9 143.7 256.3 141 256.3 140.1 256.7 137.5 256.7 137.2 256.8 137.2 259.5 136.6 259.7 133.9 259.7 133.1 260 130.4 260 129.5 260.3 126.9 260.3 126.5 260.4 126.5 263 126 263.2 123.3 263.2 122.4 263.4 119.8 263.4 118.9 263.7 116.2 263.7 115.9 263.9 115.9 266.6 115.3 266.9 112.7 266.9 111.8 267.1 109.1 267.1 108.3 267.1 105.6 267.1 104.7 267.1 102.1 267.1 101.2 267.1 98.5 267.1 97.6 267.1 95 267.1 94.1 267.1 91.4 267.1 90.5 267.1 87.9 267.1 87 267.1 84.3 267.1 83.5 267 80.8 267 79.9 266.9 77.3 266.9 76.6 266.6 76.6 263.9 76.4 263.8 73.7 263.8 72.8 263.1 70.2 263.1 70 263 70 260.4 69.3 259.9 66.6 259.9 65.9 259.5 65.9 256.8 65.7 256.8 63.1 256.8 62.2 256.2 59.5 256.2 58.9 255.9 58.9 253.3 58.7 253.2 56 253.2 55.1 252.7 52.5 252.7 51.6 252.4 51.6 249.8 51.6 249.7 48.9 249.7 48 249.1 45.4 249.1 45.2 248.9 45.2 246.2 44.5 245.4 41.8 245.4 41.8 245.3 41.8 242.7 41.2 241.8 41.2 239.1 40.9 238.8 38.3 238.8 38 238.3 38 235.6 37.6 234.7 37.6 232.1 37.4 231.8 34.3 231.8" fill="none" stroke="#16ffe1" stroke-width="0.85" stroke-opacity="0.75"/>
<path d="M190.5 65.3 190.5 68.4 190.6 68.6 193.3 68.6 194 69.3 194 72 194.2 72.1 196.8 72.1 197.6 72.9 197.6 75.5 197.7 75.7 200.4 75.7 201.1 76.4 201.1 79.1 201.2 79.3 203.9 79.3 204.6 79.9 204.6 82.6 204.8 82.8 207.4 82.8 208.1 83.5 208.1 86.1 208.3 86.4 211 86.4 211.8 87 211.8 89.7 211.9 89.7 214.5 89.7 215.4 90.4 218.1 90.4 218.3 90.6 218.3 93.2 219 93.9 221.6 93.9 221.8 94.1 221.8 96.7 222.4 97.6 222.4 100.3 222.5 100.4 225.2 100.4 225.7 101.2 225.7 103.8 226 104.4 228.7 104.4 228.9 104.7 228.9 107.4 229.3 108.2 229.3 110.9 229.6 111.5 232.2 111.5 232.4 111.8 232.4 114.4 232.9 115.3 232.9 118 233.1 118.5 235.8 118.5 236 118.9 236 121.5 236.5 122.4 236.5 125 236.7 125.4 239.3 125.4 239.6 125.9 239.6 128.6 240.1 129.5 240.1 132.1 240.2 132.4 242.9 132.4 243.2 133 243.2 135.7 243.7 136.5 243.7 139.2 243.8 139.4 246.4 139.4 246.7 140.1 246.7 142.7 247.1 143.6 247.1 146.3 247.3 146.9 250.4 146.9" fill="none" stroke="#0080ff" stroke-width="0.85" stroke-opacity="0.75"/>
<path d="M34.3 93.6 37.4 93.6 37.7 93.2 37.7 90.6 38.3 89.7 38.3 87 38.3 87 40.9 87 41.6 86.1 41.6 83.5 41.8 83.2 44.5 83.2 45.1 82.6 45.1 79.9 45.4 79.8 48 79.8 48.9 79.1 48.9 76.4 48.9 76.4 51.6 76.4 52.5 75.8 55.1 75.8 55.5 75.5 55.5 72.9 56 72.5 58.7 72.5 59.4 72 59.4 69.3 59.5 69.2 62.2 69.2 63.1 68.6 65.7 68.6 66 68.4 66 65.3" fill="none" stroke="#0080ff" stroke-width="0.85" stroke-opacity="0.75"/>
<path d="M250.4 185.4 247.3 185.4 247.2 186.1 247.2 188.7 246.9 189.6 246.9 192.3 246.7 193.1 246.7 195.8 246.4 196.6 243.8 196.6 243.7 196.7 243.7 199.3 243.4 200.2 243.4 202.9 243.1 203.8 243.1 206.4 242.9 207 240.2 207 240.1 207.3 240.1 210 239.8 210.8 239.8 213.5 239.4 214.4 239.4 217 239.3 217.3 236.7 217.3 236.4 217.9 236.4 220.6 236 221.5 236 224.1 235.8 224.5 233.1 224.5 232.9 225 232.9 227.6 232.4 228.5 232.4 231.2 232.2 231.4 229.6 231.4 229.2 232.1 229.2 234.7 228.7 235.4 226 235.4 225.9 235.6 225.9 238.3 225.3 239.1 225.3 241.8 225.2 242 222.5 242 221.9 242.7 221.9 245.3 221.6 245.7 219 245.7 218.5 246.2 218.5 248.9 218.1 249.3 215.4 249.3 215 249.8 215 252.4 214.5 252.9 211.9 252.9 211.4 253.3 211.4 255.9 211 256.4 208.3 256.4 207.9 256.8 207.9 259.5 207.4 260 204.8 260 204.4 260.4 204.4 263 203.9 263.6 201.2 263.6 201 263.9 201 266.6 200.4 267.2 197.7 267.2 197.5 267.4 197.5 270.1 196.8 270.7 194.2 270.7 193.8 271 193.8 273.6 193.3 274.1 190.6 274.1 190.2 274.5 190.2 277.2 189.7 277.7 187.1 277.7 186.8 278.1 186.8 281.1" fill="none" stroke="#0080ff" stroke-width="0.85" stroke-opacity="0.75"/>
<path d="M66.1 281.1 66.1 278.1 65.7 277.8 63.1 277.8 62.3 277.2 62.3 274.5 62.2 274.5 59.5 274.5 58.7 273.8 56 273.8 55.8 273.6 55.8 271 55.1 270.5 52.5 270.5 51.8 270.1 51.8 267.4 51.6 267.3 48.9 267.3 48 266.8 45.4 266.8 45.1 266.6 45.1 263.9 44.5 263.4 41.8 263.4 41.5 263 41.5 260.4 40.9 259.6 38.3 259.6 38.2 259.5 38.2 256.8 37.4 256 34.3 256" fill="none" stroke="#0080ff" stroke-width="0.85" stroke-opacity="0.75"/>
<path d="M34.3 76 37.4 76 37.6 75.5 37.6 72.9 38 72 38 69.3 38.3 68.6 40.9 68.6 41.1 68.4 41.1 65.3" fill="none" stroke="#0000ff" stroke-width="0.85" stroke-opacity="0.75"/>
<path d="M41.3 281.1 41.3 278.1 40.9 277.7 38.3 277.7 37.8 277.2 37.8 274.5 37.4 274.1 34.3 274.1" fill="none" stroke="#0000ff" stroke-width="0.85" stroke-opacity="0.75"/>
</g>
<rect x="34.3" y="65.35" width="216.1" height="215.8" fill="none" stroke="#000" stroke-width="0.67"/>
<path d="M34.3 281.15L34.3 284.25" stroke="#000" stroke-width="0.67"/>
<text x="31.86" y="293.85" font-size="8.5" textLength="4.87" lengthAdjust="spacingAndGlyphs">0</text>
<path d="M70.32 281.15L70.32 284.25" stroke="#000" stroke-width="0.67"/>
<text x="62.25" y="293.85" font-size="8.5" textLength="16.47" lengthAdjust="spacingAndGlyphs">−10</text>
<path d="M106.33 281.15L106.33 284.25" stroke="#000" stroke-width="0.67"/>
<text x="98.27" y="293.85" font-size="8.5" textLength="16.47" lengthAdjust="spacingAndGlyphs">−20</text>
<path d="M142.35 281.15L142.35 284.25" stroke="#000" stroke-width="0.67"/>
<text x="134.28" y="293.85" font-size="8.5" textLength="16.47" lengthAdjust="spacingAndGlyphs">−30</text>
<path d="M178.37 281.15L178.37 284.25" stroke="#000" stroke-width="0.67"/>
<text x="170.3" y="293.85" font-size="8.5" textLength="16.47" lengthAdjust="spacingAndGlyphs">−40</text>
<path d="M214.38 281.15L214.38 284.25" stroke="#000" stroke-width="0.67"/>
<text x="206.32" y="293.85" font-size="8.5" textLength="16.47" lengthAdjust="spacingAndGlyphs">−50</text>
<path d="M250.4 281.15L250.4 284.25" stroke="#000" stroke-width="0.67"/>
<text x="242.33" y="293.85" font-size="8.5" textLength="16.47" lengthAdjust="spacingAndGlyphs">−60</text>
<path d="M31.2 65.35L34.3 65.35" stroke="#000" stroke-width="0.67"/>
<text x="11.38" y="68.6" font-size="8.5" textLength="16.47" lengthAdjust="spacingAndGlyphs">−30</text>
<path d="M31.2 101.32L34.3 101.32" stroke="#000" stroke-width="0.67"/>
<text x="11.38" y="104.57" font-size="8.5" textLength="16.47" lengthAdjust="spacingAndGlyphs">−20</text>
<path d="M31.2 137.28L34.3 137.28" stroke="#000" stroke-width="0.67"/>
<text x="11.38" y="140.53" font-size="8.5" textLength="16.47" lengthAdjust="spacingAndGlyphs">−10</text>
<path d="M31.2 173.25L34.3 173.25" stroke="#000" stroke-width="0.67"/>
<text x="22.97" y="176.5" font-size="8.5" textLength="4.87" lengthAdjust="spacingAndGlyphs">0</text>
<path d="M31.2 209.22L34.3 209.22" stroke="#000" stroke-width="0.67"/>
<text x="18.19" y="212.47" font-size="8.5" textLength="9.66" lengthAdjust="spacingAndGlyphs">10</text>
<path d="M31.2 245.18L34.3 245.18" stroke="#000" stroke-width="0.67"/>
<text x="17.89" y="248.43" font-size="8.5" textLength="9.96" lengthAdjust="spacingAndGlyphs">20</text>
<path d="M31.2 281.15L34.3 281.15" stroke="#000" stroke-width="0.67"/>
<text x="17.91" y="284.4" font-size="8.5" textLength="9.93" lengthAdjust="spacingAndGlyphs">30</text>
<text x="134.81" y="304.75" font-size="8.5" textLength="15.13" lengthAdjust="spacingAndGlyphs">mm</text>
<text x="-1.74" y="174.45" font-size="8.5" textLength="15.13" lengthAdjust="spacingAndGlyphs" transform="rotate(-90 5.8 174.45)">mm</text>
<linearGradient id="cbc1" x1="0" y1="0" x2="0" y2="1"><stop offset="0%" stop-color="#fde725"/><stop offset="2.5%" stop-color="#efe51c"/><stop offset="5%" stop-color="#dfe318"/><stop offset="7.5%" stop-color="#cde11d"/><stop offset="10%" stop-color="#bddf26"/><stop offset="12.5%" stop-color="#addc30"/><stop offset="15%" stop-color="#9bd93c"/><stop offset="17.5%" stop-color="#8bd646"/><stop offset="20%" stop-color="#7ad151"/><stop offset="22.5%" stop-color="#6ccd5a"/><stop offset="25%" stop-color="#5ec962"/><stop offset="27.5%" stop-color="#50c46a"/><stop offset="30%" stop-color="#44bf70"/><stop offset="32.5%" stop-color="#38b977"/><stop offset="35%" stop-color="#2fb47c"/><stop offset="37.5%" stop-color="#28ae80"/><stop offset="40%" stop-color="#22a884"/><stop offset="42.5%" stop-color="#1fa287"/><stop offset="45%" stop-color="#1e9c89"/><stop offset="47.5%" stop-color="#1f968b"/><stop offset="50%" stop-color="#21918c"/><stop offset="52.5%" stop-color="#238a8d"/><stop offset="55%" stop-color="#25848e"/><stop offset="57.5%" stop-color="#277e8e"/><stop offset="60%" stop-color="#2a788e"/><stop offset="62.5%" stop-color="#2c728e"/><stop offset="65%" stop-color="#2f6c8e"/><stop offset="67.5%" stop-color="#31668e"/><stop offset="70%" stop-color="#355f8d"/><stop offset="72.5%" stop-color="#38598c"/><stop offset="75%" stop-color="#3b528b"/><stop offset="77.5%" stop-color="#3e4a89"/><stop offset="80%" stop-color="#414487"/><stop offset="82.5%" stop-color="#443b84"/><stop offset="85%" stop-color="#463480"/><stop offset="87.5%" stop-color="#472d7b"/><stop offset="90%" stop-color="#482475"/><stop offset="92.5%" stop-color="#481c6e"/><stop offset="95%" stop-color="#471365"/><stop offset="97.5%" stop-color="#460a5d"/><stop offset="100%" stop-color="#440154"/></linearGradient>
<rect x="265" y="65.35" width="11.2" height="215.8" fill="url(#cbc1)" stroke="#000" stroke-width="0.67"/>
<path d="M276.2 65.7L279.3 65.7" stroke="#000" stroke-width="0.67"/>
<text x="282.35" y="68.95" font-size="8.5" textLength="4.87" lengthAdjust="spacingAndGlyphs">0</text>
<path d="M276.2 101.12L279.3 101.12" stroke="#000" stroke-width="0.67"/>
<text x="282.68" y="104.38" font-size="8.5" textLength="11.15" lengthAdjust="spacingAndGlyphs">−5</text>
<path d="M276.2 136.55L279.3 136.55" stroke="#000" stroke-width="0.67"/>
<text x="282.68" y="139.8" font-size="8.5" textLength="16.47" lengthAdjust="spacingAndGlyphs">−10</text>
<path d="M276.2 171.98L279.3 171.98" stroke="#000" stroke-width="0.67"/>
<text x="282.68" y="175.23" font-size="8.5" textLength="16.3" lengthAdjust="spacingAndGlyphs">−15</text>
<path d="M276.2 207.4L279.3 207.4" stroke="#000" stroke-width="0.67"/>
<text x="282.68" y="210.65" font-size="8.5" textLength="16.47" lengthAdjust="spacingAndGlyphs">−20</text>
<path d="M276.2 242.82L279.3 242.82" stroke="#000" stroke-width="0.67"/>
<text x="282.68" y="246.07" font-size="8.5" textLength="16.3" lengthAdjust="spacingAndGlyphs">−25</text>
<path d="M276.2 278.25L279.3 278.25" stroke="#000" stroke-width="0.67"/>
<text x="282.68" y="281.5" font-size="8.5" textLength="16.47" lengthAdjust="spacingAndGlyphs">−30</text>
<text x="303.21" y="174.25" font-size="8.5" textLength="10.46" lengthAdjust="spacingAndGlyphs" transform="rotate(-90 308.5 174.25)">dB</text>
<clipPath id="c2"><rect x="410.3" y="65.35" width="216.1" height="215.8"/></clipPath>
<g clip-path="url(#c2)">
<rect x="409.3" y="64.35" width="218.1" height="217.8" fill="#440154"/>
<path d="M407.3 43.3L410.3 43.3 417.2 40.1 424.4 36.9 432.1 33.9 440.1 30.9 448.7 27.9 457.8 25.1 467.4 22.4 477.7 19.9 488.7 17.5 500.3 15.4 512.8 13.5 526.1 11.9 540.3 10.7 555.5 10 571.6 10 587.9 11.4 603.9 14.5 619.4 19.4 634.3 25.8 648.4 33.8 661.6 43.2 673.8 54 684.7 65.9 686.4 78.9 686.4 92.8 686.4 107.5 686.4 122.9 686.4 138.7 686.4 154.8 686.4 171.1 686.4 187.4 686.4 203.5 686.4 219.3 686.4 234.7 686.4 249.4 686.4 263.3 684.7 276.3 673.8 288.2 661.6 299 648.4 308.4 634.3 316.4 619.4 322.8 603.9 327.7 587.9 330.8 571.6 332.2 555.5 332.1 540.3 331.4 526.1 330.3 512.8 328.7 500.3 326.8 488.7 324.7 477.7 322.3 467.4 319.8 457.8 317.1 448.7 314.2 440.1 311.3 432.1 308.3 424.4 305.2 417.2 302.1 410.3 298.9 407.3 298.9Z" fill="#440154"/>
<path d="M407.3 45.2L410.3 45.2 417.1 42.1 424.2 38.9 431.7 35.9 439.7 32.9 448.2 30 457.1 27.2 466.6 24.6 476.8 22 487.5 19.7 499.1 17.6 511.3 15.7 524.5 14.2 538.5 13.1 553.4 12.4 569.2 12.4 585.2 13.8 600.9 16.9 616.2 21.7 630.8 28.1 644.7 35.9 657.7 45.2 669.7 55.8 680.5 67.5 686.4 80.3 686.4 94 686.4 108.5 686.4 123.6 686.4 139.2 686.4 155 686.4 171.1 686.4 187.1 686.4 203 686.4 218.6 686.4 233.7 686.4 248.2 686.4 261.9 680.5 274.7 669.7 286.4 657.7 297 644.7 306.2 630.8 314.1 616.2 320.5 600.9 325.3 585.2 328.4 569.2 329.8 553.4 329.8 538.5 329.1 524.5 328 511.3 326.5 499.1 324.6 487.5 322.5 476.8 320.1 466.6 317.6 457.1 315 448.2 312.2 439.7 309.3 431.7 306.3 424.2 303.3 417.1 300.1 410.3 296.9 407.3 296.9Z" fill="#440154"/>
<path d="M407.3 47.1L410.3 47.1 417 44 424 40.9 431.4 37.9 439.3 34.9 447.6 32 456.4 29.3 465.8 26.6 475.8 24.1 486.5 21.8 497.8 19.7 509.9 17.9 522.8 16.4 536.6 15.3 551.3 14.7 566.9 14.7 582.6 16.2 598 19.3 613 24 627.4 30.3 641 38.1 653.8 47.2 665.6 57.6 676.3 69.1 685.8 81.7 686.4 95.2 686.4 109.4 686.4 124.3 686.4 139.6 686.4 155.3 686.4 171.1 686.4 186.9 686.4 202.5 686.4 217.9 686.4 232.7 686.4 247 685.8 260.5 676.3 273.1 665.6 284.6 653.8 295 641 304.1 627.4 311.9 613 318.2 598 322.9 582.6 326 566.9 327.4 551.3 327.5 536.6 326.9 522.8 325.8 509.9 324.3 497.8 322.4 486.5 320.3 475.8 318 465.8 315.6 456.4 312.9 447.6 310.2 439.3 307.3 431.4 304.3 424 301.3 417 298.2 410.3 295 407.3 295Z" fill="#440154"/>
<path d="M407.3 49L410.3 49 416.9 45.9 423.8 42.8 431.1 39.8 438.9 36.9 447.1 34 455.8 31.3 465 28.7 474.9 26.2 485.4 23.9 496.6 21.9 508.5 20.1 521.2 18.6 534.8 17.6 549.3 17 564.6 17 580 18.5 595.1 21.6 609.9 26.3 624 32.5 637.5 40.1 650.1 49.1 661.7 59.3 672.2 70.7 681.5 83.1 686.4 96.4 686.4 110.4 686.4 125 686.4 140.1 686.4 155.5 686.4 171.1 686.4 186.7 686.4 202.1 686.4 217.2 686.4 231.8 686.4 245.8 681.5 259.1 672.2 271.5 661.7 282.9 650.1 293.1 637.5 302.1 624 309.7 609.9 315.9 595.1 320.5 580 323.6 564.6 325.1 549.3 325.2 534.8 324.6 521.2 323.6 508.5 322.1 496.6 320.3 485.4 318.2 474.9 316 465 313.5 455.8 310.9 447.1 308.2 438.9 305.3 431.1 302.4 423.8 299.4 416.9 296.3 410.3 293.2 407.3 293.2Z" fill="#440154"/>
<path d="M407.3 50.9L410.3 50.9 416.8 47.8 423.6 44.7 430.8 41.7 438.5 38.8 446.6 36 455.1 33.3 464.3 30.7 474 28.3 484.3 26 495.4 24 507.1 22.2 519.7 20.8 533 19.7 547.3 19.2 562.3 19.3 577.4 20.8 592.3 23.9 606.8 28.6 620.7 34.7 633.9 42.2 646.3 51 657.8 61.1 668.2 72.2 677.4 84.4 685.3 97.5 686.4 111.3 686.4 125.7 686.4 140.6 686.4 155.8 686.4 171.1 686.4 186.4 686.4 201.6 686.4 216.5 686.4 230.9 685.3 244.7 677.4 257.8 668.2 269.9 657.8 281.1 646.3 291.2 633.9 300 620.7 307.5 606.8 313.6 592.3 318.3 577.4 321.3 562.3 322.9 547.3 323 533 322.4 519.7 321.4 507.1 320 495.4 318.2 484.3 316.2 474 313.9 464.3 311.5 455.1 308.9 446.6 306.2 438.5 303.4 430.8 300.5 423.6 297.5 416.8 294.4 410.3 291.3 407.3 291.3Z" fill="#440256"/>
<path d="M407.3 52.7L410.3 52.7 416.7 49.6 423.4 46.6 430.5 43.6 438.1 40.7 446 37.9 454.5 35.2 463.5 32.7 473.1 30.3 483.3 28 494.2 26 505.8 24.3 518.1 22.9 531.3 21.9 545.3 21.4 560 21.6 574.9 23.1 589.5 26.2 603.7 30.8 617.4 36.8 630.5 44.2 642.7 52.9 654 62.8 664.2 73.8 673.3 85.8 681.2 98.6 686.4 112.2 686.4 126.4 686.4 141 686.4 156 686.4 171.1 686.4 186.2 686.4 201.1 686.4 215.8 686.4 230 681.2 243.6 673.3 256.4 664.2 268.4 654 279.4 642.7 289.3 630.5 298 617.4 305.4 603.7 311.4 589.5 316 574.9 319.1 560 320.6 545.3 320.8 531.3 320.3 518.1 319.3 505.8 317.9 494.2 316.1 483.3 314.2 473.1 311.9 463.5 309.5 454.5 307 446 304.3 438.1 301.5 430.5 298.6 423.4 295.6 416.7 292.6 410.3 289.5 407.3 289.5Z" fill="#46075a"/>
<path d="M407.3 54.5L410.3 54.5 416.6 51.4 423.2 48.4 430.2 45.5 437.7 42.6 445.5 39.8 453.9 37.1 462.8 34.6 472.2 32.2 482.3 30 493 28.1 504.4 26.4 516.6 25 529.6 24 543.3 23.5 557.8 23.8 572.4 25.3 586.7 28.4 600.7 32.9 614.2 38.9 627 46.1 639.1 54.7 650.2 64.4 660.3 75.3 669.3 87.1 677 99.7 683.5 113.1 686.4 127.1 686.4 141.5 686.4 156.2 686.4 171.1 686.4 186 686.4 200.7 686.4 215.1 683.5 229.1 677 242.5 669.3 255.1 660.3 266.9 650.2 277.8 639.1 287.5 627 296 614.2 303.3 600.7 309.3 586.7 313.8 572.4 316.8 557.8 318.4 543.3 318.7 529.6 318.2 516.6 317.2 504.4 315.8 493 314.1 482.3 312.1 472.2 310 462.8 307.6 453.9 305 445.5 302.4 437.7 299.6 430.2 296.7 423.2 293.8 416.6 290.8 410.3 287.7 407.3 287.7Z" fill="#460a5d"/>
<path d="M407.3 56.2L410.3 56.2 416.5 53.2 423 50.2 429.9 47.3 437.3 44.4 445 41.7 453.3 39 462 36.5 471.3 34.2 481.3 32 491.8 30.1 503.1 28.4 515.1 27.1 527.9 26.1 541.4 25.7 555.6 25.9 569.9 27.5 584 30.6 597.8 35.1 611 40.9 623.7 48.1 635.5 56.5 646.5 66.1 656.4 76.7 665.3 88.4 673 100.8 679.3 114 684.4 127.7 686.4 141.9 686.4 156.4 686.4 171.1 686.4 185.7 686.4 200.2 684.4 214.4 679.3 228.2 673 241.4 665.3 253.8 656.4 265.4 646.5 276.1 635.5 285.7 623.7 294.1 611 301.3 597.8 307.1 584 311.6 569.9 314.6 555.6 316.2 541.4 316.5 527.9 316.1 515.1 315.1 503.1 313.8 491.8 312.1 481.3 310.2 471.3 308 462 305.7 453.3 303.1 445 300.5 437.3 297.7 429.9 294.9 423 292 416.5 289 410.3 285.9 407.3 285.9Z" fill="#470d60"/>
<path d="M407.3 58L410.3 58 416.4 54.9 422.8 52 429.7 49.1 436.9 46.3 444.5 43.5 452.7 40.9 461.3 38.4 470.5 36.1 480.3 34 490.7 32 501.8 30.4 513.6 29.1 526.2 28.2 539.5 27.8 553.5 28.1 567.5 29.7 581.4 32.8 594.9 37.2 607.9 42.9 620.3 50 632 58.3 642.8 67.7 652.6 78.2 661.4 89.6 668.9 101.9 675.2 114.9 680.2 128.4 683.8 142.4 686 156.7 686.4 171.1 686 185.5 683.8 199.8 680.2 213.8 675.2 227.3 668.9 240.3 661.4 252.6 652.6 264 642.8 274.5 632 283.9 620.3 292.2 607.9 299.2 594.9 305 581.4 309.4 567.5 312.5 553.5 314.1 539.5 314.4 526.2 314 513.6 313.1 501.8 311.8 490.7 310.1 480.3 308.2 470.5 306.1 461.3 303.8 452.7 301.3 444.5 298.7 436.9 295.9 429.7 293.1 422.8 290.2 416.4 287.2 410.3 284.2 407.3 284.2Z" fill="#471164"/>
<path d="M407.3 59.7L410.3 59.7 416.3 56.7 422.7 53.7 429.4 50.9 436.5 48.1 444 45.4 452.1 42.8 460.6 40.3 469.6 38 479.3 35.9 489.6 34 500.5 32.4 512.1 31.1 524.5 30.2 537.7 29.8 551.4 30.2 565.1 31.9 578.7 34.9 592 39.3 604.8 44.9 617.1 51.9 628.6 60 639.2 69.3 648.9 79.6 657.5 90.9 665 102.9 671.2 115.7 676.1 129.1 679.6 142.8 681.8 156.9 682.5 171.1 681.8 185.3 679.6 199.4 676.1 213.1 671.2 226.5 665 239.2 657.5 251.3 648.9 262.6 639.2 272.9 628.6 282.1 617.1 290.3 604.8 297.2 592 302.9 578.7 307.3 565.1 310.3 551.4 312 537.7 312.4 524.5 312 512.1 311.1 500.5 309.8 489.6 308.2 479.3 306.3 469.6 304.2 460.6 301.9 452.1 299.4 444 296.8 436.5 294.1 429.4 291.3 422.7 288.4 416.3 285.5 410.3 282.5 407.3 282.5Z" fill="#481467"/>
<path d="M407.3 61.4L410.3 61.4 416.2 58.4 422.5 55.5 429.1 52.6 436.1 49.8 443.6 47.2 451.5 44.6 459.9 42.1 468.8 39.9 478.3 37.8 488.5 35.9 499.2 34.3 510.7 33.1 522.9 32.2 535.8 31.9 549.3 32.3 562.8 34 576.1 37 589.2 41.3 601.8 46.9 613.8 53.8 625.1 61.8 635.6 70.9 645.2 81 653.7 92.1 661.1 104 667.2 116.6 672.1 129.7 675.6 143.3 677.7 157.1 678.4 171.1 677.7 185.1 675.6 198.9 672.1 212.5 667.2 225.6 661.1 238.2 653.7 250.1 645.2 261.1 635.6 271.3 625.1 280.4 613.8 288.4 601.8 295.3 589.2 300.9 576.1 305.2 562.8 308.2 549.3 309.9 535.8 310.3 522.9 309.9 510.7 309.1 499.2 307.9 488.5 306.3 478.3 304.4 468.8 302.3 459.9 300 451.5 297.6 443.6 295 436.1 292.3 429.1 289.6 422.5 286.7 416.2 283.8 410.3 280.8 407.3 280.8Z" fill="#48186a"/>
<path d="M407.3 63.1L410.3 63.1 416.1 60.1 422.3 57.2 428.8 54.3 435.7 51.6 443.1 48.9 450.9 46.4 459.2 44 468 41.7 477.4 39.6 487.4 37.8 498 36.3 509.3 35 521.3 34.2 534 33.9 547.2 34.4 560.5 36.1 573.6 39.1 586.4 43.3 598.8 48.9 610.6 55.6 621.8 63.5 632.1 72.5 641.5 82.4 649.9 93.3 657.2 105 663.3 117.4 668.1 130.3 671.5 143.7 673.6 157.3 674.3 171.1 673.6 184.9 671.5 198.5 668.1 211.9 663.3 224.8 657.2 237.2 649.9 248.8 641.5 259.7 632.1 269.7 621.8 278.7 610.6 286.6 598.8 293.3 586.4 298.8 573.6 303.1 560.5 306.1 547.2 307.8 534 308.3 521.3 308 509.3 307.1 498 305.9 487.4 304.4 477.4 302.5 468 300.5 459.2 298.2 450.9 295.8 443.1 293.3 435.7 290.6 428.8 287.8 422.3 285 416.1 282.1 410.3 279.1 407.3 279.1Z" fill="#481b6d"/>
<path d="M407.3 64.7L410.3 64.7 416 61.8 422.1 58.9 428.5 56.1 435.4 53.3 442.6 50.7 450.3 48.2 458.5 45.8 467.2 43.5 476.4 41.5 486.3 39.7 496.7 38.2 507.9 37 519.7 36.2 532.2 35.9 545.2 36.4 558.2 38.1 571 41.1 583.6 45.4 595.8 50.8 607.4 57.4 618.4 65.2 628.6 74 637.9 83.8 646.2 94.5 653.4 106 659.4 118.2 664.1 130.9 667.5 144.1 669.6 157.5 670.3 171.1 669.6 184.7 667.5 198.1 664.1 211.2 659.4 224 653.4 236.1 646.2 247.6 637.9 258.3 628.6 268.2 618.4 277 607.4 284.8 595.8 291.4 583.6 296.8 571 301.1 558.2 304 545.2 305.8 532.2 306.3 519.7 306 507.9 305.2 496.7 304 486.3 302.5 476.4 300.7 467.2 298.7 458.5 296.4 450.3 294 442.6 291.5 435.4 288.9 428.5 286.1 422.1 283.3 416 280.4 410.3 277.5 407.3 277.5Z" fill="#481f70"/>
<path d="M407.3 66.3L410.3 66.3 416 63.4 421.9 60.6 428.3 57.8 435 55 442.1 52.4 449.7 49.9 457.8 47.6 466.4 45.4 475.5 43.4 485.2 41.6 495.5 40.1 506.4 39 518.1 38.2 530.3 38 543.1 38.5 555.8 40.3 568.4 43.2 580.8 47.4 592.7 52.8 604.2 59.3 615 66.9 625 75.6 634.2 85.3 642.3 95.8 649.4 107.1 655.3 119.1 660 131.6 663.4 144.5 665.4 157.7 666.1 171.1 665.4 184.4 663.4 197.7 660 210.6 655.3 223.1 649.4 235.1 642.3 246.4 634.2 256.9 625 266.6 615 275.2 604.2 282.9 592.7 289.4 580.8 294.8 568.4 298.9 555.8 301.9 543.1 303.7 530.3 304.2 518.1 304 506.4 303.2 495.5 302.1 485.2 300.6 475.5 298.8 466.4 296.8 457.8 294.6 449.7 292.3 442.1 289.8 435 287.1 428.3 284.4 421.9 281.6 416 278.8 410.3 275.8 407.3 275.8Z" fill="#482173"/>
<path d="M407.3 68L410.3 68 415.9 65.1 421.8 62.2 428 59.4 434.6 56.7 441.7 54.2 449.2 51.7 457.1 49.3 465.6 47.2 474.5 45.2 484.1 43.5 494.2 42 505 40.9 516.4 40.2 528.5 40 540.9 40.6 553.4 42.4 565.8 45.4 577.9 49.5 589.7 54.8 600.9 61.2 611.6 68.7 621.4 77.2 630.4 86.7 638.5 97.1 645.5 108.2 651.3 119.9 655.9 132.2 659.2 145 661.2 158 661.9 171.1 661.2 184.2 659.2 197.2 655.9 209.9 651.3 222.2 645.5 234 638.5 245.1 630.4 255.5 621.4 265 611.6 273.5 600.9 281 589.7 287.4 577.9 292.7 565.8 296.8 553.4 299.8 540.9 301.5 528.5 302.2 516.4 302 505 301.3 494.2 300.2 484.1 298.7 474.5 297 465.6 295 457.1 292.8 449.2 290.5 441.7 288 434.6 285.4 428 282.7 421.8 280 415.9 277.1 410.3 274.2 407.3 274.2Z" fill="#482475"/>
<path d="M407.3 69.6L410.3 69.6 415.8 66.7 421.6 63.9 427.7 61.1 434.3 58.4 441.2 55.9 448.6 53.4 456.4 51.1 464.8 49 473.6 47 483 45.3 493 43.9 503.6 42.9 514.8 42.2 526.6 42.1 538.8 42.7 551.1 44.5 563.2 47.4 575.1 51.5 586.7 56.7 597.7 63 608.2 70.4 617.9 78.8 626.7 88.1 634.7 98.3 641.5 109.2 647.3 120.8 651.8 132.9 655.1 145.4 657.1 158.2 657.8 171.1 657.1 184 655.1 196.8 651.8 209.3 647.3 221.4 641.5 233 634.7 243.9 626.7 254.1 617.9 263.4 608.2 271.8 597.7 279.1 586.7 285.5 575.1 290.7 563.2 294.7 551.1 297.7 538.8 299.4 526.6 300.1 514.8 300 503.6 299.3 493 298.2 483 296.8 473.6 295.2 464.8 293.2 456.4 291.1 448.6 288.8 441.2 286.3 434.3 283.8 427.7 281.1 421.6 278.3 415.8 275.5 410.3 272.6 407.3 272.6Z" fill="#482878"/>
<path d="M407.3 71.2L410.3 71.2 415.7 68.3 421.4 65.5 427.5 62.7 433.9 60.1 440.8 57.5 448 55.1 455.8 52.8 464 50.7 472.7 48.8 481.9 47.2 491.8 45.8 502.2 44.8 513.2 44.2 524.8 44.1 536.8 44.8 548.7 46.6 560.6 49.5 572.3 53.5 583.7 58.7 594.5 64.9 604.8 72.1 614.3 80.4 623.1 89.5 630.9 99.5 637.7 110.3 643.3 121.6 647.8 133.5 651 145.8 653 158.4 653.7 171.1 653 183.8 651 196.4 647.8 208.7 643.3 220.6 637.7 231.9 630.9 242.7 623.1 252.7 614.3 261.8 604.8 270.1 594.5 277.3 583.7 283.5 572.3 288.6 560.6 292.7 548.7 295.6 536.8 297.4 524.8 298.1 513.2 298 502.2 297.4 491.8 296.4 481.9 295 472.7 293.3 464 291.4 455.8 289.3 448 287.1 440.8 284.6 433.9 282.1 427.5 279.4 421.4 276.7 415.7 273.9 410.3 271 407.3 271Z" fill="#472a7a"/>
<path d="M407.3 72.7L410.3 72.7 415.6 69.9 421.2 67.1 427.2 64.4 433.6 61.7 440.3 59.2 447.5 56.8 455.1 54.6 463.2 52.5 471.8 50.6 480.9 49 490.5 47.7 500.8 46.7 511.6 46.2 523 46.1 534.7 46.9 546.4 48.7 558.1 51.6 569.6 55.5 580.7 60.6 591.4 66.7 601.5 73.8 610.9 81.9 619.4 90.9 627.1 100.7 633.8 111.3 639.4 122.5 643.8 134.2 647 146.2 648.9 158.6 649.6 171.1 648.9 183.6 647 195.9 643.8 208 639.4 219.7 633.8 230.9 627.1 241.4 619.4 251.3 610.9 260.3 601.5 268.4 591.4 275.5 580.7 281.6 569.6 286.6 558.1 290.6 546.4 293.5 534.7 295.3 523 296.1 511.6 296 500.8 295.5 490.5 294.5 480.9 293.2 471.8 291.6 463.2 289.7 455.1 287.6 447.5 285.4 440.3 283 433.6 280.4 427.2 277.8 421.2 275.1 415.6 272.3 410.3 269.5 407.3 269.5Z" fill="#472e7c"/>
<path d="M407.3 74.3L410.3 74.3 415.5 71.4 421.1 68.7 427 66 433.2 63.4 439.9 60.9 446.9 58.5 454.4 56.3 462.4 54.2 470.9 52.4 479.8 50.8 489.3 49.5 499.4 48.6 510 48.1 521.2 48.1 532.7 48.9 544.2 50.7 555.6 53.6 566.8 57.5 577.8 62.5 588.2 68.5 598.2 75.5 607.4 83.5 615.9 92.3 623.4 101.9 630 112.3 635.5 123.3 639.8 134.8 643 146.7 644.9 158.8 645.6 171.1 644.9 183.4 643 195.5 639.8 207.4 635.5 218.9 630 229.9 623.4 240.2 615.9 249.9 607.4 258.7 598.2 266.7 588.2 273.7 577.8 279.7 566.8 284.7 555.6 288.6 544.2 291.5 532.7 293.3 521.2 294.1 510 294.1 499.4 293.6 489.3 292.6 479.8 291.4 470.9 289.8 462.4 287.9 454.4 285.9 446.9 283.7 439.9 281.3 433.2 278.8 427 276.2 421.1 273.5 415.5 270.7 410.3 267.9 407.3 267.9Z" fill="#46307e"/>
<path d="M407.3 75.8L410.3 75.8 415.4 73 420.9 70.3 426.7 67.6 432.9 65 439.4 62.5 446.4 60.2 453.8 58 461.6 56 470 54.2 478.8 52.6 488.1 51.4 498 50.5 508.5 50 519.4 50.1 530.6 50.9 541.9 52.8 553.1 55.6 564.1 59.5 574.8 64.4 585.1 70.3 594.9 77.2 604 85 612.3 93.7 619.7 103.1 626.2 113.3 631.6 124.1 635.9 135.4 639 147.1 640.9 159 641.6 171.1 640.9 183.2 639 195.1 635.9 206.8 631.6 218.1 626.2 228.9 619.7 239 612.3 248.5 604 257.2 594.9 265 585.1 271.9 574.8 277.8 564.1 282.7 553.1 286.6 541.9 289.4 530.6 291.3 519.4 292.1 508.5 292.2 498 291.7 488.1 290.8 478.8 289.6 470 288 461.6 286.2 453.8 284.2 446.4 282 439.4 279.7 432.9 277.2 426.7 274.6 420.9 271.9 415.4 269.2 410.3 266.4 407.3 266.4Z" fill="#46337f"/>
<path d="M407.3 77.3L410.3 77.3 415.4 74.6 420.7 71.8 426.5 69.2 432.5 66.6 439 64.2 445.8 61.8 453.1 59.7 460.9 57.7 469.1 55.9 477.8 54.4 487 53.2 496.7 52.4 506.9 51.9 517.6 52 528.6 52.9 539.7 54.8 550.6 57.6 561.4 61.4 571.9 66.3 582.1 72.1 591.6 78.8 600.6 86.5 608.8 95 616.1 104.3 622.5 114.3 627.8 124.9 632 136 635.1 147.5 637 159.2 637.6 171.1 637 183 635.1 194.7 632 206.2 627.8 217.3 622.5 227.9 616.1 237.9 608.8 247.2 600.6 255.7 591.6 263.4 582.1 270.1 571.9 275.9 561.4 280.7 550.6 284.6 539.7 287.4 528.6 289.3 517.6 290.1 506.9 290.3 496.7 289.8 487 289 477.8 287.8 469.1 286.3 460.9 284.5 453.1 282.5 445.8 280.3 439 278 432.5 275.6 426.5 273 420.7 270.4 415.4 267.6 410.3 264.8 407.3 264.8Z" fill="#453781"/>
<path d="M407.3 78.9L410.3 78.9 415.3 76.1 420.6 73.4 426.2 70.7 432.2 68.2 438.6 65.8 445.3 63.5 452.5 61.3 460.1 59.4 468.2 57.6 476.7 56.2 485.8 55 495.3 54.2 505.4 53.8 515.9 54 526.6 54.9 537.4 56.8 548.2 59.6 558.8 63.4 569.1 68.1 579 73.8 588.4 80.5 597.2 88 605.2 96.4 612.5 105.5 618.7 115.3 624 125.7 628.2 136.6 631.2 147.9 633 159.4 633.7 171.1 633 182.7 631.2 194.3 628.2 205.6 624 216.5 618.7 226.9 612.5 236.7 605.2 245.8 597.2 254.2 588.4 261.7 579 268.4 569.1 274.1 558.8 278.8 548.2 282.6 537.4 285.4 526.6 287.3 515.9 288.2 505.4 288.4 495.3 288 485.8 287.2 476.7 286 468.2 284.5 460.1 282.8 452.5 280.8 445.3 278.7 438.6 276.4 432.2 274 426.2 271.4 420.6 268.8 415.3 266.1 410.3 263.3 407.3 263.3Z" fill="#443983"/>
<path d="M407.3 80.4L410.3 80.4 415.2 77.6 420.4 74.9 426 72.3 431.9 69.8 438.1 67.4 444.8 65.1 451.9 63 459.4 61.1 467.3 59.4 475.7 57.9 484.6 56.8 494 56 503.9 55.7 514.2 55.9 524.7 56.9 535.2 58.8 545.8 61.6 556.1 65.3 566.2 70 576 75.6 585.2 82.1 593.8 89.5 601.8 97.7 608.9 106.7 615.1 116.3 620.2 126.5 624.4 137.2 627.3 148.3 629.2 159.6 629.8 171.1 629.2 182.5 627.3 193.9 624.4 204.9 620.2 215.7 615.1 225.9 608.9 235.5 601.8 244.5 593.8 252.7 585.2 260.1 576 266.6 566.2 272.2 556.1 276.9 545.8 280.6 535.2 283.4 524.7 285.3 514.2 286.3 503.9 286.5 494 286.1 484.6 285.4 475.7 284.3 467.3 282.8 459.4 281.1 451.9 279.2 444.8 277.1 438.1 274.8 431.9 272.4 426 269.9 420.4 267.3 415.2 264.6 410.3 261.8 407.3 261.8Z" fill="#433d84"/>
<path d="M407.3 81.9L410.3 81.9 415.1 79.1 420.3 76.5 425.7 73.9 431.5 71.4 437.7 69 444.3 66.7 451.2 64.6 458.6 62.7 466.4 61.1 474.7 59.7 483.5 58.6 492.7 57.9 502.4 57.6 512.4 57.8 522.7 58.8 533 60.7 543.3 63.5 553.5 67.2 563.4 71.8 573 77.3 582 83.7 590.5 91 598.3 99 605.3 107.8 611.4 117.3 616.5 127.3 620.6 137.8 623.5 148.7 625.3 159.8 625.9 171.1 625.3 182.3 623.5 193.5 620.6 204.3 616.5 214.9 611.4 224.9 605.3 234.4 598.3 243.2 590.5 251.2 582 258.5 573 264.9 563.4 270.4 553.5 275 543.3 278.7 533 281.5 522.7 283.3 512.4 284.4 502.4 284.6 492.7 284.3 483.5 283.6 474.7 282.5 466.4 281.1 458.6 279.4 451.2 277.5 444.3 275.5 437.7 273.2 431.5 270.8 425.7 268.3 420.3 265.7 415.1 263.1 410.3 260.3 407.3 260.3Z" fill="#423f85"/>
<path d="M407.3 83.3L410.3 83.3 415 80.6 420.1 78 425.5 75.4 431.2 72.9 437.3 70.6 443.7 68.3 450.6 66.3 457.9 64.4 465.6 62.8 473.7 61.4 482.3 60.3 491.4 59.7 500.9 59.4 510.7 59.7 520.8 60.8 530.9 62.7 541 65.4 550.9 69.1 560.6 73.6 570 79 578.9 85.3 587.2 92.4 594.9 100.3 601.8 109 607.8 118.3 612.8 128.1 616.8 138.4 619.7 149.1 621.5 160 622 171.1 621.5 182.1 619.7 193.1 616.8 203.8 612.8 214.1 607.8 223.9 601.8 233.2 594.9 241.9 587.2 249.8 578.9 256.9 570 263.2 560.6 268.6 550.9 273.1 541 276.7 530.9 279.5 520.8 281.4 510.7 282.5 500.9 282.8 491.4 282.5 482.3 281.8 473.7 280.8 465.6 279.4 457.9 277.8 450.6 275.9 443.7 273.9 437.3 271.6 431.2 269.3 425.5 266.8 420.1 264.2 415 261.6 410.3 258.8 407.3 258.8Z" fill="#414287"/>
<path d="M407.3 84.8L410.3 84.8 415 82.1 419.9 79.5 425.2 76.9 430.9 74.5 436.9 72.1 443.2 69.9 450 67.9 457.1 66 464.7 64.4 472.7 63.1 481.2 62.1 490.1 61.5 499.4 61.2 509 61.6 518.8 62.7 528.7 64.6 538.6 67.4 548.3 71 557.8 75.4 567 80.7 575.8 86.9 584 93.9 591.5 101.6 598.3 110.1 604.2 119.2 609.1 128.9 613.1 139 615.9 149.5 617.7 160.2 618.2 171.1 617.7 181.9 615.9 192.7 613.1 203.2 609.1 213.3 604.2 223 598.3 232.1 591.5 240.5 584 248.3 575.8 255.3 567 261.5 557.8 266.8 548.3 271.2 538.6 274.8 528.7 277.6 518.8 279.5 509 280.6 499.4 280.9 490.1 280.7 481.2 280.1 472.7 279.1 464.7 277.7 457.1 276.1 450 274.3 443.2 272.3 436.9 270.1 430.9 267.7 425.2 265.3 419.9 262.7 415 260.1 410.3 257.4 407.3 257.4Z" fill="#404588"/>
<path d="M407.3 86.3L410.3 86.3 414.9 83.6 419.8 81 425 78.4 430.5 76 436.4 73.7 442.7 71.5 449.4 69.5 456.4 67.7 463.9 66.1 471.7 64.8 480 63.8 488.8 63.2 497.9 63.1 507.3 63.5 516.9 64.6 526.6 66.5 536.2 69.3 545.8 72.8 555.1 77.2 564.1 82.4 572.7 88.5 580.7 95.3 588.1 102.9 594.8 111.2 600.6 120.2 605.5 129.7 609.3 139.6 612.2 149.9 613.9 160.4 614.4 171.1 613.9 181.7 612.2 192.3 609.3 202.6 605.5 212.5 600.6 222 594.8 230.9 588.1 239.3 580.7 246.9 572.7 253.7 564.1 259.8 555.1 265 545.8 269.4 536.2 272.9 526.6 275.6 516.9 277.6 507.3 278.7 497.9 279.1 488.8 278.9 480 278.3 471.7 277.4 463.9 276.1 456.4 274.5 449.4 272.7 442.7 270.7 436.4 268.5 430.5 266.2 425 263.7 419.8 261.2 414.9 258.6 410.3 255.9 407.3 255.9Z" fill="#3f4788"/>
<path d="M407.3 87.5L410.3 87.5 414.8 84.9 419.6 82.3 424.8 79.8 430.2 77.4 436.1 75.1 442.2 73 448.8 71 455.7 69.3 463 67.7 470.8 66.5 478.9 65.6 487.5 65 496.4 64.9 505.6 65.4 515 66.5 524.5 68.4 533.9 71.1 543.2 74.6 552.4 79 561.2 84.1 569.6 90 577.5 96.7 584.8 104.2 591.4 112.3 597.1 121.1 601.9 130.4 605.7 140.2 608.5 150.3 610.2 160.6 610.7 171.1 610.2 181.6 608.5 191.9 605.7 202 601.9 211.8 597.1 221.1 591.4 229.8 584.8 238 577.5 245.4 569.6 252.2 561.2 258.1 552.4 263.2 543.2 267.5 533.9 271 524.5 273.7 515 275.7 505.6 276.8 496.4 277.3 487.5 277.2 478.9 276.6 470.8 275.7 463 274.4 455.7 272.9 448.8 271.2 442.2 269.2 436.1 267.1 430.2 264.8 424.8 262.4 419.6 259.9 414.8 257.3 410.3 254.7 407.3 254.7Z" fill="#3e4a89"/>
<path d="M407.3 88.7L410.3 88.7 414.8 86.1 419.5 83.6 424.6 81.1 430 78.7 435.7 76.5 441.8 74.4 448.2 72.5 455 70.8 462.2 69.3 469.8 68.2 477.8 67.3 486.2 66.8 494.9 66.7 503.9 67.2 513.1 68.4 522.4 70.3 531.6 73 540.7 76.4 549.7 80.7 558.4 85.7 566.6 91.5 574.4 98.1 581.5 105.5 588 113.4 593.6 122 598.3 131.2 602.1 140.8 604.8 150.7 606.5 160.8 607.1 171.1 606.5 181.4 604.8 191.5 602.1 201.4 598.3 211 593.6 220.1 588 228.7 581.5 236.7 574.4 244 566.6 250.6 558.4 256.5 549.7 261.5 540.7 265.7 531.6 269.2 522.4 271.8 513.1 273.8 503.9 274.9 494.9 275.4 486.2 275.4 477.8 274.9 469.8 274 462.2 272.8 455 271.4 448.2 269.7 441.8 267.8 435.7 265.7 430 263.4 424.6 261.1 419.5 258.6 414.8 256.1 410.3 253.5 407.3 253.5Z" fill="#3d4d8a"/>
<path d="M407.3 89.9L410.3 89.9 414.7 87.3 419.4 84.8 424.4 82.4 429.7 80.1 435.3 77.9 441.3 75.9 447.6 74 454.3 72.3 461.4 70.9 468.9 69.8 476.7 69 484.9 68.6 493.4 68.6 502.3 69.1 511.2 70.3 520.3 72.2 529.3 74.8 538.3 78.2 547 82.4 555.5 87.4 563.6 93.1 571.3 99.5 578.3 106.7 584.6 114.5 590.1 123 594.8 131.9 598.5 141.3 601.2 151.1 602.8 161 603.4 171.1 602.8 181.2 601.2 191.1 598.5 200.9 594.8 210.3 590.1 219.2 584.6 227.6 578.3 235.5 571.3 242.7 563.6 249.1 555.5 254.8 547 259.8 538.3 263.9 529.3 267.3 520.3 270 511.2 271.9 502.3 273.1 493.4 273.6 484.9 273.6 476.7 273.2 468.9 272.4 461.4 271.2 454.3 269.8 447.6 268.2 441.3 266.3 435.3 264.3 429.7 262.1 424.4 259.8 419.4 257.4 414.7 254.8 410.3 252.3 407.3 252.3Z" fill="#3c508b"/>
<path d="M407.3 91.1L410.3 91.1 414.6 88.6 419.2 86.1 424.2 83.7 429.4 81.4 434.9 79.3 440.8 77.3 447.1 75.5 453.6 73.9 460.6 72.5 467.9 71.5 475.6 70.7 483.6 70.4 492 70.4 500.6 71 509.3 72.2 518.2 74.1 527 76.7 535.8 80 544.4 84.1 552.7 89 560.7 94.6 568.2 100.9 575 107.9 581.3 115.6 586.7 123.9 591.3 132.7 594.9 141.9 597.6 151.4 599.2 161.2 599.8 171.1 599.2 181 597.6 190.8 594.9 200.3 591.3 209.5 586.7 218.3 581.3 226.6 575 234.2 568.2 241.3 560.7 247.6 552.7 253.2 544.4 258.1 535.8 262.2 527 265.5 518.2 268.1 509.3 270 500.6 271.2 492 271.8 483.6 271.8 475.6 271.5 467.9 270.7 460.6 269.7 453.6 268.3 447.1 266.7 440.8 264.9 434.9 262.9 429.4 260.8 424.2 258.5 419.2 256.1 414.6 253.6 410.3 251.1 407.3 251.1Z" fill="#3b528b"/>
<path d="M407.3 92.3L410.3 92.3 414.6 89.8 419.1 87.4 424 85 429.1 82.8 434.6 80.7 440.4 78.7 446.5 76.9 453 75.4 459.8 74.1 467 73.1 474.5 72.4 482.3 72.1 490.5 72.2 498.9 72.8 507.5 74 516.1 75.9 524.8 78.5 533.4 81.8 541.8 85.8 549.9 90.6 557.7 96.1 565.1 102.3 571.8 109.2 577.9 116.7 583.3 124.8 587.8 133.4 591.4 142.4 594 151.8 595.6 161.4 596.1 171.1 595.6 180.8 594 190.4 591.4 199.7 587.8 208.8 583.3 217.4 577.9 225.5 571.8 233 565.1 239.9 557.7 246.1 549.9 251.6 541.8 256.4 533.4 260.4 524.8 263.7 516.1 266.2 507.5 268.1 498.9 269.4 490.5 270 482.3 270.1 474.5 269.8 467 269.1 459.8 268.1 453 266.8 446.5 265.2 440.4 263.5 434.6 261.5 429.1 259.4 424 257.2 419.1 254.8 414.6 252.4 410.3 249.9 407.3 249.9Z" fill="#39558c"/>
<path d="M407.3 93.5L410.3 93.5 414.5 91 419 88.6 423.8 86.3 428.8 84.1 434.2 82 439.9 80.1 445.9 78.4 452.3 76.9 459 75.7 466 74.7 473.4 74.1 481 73.9 489 74 497.3 74.6 505.6 75.9 514.1 77.8 522.5 80.3 530.9 83.6 539.2 87.5 547.2 92.2 554.8 97.6 562 103.7 568.6 110.4 574.6 117.8 579.9 125.7 584.3 134.1 587.9 143 590.5 152.2 592 161.6 592.5 171.1 592 180.6 590.5 190 587.9 199.2 584.3 208 579.9 216.5 574.6 224.4 568.6 231.8 562 238.5 554.8 244.6 547.2 250 539.2 254.7 530.9 258.6 522.5 261.9 514.1 264.4 505.6 266.3 497.3 267.5 489 268.2 481 268.3 473.4 268.1 466 267.5 459 266.5 452.3 265.3 445.9 263.8 439.9 262.1 434.2 260.2 428.8 258.1 423.8 255.9 419 253.6 414.5 251.2 410.3 248.7 407.3 248.7Z" fill="#38588c"/>
<path d="M407.3 94.7L410.3 94.7 414.4 92.2 418.9 89.8 423.5 87.6 428.5 85.4 433.8 83.4 439.4 81.5 445.4 79.9 451.6 78.4 458.2 77.2 465.1 76.3 472.3 75.8 479.8 75.6 487.6 75.8 495.6 76.5 503.8 77.7 512 79.6 520.3 82.1 528.5 85.3 536.6 89.2 544.4 93.8 551.9 99.1 558.9 105 565.5 111.6 571.4 118.8 576.5 126.6 580.9 134.9 584.4 143.6 586.9 152.6 588.4 161.8 589 171.1 588.4 180.4 586.9 189.6 584.4 198.6 580.9 207.3 576.5 215.6 571.4 223.3 565.5 230.6 558.9 237.2 551.9 243.1 544.4 248.4 536.6 253 528.5 256.9 520.3 260 512 262.6 503.8 264.4 495.6 265.7 487.6 266.4 479.8 266.6 472.3 266.4 465.1 265.8 458.2 264.9 451.6 263.8 445.4 262.3 439.4 260.7 433.8 258.8 428.5 256.8 423.5 254.6 418.9 252.3 414.4 250 410.3 247.5 407.3 247.5Z" fill="#375a8c"/>
<path d="M407.3 95.9L410.3 95.9 414.4 93.4 418.7 91.1 423.3 88.8 428.3 86.7 433.5 84.7 439 82.9 444.8 81.3 450.9 79.9 457.4 78.8 464.1 78 471.2 77.5 478.5 77.3 486.1 77.6 494 78.3 501.9 79.6 510 81.4 518.1 83.9 526.1 87.1 534 90.9 541.6 95.4 549 100.5 555.9 106.4 562.3 112.8 568.1 119.9 573.2 127.5 577.5 135.6 580.9 144.1 583.4 152.9 584.9 162 585.4 171.1 584.9 180.2 583.4 189.3 580.9 198.1 577.5 206.6 573.2 214.7 568.1 222.3 562.3 229.4 555.9 235.8 549 241.6 541.6 246.8 534 251.3 526.1 255.1 518.1 258.3 510 260.7 501.9 262.6 494 263.9 486.1 264.6 478.5 264.9 471.2 264.7 464.1 264.2 457.4 263.4 450.9 262.3 444.8 260.9 439 259.3 433.5 257.5 428.3 255.5 423.3 253.3 418.7 251.1 414.4 248.8 410.3 246.3 407.3 246.3Z" fill="#365d8d"/>
<path d="M407.3 97L410.3 97 414.3 94.6 418.6 92.3 423.1 90.1 428 88 433.1 86.1 438.5 84.3 444.3 82.7 450.3 81.4 456.6 80.3 463.2 79.6 470.1 79.1 477.3 79 484.7 79.3 492.3 80.1 500.1 81.4 508 83.3 515.9 85.7 523.7 88.8 531.4 92.6 538.9 97 546.1 102 552.9 107.7 559.1 114 564.8 121 569.8 128.4 574 136.3 577.4 144.7 579.9 153.3 581.4 162.1 581.9 171.1 581.4 180 579.9 188.9 577.4 197.5 574 205.8 569.8 213.8 564.8 221.2 559.1 228.1 552.9 234.5 546.1 240.2 538.9 245.2 531.4 249.6 523.7 253.4 515.9 256.5 508 258.9 500.1 260.8 492.3 262.1 484.7 262.9 477.3 263.1 470.1 263.1 463.2 262.6 456.6 261.8 450.3 260.8 444.3 259.4 438.5 257.9 433.1 256.1 428 254.2 423.1 252.1 418.6 249.9 414.3 247.6 410.3 245.2 407.3 245.2Z" fill="#355f8d"/>
<path d="M407.3 98.2L410.3 98.2 414.3 95.8 418.5 93.5 422.9 91.4 427.7 89.3 432.8 87.4 438.1 85.7 443.7 84.2 449.6 82.9 455.8 81.9 462.3 81.2 469 80.8 476 80.7 483.3 81.1 490.7 81.9 498.3 83.2 506 85.1 513.7 87.5 521.3 90.5 528.8 94.2 536.2 98.5 543.2 103.5 549.8 109 556 115.2 561.6 122 566.5 129.3 570.6 137.1 574 145.2 576.4 153.7 577.8 162.3 578.3 171.1 577.8 179.9 576.4 188.5 574 197 570.6 205.1 566.5 212.9 561.6 220.2 556 226.9 549.8 233.1 543.2 238.7 536.2 243.7 528.8 248 521.3 251.6 513.7 254.7 506 257.1 498.3 259 490.7 260.3 483.3 261.1 476 261.4 469 261.4 462.3 261 455.8 260.3 449.6 259.3 443.7 258 438.1 256.5 432.8 254.8 427.7 252.9 422.9 250.8 418.5 248.6 414.3 246.4 410.3 244 407.3 244Z" fill="#33628d"/>
<path d="M407.3 99.3L410.3 99.3 414.2 97 418.3 94.8 422.7 92.6 427.4 90.6 432.4 88.8 437.6 87.1 443.2 85.6 449 84.4 455 83.4 461.4 82.7 468 82.4 474.8 82.4 481.9 82.8 489.1 83.7 496.5 85 504 86.9 511.5 89.3 518.9 92.3 526.3 95.9 533.5 100.1 540.3 104.9 546.8 110.4 552.9 116.4 558.4 123 563.2 130.2 567.3 137.8 570.5 145.8 572.9 154 574.3 162.5 574.8 171.1 574.3 179.7 572.9 188.2 570.5 196.4 567.3 204.4 563.2 212 558.4 219.1 552.9 225.8 546.8 231.8 540.3 237.3 533.5 242.1 526.3 246.3 518.9 249.9 511.5 252.9 504 255.3 496.5 257.2 489.1 258.5 481.9 259.3 474.8 259.7 468 259.8 461.4 259.4 455 258.8 449 257.8 443.2 256.6 437.6 255.1 432.4 253.4 427.4 251.6 422.7 249.6 418.3 247.4 414.2 245.2 410.3 242.8 407.3 242.8Z" fill="#32648e"/>
<path d="M407.3 100.5L410.3 100.5 414.1 98.2 418.2 96 422.5 93.9 427.2 91.9 432 90.1 437.2 88.4 442.6 87 448.3 85.8 454.3 84.9 460.5 84.3 466.9 84.1 473.6 84.1 480.4 84.6 487.5 85.5 494.7 86.8 502 88.7 509.3 91 516.6 94 523.8 97.5 530.8 101.6 537.5 106.4 543.9 111.7 549.8 117.6 555.2 124.1 559.9 131.1 563.9 138.5 567.1 146.3 569.4 154.4 570.9 162.7 571.3 171.1 570.9 179.5 569.4 187.8 567.1 195.9 563.9 203.7 559.9 211.1 555.2 218.1 549.8 224.6 543.9 230.5 537.5 235.8 530.8 240.5 523.8 244.7 516.6 248.2 509.3 251.1 502 253.5 494.7 255.4 487.5 256.7 480.4 257.6 473.6 258 466.9 258.1 460.5 257.9 454.3 257.3 448.3 256.3 442.6 255.2 437.2 253.7 432 252.1 427.2 250.3 422.5 248.3 418.2 246.2 414.1 244 410.3 241.7 407.3 241.7Z" fill="#31668e"/>
<path d="M407.3 101.6L410.3 101.6 414.1 99.4 418.1 97.2 422.4 95.1 426.9 93.2 431.7 91.4 436.7 89.8 442.1 88.4 447.7 87.3 453.5 86.5 459.6 85.9 465.8 85.7 472.3 85.8 479 86.3 485.9 87.2 492.9 88.6 500 90.4 507.1 92.8 514.2 95.7 521.2 99.2 528.1 103.2 534.7 107.8 540.9 113 546.7 118.8 552 125.1 556.6 131.9 560.5 139.2 563.7 146.8 566 154.8 567.4 162.9 567.9 171.1 567.4 179.3 566 187.4 563.7 195.4 560.5 203 556.6 210.2 552 217.1 546.7 223.4 540.9 229.2 534.7 234.4 528.1 239 521.2 243 514.2 246.5 507.1 249.4 500 251.7 492.9 253.6 485.9 254.9 479 255.9 472.3 256.4 465.8 256.5 459.6 256.3 453.5 255.7 447.7 254.9 442.1 253.7 436.7 252.4 431.7 250.8 426.9 249 422.4 247.1 418.1 245 414.1 242.8 410.3 240.6 407.3 240.6Z" fill="#30698e"/>
<path d="M407.3 102.8L410.3 102.8 414 100.5 418 98.4 422.2 96.3 426.6 94.5 431.3 92.7 436.3 91.2 441.5 89.8 447 88.8 452.7 88 458.6 87.5 464.8 87.3 471.1 87.5 477.6 88.1 484.3 89 491.1 90.4 498 92.2 505 94.5 511.9 97.4 518.7 100.8 525.4 104.7 531.8 109.3 537.9 114.3 543.6 120 548.8 126.2 553.3 132.8 557.2 139.9 560.3 147.4 562.6 155.1 563.9 163.1 564.4 171.1 563.9 179.1 562.6 187.1 560.3 194.8 557.2 202.3 553.3 209.4 548.8 216 543.6 222.2 537.9 227.8 531.8 232.9 525.4 237.5 518.7 241.4 511.9 244.8 505 247.6 498 250 491.1 251.8 484.3 253.2 477.6 254.1 471.1 254.7 464.8 254.9 458.6 254.7 452.7 254.2 447 253.4 441.5 252.3 436.3 251 431.3 249.5 426.6 247.7 422.2 245.8 418 243.8 414 241.7 410.3 239.4 407.3 239.4Z" fill="#2f6b8e"/>
<path d="M407.3 103.8L410.3 103.8 413.9 101.7 417.8 99.6 422 97.6 426.3 95.8 431 94.1 435.8 92.6 440.9 91.4 446.3 90.3 451.9 89.6 457.7 89.1 463.7 89 469.9 89.2 476.3 89.7 482.8 90.7 489.5 92 496.2 93.9 503 96.1 509.7 98.9 516.4 102.3 522.9 106.2 529.2 110.6 535.2 115.6 540.7 121.1 545.8 127.1 550.2 133.7 554 140.6 557 147.9 559.2 155.5 560.6 163.2 561 171.1 560.6 179 559.2 186.7 557 194.3 554 201.6 550.2 208.5 545.8 215 540.7 221.1 535.2 226.6 529.2 231.6 522.9 236 516.4 239.9 509.7 243.2 503 246 496.2 248.3 489.5 250.1 482.8 251.5 476.3 252.4 469.9 253 463.7 253.2 457.7 253.1 451.9 252.6 446.3 251.9 440.9 250.8 435.8 249.5 431 248.1 426.3 246.4 422 244.6 417.8 242.6 413.9 240.5 410.3 238.3 407.3 238.3Z" fill="#2e6e8e"/>
<path d="M407.3 104.9L410.3 104.9 413.9 102.8 417.7 100.8 421.8 98.9 426 97.1 430.6 95.5 435.4 94.1 440.4 92.9 445.6 91.9 451.1 91.2 456.8 90.7 462.6 90.6 468.7 90.9 474.9 91.4 481.3 92.4 487.8 93.7 494.4 95.5 501 97.7 507.6 100.5 514.1 103.8 520.5 107.6 526.6 111.9 532.4 116.8 537.8 122.2 542.8 128.1 547.1 134.5 550.8 141.3 553.7 148.4 555.9 155.8 557.2 163.4 557.6 171.1 557.2 178.8 555.9 186.4 553.7 193.8 550.8 200.9 547.1 207.7 542.8 214.1 537.8 220 532.4 225.4 526.6 230.3 520.5 234.6 514.1 238.4 507.6 241.7 501 244.4 494.4 246.7 487.8 248.5 481.3 249.8 474.9 250.8 468.7 251.3 462.6 251.5 456.8 251.4 451.1 251 445.6 250.3 440.4 249.3 435.4 248.1 430.6 246.7 426 245.1 421.8 243.3 417.7 241.4 413.9 239.4 410.3 237.3 407.3 237.3Z" fill="#2d708e"/>
<path d="M407.3 106L410.3 106 413.8 103.9 417.6 102 421.6 100.2 425.8 98.5 430.2 96.9 434.9 95.5 439.8 94.4 444.9 93.4 450.3 92.8 455.8 92.4 461.6 92.3 467.5 92.5 473.6 93.1 479.8 94 486.1 95.4 492.6 97.1 499 99.3 505.5 102 511.8 105.2 518 109 524 113.2 529.7 118 535 123.3 539.8 129.1 544 135.3 547.6 141.9 550.5 148.9 552.6 156.2 553.9 163.6 554.3 171.1 553.9 178.6 552.6 186 550.5 193.3 547.6 200.2 544 206.9 539.8 213.1 535 218.9 529.7 224.2 524 229 518 233.2 511.8 236.9 505.5 240.1 499 242.8 492.6 245.1 486.1 246.8 479.8 248.2 473.6 249.1 467.5 249.7 461.6 249.9 455.8 249.8 450.3 249.4 444.9 248.8 439.8 247.8 434.9 246.6 430.2 245.3 425.8 243.7 421.6 242 417.6 240.2 413.8 238.2 410.3 236.2 407.3 236.2Z" fill="#2c728e"/>
<path d="M407.3 107L410.3 107 413.8 105.1 417.4 103.2 421.4 101.4 425.5 99.8 429.8 98.3 434.4 97 439.2 95.9 444.2 95 449.5 94.3 454.9 94 460.5 93.9 466.3 94.2 472.2 94.7 478.3 95.7 484.5 97 490.8 98.7 497.1 100.9 503.4 103.6 509.6 106.7 515.6 110.4 521.5 114.5 527 119.2 532.2 124.4 536.8 130 541 136.1 544.5 142.6 547.3 149.4 549.3 156.5 550.6 163.8 551 171.1 550.6 178.4 549.3 185.7 547.3 192.8 544.5 199.6 541 206.1 536.8 212.1 532.2 217.8 527 223 521.5 227.7 515.6 231.8 509.6 235.5 503.4 238.6 497.1 241.3 490.8 243.5 484.5 245.2 478.3 246.5 472.2 247.5 466.3 248 460.5 248.3 454.9 248.2 449.5 247.9 444.2 247.2 439.2 246.3 434.4 245.2 429.8 243.9 425.5 242.4 421.4 240.8 417.4 239 413.8 237.1 410.3 235.2 407.3 235.2Z" fill="#2b748e"/>
<path d="M407.3 108.1L410.3 108.1 413.7 106.2 417.3 104.3 421.2 102.6 425.2 101.1 429.5 99.6 434 98.4 438.7 97.3 443.6 96.5 448.7 95.9 454 95.6 459.4 95.5 465.1 95.8 470.9 96.4 476.8 97.3 482.9 98.6 489 100.3 495.2 102.5 501.3 105.1 507.3 108.2 513.2 111.7 518.9 115.8 524.3 120.4 529.3 125.5 533.9 131 537.9 136.9 541.3 143.3 544.1 149.9 546.1 156.8 547.3 163.9 547.7 171.1 547.3 178.3 546.1 185.3 544.1 192.3 541.3 198.9 537.9 205.2 533.9 211.2 529.3 216.7 524.3 221.8 518.9 226.4 513.2 230.4 507.3 234 501.3 237.1 495.2 239.7 489 241.9 482.9 243.6 476.8 244.9 470.9 245.8 465.1 246.4 459.4 246.7 454 246.6 448.7 246.3 443.6 245.7 438.7 244.9 434 243.8 429.5 242.5 425.2 241.1 421.2 239.5 417.3 237.8 413.7 236 410.3 234.1 407.3 234.1Z" fill="#2a768e"/>
<path d="M407.3 109.1L410.3 109.1 413.7 107.3 417.2 105.5 421 103.9 424.9 102.4 429.1 101 433.5 99.8 438.1 98.8 442.9 98 447.9 97.4 453.1 97.1 458.4 97.1 463.9 97.4 469.6 98 475.4 98.9 481.3 100.2 487.3 101.9 493.3 104 499.2 106.6 505.1 109.6 510.9 113.1 516.4 117.1 521.7 121.6 526.6 126.5 531 131.9 534.9 137.7 538.3 143.9 540.9 150.4 542.9 157.2 544 164.1 544.4 171.1 544 178.1 542.9 185 540.9 191.8 538.3 198.3 534.9 204.4 531 210.3 526.6 215.7 521.7 220.6 516.4 225.1 510.9 229.1 505.1 232.6 499.2 235.6 493.3 238.2 487.3 240.3 481.3 242 475.4 243.3 469.6 244.2 463.9 244.8 458.4 245.1 453.1 245.1 447.9 244.8 442.9 244.2 438.1 243.4 433.5 242.4 429.1 241.2 424.9 239.8 421 238.3 417.2 236.7 413.7 234.9 410.3 233.1 407.3 233.1Z" fill="#29798e"/>
<path d="M407.3 110.1L410.3 110.1 413.6 108.3 417.1 106.7 420.8 105.1 424.7 103.6 428.8 102.3 433 101.2 437.5 100.2 442.2 99.5 447.1 98.9 452.2 98.7 457.4 98.7 462.8 99 468.3 99.6 473.9 100.5 479.7 101.8 485.5 103.5 491.4 105.5 497.2 108.1 502.9 111 508.5 114.5 513.9 118.4 519.1 122.7 523.8 127.6 528.1 132.9 532 138.5 535.2 144.6 537.8 150.9 539.7 157.5 540.8 164.3 541.2 171.1 540.8 177.9 539.7 184.7 537.8 191.3 535.2 197.6 532 203.6 528.1 209.3 523.8 214.6 519.1 219.4 513.9 223.8 508.5 227.7 502.9 231.2 497.2 234.1 491.4 236.6 485.5 238.7 479.7 240.4 473.9 241.7 468.3 242.6 462.8 243.2 457.4 243.5 452.2 243.5 447.1 243.2 442.2 242.7 437.5 242 433 241 428.8 239.9 424.7 238.6 420.8 237.1 417.1 235.5 413.6 233.8 410.3 232.1 407.3 232.1Z" fill="#297b8e"/>
<path d="M407.3 111.1L410.3 111.1 413.5 109.4 417 107.8 420.6 106.3 424.4 104.9 428.4 103.6 432.6 102.6 437 101.6 441.6 100.9 446.3 100.5 451.3 100.2 456.4 100.2 461.6 100.6 467 101.2 472.5 102.1 478.1 103.4 483.8 105 489.5 107 495.2 109.5 500.8 112.4 506.2 115.8 511.5 119.6 516.5 123.9 521.1 128.6 525.3 133.8 529 139.3 532.2 145.2 534.7 151.4 536.6 157.8 537.7 164.4 538 171.1 537.7 177.8 536.6 184.3 534.7 190.8 532.2 197 529 202.9 525.3 208.4 521.1 213.6 516.5 218.3 511.5 222.6 506.2 226.4 500.8 229.8 495.2 232.7 489.5 235.1 483.8 237.2 478.1 238.8 472.5 240.1 467 241 461.6 241.6 456.4 241.9 451.3 242 446.3 241.7 441.6 241.2 437 240.5 432.6 239.6 428.4 238.5 424.4 237.3 420.6 235.9 417 234.4 413.5 232.8 410.3 231.1 407.3 231.1Z" fill="#277e8e"/>
<path d="M407.3 112.1L410.3 112.1 413.5 110.5 416.8 108.9 420.4 107.5 424.1 106.1 428 104.9 432.2 103.9 436.5 103 440.9 102.4 445.6 101.9 450.4 101.7 455.4 101.8 460.5 102.1 465.7 102.7 471.1 103.6 476.6 104.9 482.1 106.5 487.7 108.5 493.2 111 498.6 113.8 503.9 117.1 509.1 120.8 513.9 125 518.4 129.6 522.5 134.7 526.1 140.1 529.2 145.9 531.7 151.9 533.5 158.2 534.5 164.6 534.9 171.1 534.5 177.6 533.5 184 531.7 190.3 529.2 196.3 526.1 202.1 522.5 207.5 518.4 212.5 513.9 217.2 509.1 221.3 503.9 225.1 498.6 228.4 493.2 231.2 487.7 233.6 482.1 235.7 476.6 237.3 471.1 238.5 465.7 239.5 460.5 240.1 455.4 240.4 450.4 240.4 445.6 240.2 440.9 239.8 436.5 239.1 432.2 238.3 428 237.2 424.1 236 420.4 234.7 416.8 233.3 413.5 231.7 410.3 230.1 407.3 230.1Z" fill="#27808e"/>
<path d="M407.3 113.1L410.3 113.1 413.4 111.5 416.7 110 420.2 108.6 423.9 107.4 427.7 106.2 431.7 105.2 435.9 104.4 440.3 103.8 444.8 103.4 449.5 103.2 454.4 103.3 459.4 103.6 464.5 104.3 469.7 105.2 475.1 106.4 480.4 108 485.8 110 491.2 112.4 496.5 115.2 501.7 118.4 506.7 122.1 511.4 126.1 515.8 130.7 519.8 135.6 523.3 140.9 526.3 146.5 528.6 152.4 530.4 158.5 531.5 164.8 531.8 171.1 531.5 177.4 530.4 183.7 528.6 189.8 526.3 195.7 523.3 201.3 519.8 206.6 515.8 211.5 511.4 216 506.7 220.1 501.7 223.8 496.5 227 491.2 229.8 485.8 232.2 480.4 234.2 475.1 235.8 469.7 237 464.5 237.9 459.4 238.5 454.4 238.9 449.5 238.9 444.8 238.8 440.3 238.4 435.9 237.7 431.7 236.9 427.7 236 423.9 234.8 420.2 233.6 416.7 232.2 413.4 230.7 410.3 229.1 407.3 229.1Z" fill="#26828e"/>
<path d="M407.3 114.1L410.3 114.1 413.4 112.5 416.6 111.1 420 109.8 423.6 108.6 427.4 107.5 431.3 106.6 435.4 105.8 439.7 105.2 444.1 104.9 448.7 104.7 453.4 104.8 458.3 105.2 463.3 105.8 468.4 106.7 473.5 107.9 478.8 109.5 484 111.5 489.3 113.8 494.4 116.5 499.5 119.7 504.3 123.3 508.9 127.3 513.2 131.7 517 136.5 520.5 141.6 523.4 147.1 525.7 152.8 527.4 158.8 528.4 164.9 528.8 171.1 528.4 177.3 527.4 183.4 525.7 189.3 523.4 195.1 520.5 200.6 517 205.7 513.2 210.5 508.9 214.9 504.3 218.9 499.5 222.5 494.4 225.7 489.3 228.4 484 230.7 478.8 232.7 473.5 234.3 468.4 235.5 463.3 236.4 458.3 237 453.4 237.4 448.7 237.5 444.1 237.3 439.7 237 435.4 236.4 431.3 235.6 427.4 234.7 423.6 233.6 420 232.4 416.6 231.1 413.4 229.6 410.3 228.1 407.3 228.1Z" fill="#25848e"/>
<path d="M407.3 115L410.3 115 413.3 113.6 416.5 112.2 419.8 110.9 423.4 109.8 427 108.7 430.9 107.9 434.9 107.2 439 106.6 443.4 106.3 447.8 106.2 452.4 106.3 457.2 106.7 462 107.3 467 108.2 472.1 109.4 477.2 111 482.3 112.9 487.4 115.2 492.4 117.9 497.3 121 502 124.4 506.4 128.3 510.6 132.7 514.4 137.3 517.7 142.4 520.5 147.7 522.8 153.3 524.4 159.1 525.4 165.1 525.7 171.1 525.4 177.1 524.4 183.1 522.8 188.9 520.5 194.5 517.7 199.8 514.4 204.9 510.6 209.5 506.4 213.8 502 217.7 497.3 221.2 492.4 224.3 487.4 227 482.3 229.3 477.2 231.2 472.1 232.8 467 234 462 234.9 457.2 235.5 452.4 235.9 447.8 236 443.4 235.9 439 235.6 434.9 235 430.9 234.3 427 233.4 423.4 232.4 419.8 231.3 416.5 230 413.3 228.6 410.3 227.2 407.3 227.2Z" fill="#24868e"/>
<path d="M407.3 116L410.3 116 413.3 114.6 416.4 113.2 419.7 112 423.1 110.9 426.7 110 430.5 109.2 434.4 108.5 438.4 108 442.6 107.7 447 107.6 451.5 107.8 456.1 108.1 460.8 108.8 465.7 109.7 470.6 110.9 475.6 112.4 480.5 114.3 485.5 116.6 490.3 119.2 495.1 122.2 499.7 125.6 504 129.4 508 133.6 511.7 138.2 514.9 143.1 517.7 148.3 519.9 153.8 521.5 159.4 522.4 165.2 522.8 171.1 522.4 177 521.5 182.8 519.9 188.4 517.7 193.9 514.9 199.1 511.7 204 508 208.6 504 212.8 499.7 216.6 495.1 220 490.3 223 485.5 225.6 480.5 227.9 475.6 229.8 470.6 231.3 465.7 232.5 460.8 233.4 456.1 234.1 451.5 234.4 447 234.6 442.6 234.5 438.4 234.2 434.4 233.7 430.5 233 426.7 232.2 423.1 231.2 419.7 230.1 416.4 228.9 413.3 227.6 410.3 226.2 407.3 226.2Z" fill="#23898e"/>
<path d="M407.3 116.9L410.3 116.9 413.2 115.5 416.3 114.3 419.5 113.1 422.9 112.1 426.4 111.2 430 110.4 433.9 109.8 437.8 109.3 441.9 109.1 446.2 109 450.6 109.2 455.1 109.6 459.7 110.2 464.4 111.1 469.1 112.3 474 113.8 478.8 115.7 483.6 117.9 488.4 120.5 493 123.4 497.4 126.8 501.6 130.5 505.5 134.6 509.1 139 512.2 143.8 514.9 148.9 517 154.2 518.6 159.7 519.5 165.4 519.8 171.1 519.5 176.8 518.6 182.5 517 188 514.9 193.3 512.2 198.4 509.1 203.1 505.5 207.6 501.6 211.7 497.4 215.4 493 218.8 488.4 221.7 483.6 224.3 478.8 226.5 474 228.3 469.1 229.9 464.4 231.1 459.7 232 455.1 232.6 450.6 233 446.2 233.2 441.9 233.1 437.8 232.8 433.9 232.4 430 231.8 426.4 231 422.9 230.1 419.5 229 416.3 227.9 413.2 226.6 410.3 225.3 407.3 225.3Z" fill="#228b8d"/>
<path d="M407.3 117.7L410.3 117.7 413.2 116.5 416.2 115.3 419.3 114.2 422.6 113.2 426.1 112.3 429.6 111.6 433.4 111.1 437.2 110.7 441.2 110.4 445.4 110.4 449.6 110.6 454 111 458.5 111.7 463.1 112.6 467.7 113.8 472.4 115.3 477.1 117.1 481.8 119.2 486.4 121.8 490.8 124.7 495.2 127.9 499.3 131.5 503.1 135.5 506.5 139.9 509.6 144.5 512.2 149.5 514.2 154.7 515.8 160 516.7 165.5 517 171.1 516.7 176.7 515.8 182.2 514.2 187.5 512.2 192.7 509.6 197.7 506.5 202.3 503.1 206.7 499.3 210.6 495.2 214.3 490.8 217.5 486.4 220.4 481.8 222.9 477.1 225.1 472.4 226.9 467.7 228.4 463.1 229.6 458.5 230.5 454 231.2 449.6 231.6 445.4 231.8 441.2 231.7 437.2 231.5 433.4 231.1 429.6 230.6 426.1 229.8 422.6 229 419.3 228 416.2 226.9 413.2 225.7 410.3 224.4 407.3 224.4Z" fill="#218e8d"/>
<path d="M407.3 118.6L410.3 118.6 413.1 117.4 416.1 116.2 419.2 115.2 422.4 114.3 425.8 113.5 429.3 112.8 432.9 112.3 436.7 112 440.6 111.8 444.6 111.8 448.7 112 453 112.4 457.3 113.1 461.8 114 466.3 115.2 470.8 116.7 475.4 118.5 479.9 120.6 484.4 123 488.8 125.9 493 129 496.9 132.6 500.6 136.5 504 140.7 507 145.2 509.5 150 511.5 155.1 513 160.3 513.9 165.7 514.2 171.1 513.9 176.5 513 181.9 511.5 187.1 509.5 192.1 507 197 504 201.5 500.6 205.7 496.9 209.6 493 213.1 488.8 216.3 484.4 219.1 479.9 221.6 475.4 223.7 470.8 225.5 466.3 227 461.8 228.2 457.3 229.1 453 229.8 448.7 230.2 444.6 230.4 440.6 230.4 436.7 230.2 432.9 229.9 429.3 229.4 425.8 228.7 422.4 227.9 419.2 227 416.1 225.9 413.1 224.8 410.3 223.6 407.3 223.6Z" fill="#21908d"/>
<path d="M407.3 119.4L410.3 119.4 413.1 118.3 416 117.2 419 116.2 422.2 115.3 425.5 114.6 428.9 114 432.4 113.5 436.1 113.2 439.9 113.1 443.8 113.1 447.8 113.4 452 113.8 456.2 114.5 460.5 115.4 464.9 116.6 469.3 118 473.7 119.8 478.1 121.9 482.5 124.3 486.7 127 490.8 130.1 494.6 133.6 498.2 137.4 501.5 141.5 504.4 145.9 506.8 150.6 508.8 155.5 510.2 160.6 511.1 165.8 511.4 171.1 511.1 176.4 510.2 181.6 508.8 186.7 506.8 191.6 504.4 196.3 501.5 200.7 498.2 204.8 494.6 208.6 490.8 212 486.7 215.1 482.5 217.9 478.1 220.3 473.7 222.4 469.3 224.1 464.9 225.6 460.5 226.8 456.2 227.7 452 228.4 447.8 228.8 443.8 229 439.9 229.1 436.1 229 432.4 228.6 428.9 228.2 425.5 227.6 422.2 226.8 419 226 416 225 413.1 223.9 410.3 222.7 407.3 222.7Z" fill="#20928c"/>
<path d="M407.3 120.3L410.3 120.3 413 119.2 415.9 118.1 418.8 117.2 421.9 116.4 425.2 115.7 428.5 115.2 432 114.8 435.5 114.5 439.2 114.4 443 114.5 446.9 114.7 451 115.2 455.1 115.9 459.3 116.8 463.5 118 467.8 119.4 472.1 121.1 476.4 123.2 480.6 125.5 484.7 128.2 488.6 131.2 492.4 134.6 495.9 138.3 499.1 142.3 501.9 146.6 504.2 151.2 506.1 155.9 507.5 160.9 508.4 166 508.7 171.1 508.4 176.2 507.5 181.3 506.1 186.3 504.2 191 501.9 195.6 499.1 199.9 495.9 203.9 492.4 207.6 488.6 211 484.7 214 480.6 216.7 476.4 219 472.1 221.1 467.8 222.8 463.5 224.2 459.3 225.4 455.1 226.3 451 227 446.9 227.4 443 227.7 439.2 227.8 435.5 227.7 432 227.4 428.5 227 425.2 226.5 421.9 225.8 418.8 225 415.9 224.1 413 223 410.3 221.9 407.3 221.9Z" fill="#1f948c"/>
<path d="M407.3 121.1L410.3 121.1 413 120 415.8 119.1 418.7 118.2 421.7 117.4 424.9 116.8 428.1 116.3 431.5 115.9 435 115.7 438.6 115.7 442.3 115.8 446.1 116.1 450 116.5 454 117.2 458 118.2 462.2 119.3 466.3 120.7 470.5 122.4 474.6 124.4 478.7 126.7 482.7 129.4 486.5 132.3 490.2 135.6 493.6 139.2 496.6 143.1 499.4 147.3 501.7 151.7 503.5 156.3 504.9 161.2 505.7 166.1 506 171.1 505.7 176.1 504.9 181 503.5 185.8 501.7 190.5 499.4 194.9 496.6 199.1 493.6 203 490.2 206.6 486.5 209.9 482.7 212.8 478.7 215.5 474.6 217.8 470.5 219.8 466.3 221.5 462.2 222.9 458 224 454 224.9 450 225.6 446.1 226.1 442.3 226.4 438.6 226.5 435 226.5 431.5 226.2 428.1 225.9 424.9 225.4 421.7 224.8 418.7 224 415.8 223.1 413 222.2 410.3 221.1 407.3 221.1Z" fill="#1f968b"/>
<path d="M407.3 121.9L410.3 121.9 412.9 120.9 415.7 120 418.5 119.1 421.5 118.4 424.6 117.9 427.8 117.4 431 117.1 434.4 116.9 437.9 116.9 441.5 117.1 445.2 117.4 449 117.9 452.9 118.6 456.8 119.5 460.8 120.6 464.8 122 468.9 123.7 472.9 125.7 476.9 127.9 480.7 130.5 484.4 133.4 488 136.6 491.3 140.1 494.3 143.8 496.9 147.9 499.2 152.2 501 156.8 502.3 161.4 503.1 166.2 503.4 171.1 503.1 175.9 502.3 180.7 501 185.4 499.2 190 496.9 194.3 494.3 198.3 491.3 202.1 488 205.6 484.4 208.8 480.7 211.7 476.9 214.3 472.9 216.5 468.9 218.5 464.8 220.1 460.8 221.5 456.8 222.7 452.9 223.6 449 224.3 445.2 224.8 441.5 225.1 437.9 225.3 434.4 225.2 431 225.1 427.8 224.8 424.6 224.3 421.5 223.7 418.5 223 415.7 222.2 412.9 221.3 410.3 220.3 407.3 220.3Z" fill="#1f998a"/>
<path d="M407.3 122.7L410.3 122.7 412.9 121.7 415.6 120.9 418.4 120.1 421.3 119.4 424.3 118.9 427.4 118.5 430.6 118.3 433.9 118.1 437.3 118.2 440.8 118.3 444.4 118.7 448.1 119.2 451.8 119.9 455.6 120.8 459.5 122 463.4 123.3 467.3 125 471.2 126.9 475.1 129.1 478.8 131.6 482.4 134.4 485.8 137.5 489 140.9 491.9 144.6 494.5 148.6 496.7 152.8 498.4 157.2 499.7 161.7 500.5 166.4 500.8 171.1 500.5 175.8 499.7 180.5 498.4 185 496.7 189.4 494.5 193.6 491.9 197.6 489 201.3 485.8 204.7 482.4 207.8 478.8 210.6 475.1 213.1 471.2 215.3 467.3 217.2 463.4 218.8 459.5 220.2 455.6 221.4 451.8 222.3 448.1 223 444.4 223.5 440.8 223.8 437.3 224 433.9 224 430.6 223.9 427.4 223.7 424.3 223.3 421.3 222.7 418.4 222.1 415.6 221.3 412.9 220.5 410.3 219.5 407.3 219.5Z" fill="#1e9b8a"/>
<path d="M407.3 123.5L410.3 123.5 412.8 122.6 415.5 121.7 418.2 121 421.1 120.4 424 120 427 119.6 430.2 119.4 433.4 119.3 436.7 119.4 440.1 119.6 443.6 119.9 447.1 120.5 450.8 121.2 454.5 122.1 458.2 123.2 462 124.6 465.8 126.2 469.6 128.1 473.3 130.3 476.9 132.7 480.4 135.4 483.7 138.5 486.8 141.8 489.6 145.4 492.1 149.2 494.2 153.3 495.9 157.5 497.2 162 497.9 166.5 498.2 171.1 497.9 175.7 497.2 180.2 495.9 184.6 494.2 188.9 492.1 193 489.6 196.8 486.8 200.4 483.7 203.7 480.4 206.8 476.9 209.5 473.3 211.9 469.6 214.1 465.8 216 462 217.6 458.2 218.9 454.5 220.1 450.8 221 447.1 221.7 443.6 222.2 440.1 222.6 436.7 222.8 433.4 222.9 430.2 222.8 427 222.6 424 222.2 421.1 221.8 418.2 221.2 415.5 220.5 412.8 219.6 410.3 218.7 407.3 218.7Z" fill="#1f9e89"/>
<path d="M407.3 124.2L410.3 124.2 412.8 123.4 415.4 122.6 418.1 121.9 420.9 121.4 423.7 121 426.7 120.7 429.7 120.5 432.9 120.5 436.1 120.6 439.4 120.8 442.7 121.2 446.2 121.7 449.7 122.5 453.3 123.4 456.9 124.5 460.6 125.9 464.3 127.4 467.9 129.3 471.5 131.4 475 133.8 478.4 136.4 481.6 139.4 484.6 142.6 487.4 146.1 489.8 149.8 491.8 153.8 493.5 157.9 494.7 162.2 495.4 166.6 495.7 171.1 495.4 175.5 494.7 179.9 493.5 184.2 491.8 188.4 489.8 192.4 487.4 196.1 484.6 199.6 481.6 202.8 478.4 205.7 475 208.4 471.5 210.8 467.9 212.9 464.3 214.7 460.6 216.3 456.9 217.7 453.3 218.8 449.7 219.7 446.2 220.4 442.7 221 439.4 221.4 436.1 221.6 432.9 221.7 429.7 221.7 426.7 221.5 423.7 221.2 420.9 220.8 418.1 220.2 415.4 219.6 412.8 218.8 410.3 217.9 407.3 217.9Z" fill="#1fa088"/>
<path d="M407.3 125L410.3 125 412.8 124.2 415.3 123.4 418 122.8 420.7 122.3 423.5 122 426.4 121.7 429.3 121.6 432.4 121.6 435.5 121.8 438.7 122 441.9 122.4 445.3 123 448.7 123.7 452.2 124.6 455.7 125.8 459.2 127.1 462.8 128.7 466.3 130.5 469.8 132.5 473.2 134.8 476.5 137.4 479.6 140.3 482.5 143.4 485.1 146.8 487.5 150.4 489.5 154.3 491.1 158.3 492.2 162.5 493 166.8 493.2 171.1 493 175.4 492.2 179.7 491.1 183.9 489.5 187.9 487.5 191.7 485.1 195.4 482.5 198.8 479.6 201.9 476.5 204.8 473.2 207.3 469.8 209.7 466.3 211.7 462.8 213.5 459.2 215.1 455.7 216.4 452.2 217.5 448.7 218.5 445.3 219.2 441.9 219.8 438.7 220.2 435.5 220.4 432.4 220.6 429.3 220.6 426.4 220.4 423.5 220.2 420.7 219.8 418 219.3 415.3 218.7 412.8 218 410.3 217.2 407.3 217.2Z" fill="#1fa187"/>
<path d="M407.3 125.7L410.3 125.7 412.7 125 415.2 124.3 417.8 123.7 420.5 123.3 423.2 123 426 122.8 428.9 122.7 431.9 122.8 434.9 122.9 438 123.2 441.2 123.6 444.4 124.2 447.7 125 451.1 125.9 454.5 127 457.9 128.3 461.3 129.8 464.7 131.6 468.1 133.6 471.4 135.9 474.5 138.4 477.6 141.2 480.4 144.2 482.9 147.5 485.2 151 487.1 154.8 488.7 158.7 489.8 162.7 490.5 166.9 490.8 171.1 490.5 175.3 489.8 179.4 488.7 183.5 487.1 187.4 485.2 191.1 482.9 194.7 480.4 198 477.6 201 474.5 203.8 471.4 206.3 468.1 208.6 464.7 210.6 461.3 212.3 457.9 213.9 454.5 215.2 451.1 216.3 447.7 217.2 444.4 218 441.2 218.5 438 219 434.9 219.3 431.9 219.4 428.9 219.5 426 219.4 423.2 219.2 420.5 218.9 417.8 218.5 415.2 217.9 412.7 217.2 410.3 216.4 407.3 216.4Z" fill="#20a486"/>
<path d="M407.3 126.5L410.3 126.5 412.7 125.7 415.1 125.1 417.7 124.6 420.3 124.2 423 123.9 425.7 123.8 428.5 123.8 431.4 123.9 434.3 124.1 437.3 124.4 440.4 124.8 443.5 125.4 446.7 126.2 450 127.1 453.2 128.2 456.6 129.5 459.9 131 463.2 132.7 466.4 134.7 469.6 136.9 472.7 139.4 475.6 142.1 478.3 145 480.8 148.2 483 151.6 484.9 155.3 486.4 159.1 487.5 163 488.1 167 488.4 171.1 488.1 175.2 487.5 179.2 486.4 183.1 484.9 186.9 483 190.5 480.8 194 478.3 197.2 475.6 200.1 472.7 202.8 469.6 205.3 466.4 207.5 463.2 209.4 459.9 211.2 456.6 212.7 453.2 214 450 215.1 446.7 216 443.5 216.8 440.4 217.3 437.3 217.8 434.3 218.1 431.4 218.3 428.5 218.4 425.7 218.4 423 218.3 420.3 218 417.7 217.6 415.1 217.1 412.7 216.4 410.3 215.7 407.3 215.7Z" fill="#21a685"/>
<path d="M407.3 127.2L410.3 127.2 412.6 126.5 415.1 125.9 417.5 125.5 420.1 125.1 422.7 124.9 425.4 124.8 428.1 124.8 430.9 125 433.7 125.2 436.6 125.5 439.6 126 442.7 126.6 445.7 127.4 448.9 128.3 452.1 129.4 455.2 130.7 458.4 132.2 461.6 133.9 464.8 135.8 467.8 137.9 470.8 140.3 473.6 142.9 476.3 145.8 478.7 148.9 480.8 152.2 482.6 155.7 484.1 159.4 485.1 163.2 485.8 167.1 486 171.1 485.8 175 485.1 178.9 484.1 182.8 482.6 186.4 480.8 190 478.7 193.3 476.3 196.4 473.6 199.2 470.8 201.9 467.8 204.3 464.8 206.4 461.6 208.3 458.4 210 455.2 211.5 452.1 212.8 448.9 213.9 445.7 214.8 442.7 215.6 439.6 216.2 436.6 216.7 433.7 217 430.9 217.2 428.1 217.4 425.4 217.4 422.7 217.3 420.1 217.1 417.5 216.7 415.1 216.3 412.6 215.7 410.3 215 407.3 215Z" fill="#23a983"/>
<path d="M407.3 127.9L410.3 127.9 412.6 127.3 415 126.7 417.4 126.3 419.9 126 422.4 125.8 425 125.8 427.7 125.9 430.4 126 433.2 126.3 436 126.7 438.9 127.2 441.8 127.8 444.8 128.6 447.8 129.5 450.9 130.6 454 131.8 457.1 133.3 460.1 134.9 463.2 136.8 466.1 138.9 469 141.2 471.7 143.8 474.2 146.6 476.6 149.6 478.6 152.8 480.4 156.2 481.8 159.8 482.8 163.5 483.4 167.3 483.6 171.1 483.4 174.9 482.8 178.7 481.8 182.4 480.4 186 478.6 189.4 476.6 192.6 474.2 195.6 471.7 198.4 469 200.9 466.1 203.3 463.2 205.4 460.1 207.2 457.1 208.9 454 210.4 450.9 211.6 447.8 212.7 444.8 213.6 441.8 214.4 438.9 215 436 215.5 433.2 215.9 430.4 216.2 427.7 216.3 425 216.4 422.4 216.3 419.9 216.2 417.4 215.9 415 215.4 412.6 214.9 410.3 214.3 407.3 214.3Z" fill="#25ab82"/>
<path d="M407.3 128.6L410.3 128.6 412.6 128.1 414.9 127.6 417.3 127.2 419.7 126.9 422.2 126.8 424.7 126.8 427.3 126.9 429.9 127.1 432.6 127.4 435.4 127.7 438.2 128.3 441 128.9 443.9 129.7 446.8 130.6 449.8 131.7 452.7 132.9 455.7 134.4 458.7 136 461.6 137.8 464.4 139.9 467.2 142.2 469.8 144.6 472.2 147.4 474.4 150.3 476.4 153.4 478.1 156.7 479.4 160.2 480.4 163.7 481 167.4 481.2 171.1 481 174.8 480.4 178.5 479.4 182 478.1 185.5 476.4 188.8 474.4 191.9 472.2 194.8 469.8 197.5 467.2 200 464.4 202.3 461.6 204.4 458.7 206.2 455.7 207.8 452.7 209.3 449.8 210.5 446.8 211.6 443.9 212.5 441 213.3 438.2 213.9 435.4 214.4 432.6 214.8 429.9 215.1 427.3 215.3 424.7 215.4 422.2 215.4 419.7 215.2 417.3 215 414.9 214.6 412.6 214.1 410.3 213.5 407.3 213.5Z" fill="#27ad81"/>
<path d="M407.3 129.4L410.3 129.4 412.5 128.8 414.8 128.4 417.1 128.1 419.5 127.9 421.9 127.8 424.4 127.8 426.9 127.9 429.5 128.1 432.1 128.4 434.7 128.8 437.5 129.3 440.2 130 443 130.8 445.8 131.7 448.7 132.8 451.5 134 454.4 135.4 457.2 137 460 138.8 462.8 140.8 465.4 143.1 467.9 145.5 470.2 148.1 472.4 151 474.2 154 475.9 157.2 477.1 160.5 478.1 164 478.7 167.5 478.8 171.1 478.7 174.7 478.1 178.2 477.1 181.7 475.9 185 474.2 188.2 472.4 191.2 470.2 194.1 467.9 196.7 465.4 199.1 462.8 201.3 460 203.4 457.2 205.2 454.4 206.8 451.5 208.2 448.7 209.4 445.8 210.5 443 211.4 440.2 212.2 437.5 212.8 434.7 213.4 432.1 213.8 429.5 214.1 426.9 214.3 424.4 214.4 421.9 214.4 419.5 214.3 417.1 214.1 414.8 213.8 412.5 213.3 410.3 212.8 407.3 212.8Z" fill="#29af7f"/>
<path d="M407.3 130.1L410.3 130.1 412.5 129.6 414.7 129.2 417 129 419.3 128.8 421.7 128.7 424.1 128.7 426.5 128.9 429 129.1 431.6 129.4 434.1 129.9 436.8 130.4 439.4 131.1 442.1 131.9 444.8 132.8 447.6 133.8 450.4 135.1 453.1 136.5 455.8 138.1 458.5 139.8 461.1 141.8 463.7 143.9 466.1 146.3 468.3 148.9 470.3 151.6 472.1 154.6 473.6 157.6 474.9 160.9 475.8 164.2 476.3 167.6 476.5 171.1 476.3 174.5 475.8 178 474.9 181.3 473.6 184.5 472.1 187.6 470.3 190.6 468.3 193.3 466.1 195.9 463.7 198.2 461.1 200.4 458.5 202.4 455.8 204.1 453.1 205.7 450.4 207.1 447.6 208.3 444.8 209.4 442.1 210.3 439.4 211.1 436.8 211.8 434.1 212.3 431.6 212.7 429 213.1 426.5 213.3 424.1 213.4 421.7 213.5 419.3 213.4 417 213.2 414.7 212.9 412.5 212.6 410.3 212.1 407.3 212.1Z" fill="#2cb17e"/>
<path d="M407.3 130.8L410.3 130.8 412.4 130.4 414.6 130 416.8 129.8 419.1 129.7 421.4 129.6 423.8 129.7 426.1 129.9 428.6 130.1 431 130.5 433.5 130.9 436.1 131.5 438.6 132.1 441.3 132.9 443.9 133.8 446.5 134.9 449.2 136.1 451.8 137.5 454.5 139.1 457 140.8 459.5 142.7 461.9 144.8 464.2 147.1 466.4 149.6 468.3 152.3 470 155.1 471.5 158.1 472.6 161.2 473.5 164.5 474 167.8 474.2 171.1 474 174.4 473.5 177.7 472.6 181 471.5 184.1 470 187.1 468.3 189.9 466.4 192.6 464.2 195.1 461.9 197.4 459.5 199.5 457 201.4 454.5 203.1 451.8 204.7 449.2 206.1 446.5 207.3 443.9 208.3 441.3 209.3 438.6 210.1 436.1 210.7 433.5 211.3 431 211.7 428.6 212.1 426.1 212.3 423.8 212.5 421.4 212.6 419.1 212.5 416.8 212.4 414.6 212.1 412.4 211.8 410.3 211.4 407.3 211.4Z" fill="#2fb47c"/>
<path d="M407.3 131.5L410.3 131.5 412.4 131.1 414.5 130.8 416.7 130.6 418.9 130.5 421.2 130.5 423.5 130.6 425.8 130.8 428.1 131.1 430.5 131.5 432.9 131.9 435.4 132.5 437.9 133.2 440.4 134 442.9 134.9 445.5 136 448 137.2 450.6 138.5 453.1 140 455.6 141.7 458 143.6 460.3 145.7 462.4 147.9 464.5 150.3 466.3 152.9 468 155.7 469.3 158.6 470.5 161.6 471.3 164.7 471.8 167.9 471.9 171.1 471.8 174.3 471.3 177.5 470.5 180.6 469.3 183.6 468 186.5 466.3 189.3 464.5 191.9 462.4 194.3 460.3 196.5 458 198.6 455.6 200.4 453.1 202.1 450.6 203.7 448 205 445.5 206.2 442.9 207.3 440.4 208.2 437.9 209 435.4 209.7 432.9 210.3 430.5 210.7 428.1 211.1 425.8 211.4 423.5 211.6 421.2 211.7 418.9 211.6 416.7 211.5 414.5 211.3 412.4 211.1 410.3 210.7 407.3 210.7Z" fill="#32b67a"/>
<path d="M407.3 132.2L410.3 132.2 412.4 131.9 414.5 131.6 416.6 131.5 418.7 131.4 420.9 131.4 423.2 131.6 425.4 131.8 427.7 132.1 430 132.5 432.4 132.9 434.7 133.5 437.1 134.2 439.6 135 442 135.9 444.5 137 446.9 138.2 449.3 139.5 451.7 141 454.1 142.7 456.4 144.5 458.6 146.5 460.7 148.7 462.6 151 464.4 153.5 465.9 156.2 467.2 159 468.3 161.9 469.1 164.9 469.5 168 469.7 171.1 469.5 174.2 469.1 177.3 468.3 180.3 467.2 183.2 465.9 186 464.4 188.6 462.6 191.1 460.7 193.5 458.6 195.7 456.4 197.7 454.1 199.5 451.7 201.2 449.3 202.7 446.9 204 444.5 205.2 442 206.3 439.6 207.2 437.1 208 434.7 208.7 432.4 209.2 430 209.7 427.7 210.1 425.4 210.4 423.2 210.6 420.9 210.8 418.7 210.8 416.6 210.7 414.5 210.6 412.4 210.3 410.3 210 407.3 210Z" fill="#37b878"/>
<path d="M407.3 132.9L410.3 132.9 412.3 132.6 414.4 132.4 416.5 132.3 418.6 132.2 420.7 132.3 422.9 132.5 425.1 132.7 427.3 133 429.5 133.4 431.8 133.9 434.1 134.5 436.4 135.2 438.7 136 441.1 136.9 443.4 138 445.8 139.2 448.1 140.5 450.4 142 452.7 143.6 454.9 145.4 457 147.4 458.9 149.5 460.8 151.7 462.4 154.2 463.9 156.7 465.2 159.4 466.2 162.3 466.9 165.2 467.3 168.1 467.5 171.1 467.3 174.1 466.9 177 466.2 179.9 465.2 182.7 463.9 185.4 462.4 188 460.8 190.4 458.9 192.7 457 194.8 454.9 196.8 452.7 198.6 450.4 200.2 448.1 201.7 445.8 203 443.4 204.2 441.1 205.2 438.7 206.2 436.4 207 434.1 207.7 431.8 208.3 429.5 208.8 427.3 209.2 425.1 209.5 422.9 209.7 420.7 209.9 418.6 209.9 416.5 209.9 414.4 209.8 412.3 209.6 410.3 209.3 407.3 209.3Z" fill="#3aba76"/>
<path d="M407.3 133.5L410.3 133.5 412.3 133.3 414.3 133.2 416.3 133.1 418.4 133.1 420.5 133.2 422.6 133.4 424.7 133.6 426.9 134 429 134.4 431.2 134.9 433.4 135.5 435.7 136.2 437.9 137 440.2 137.9 442.4 139 444.7 140.2 446.9 141.5 449.1 142.9 451.3 144.5 453.3 146.3 455.3 148.2 457.2 150.2 459 152.4 460.5 154.8 461.9 157.3 463.1 159.9 464.1 162.6 464.8 165.4 465.2 168.2 465.3 171.1 465.2 174 464.8 176.8 464.1 179.6 463.1 182.3 461.9 184.9 460.5 187.4 459 189.7 457.2 192 455.3 194 453.3 195.9 451.3 197.7 449.1 199.3 446.9 200.7 444.7 202 442.4 203.2 440.2 204.2 437.9 205.2 435.7 206 433.4 206.7 431.2 207.3 429 207.8 426.9 208.2 424.7 208.6 422.6 208.8 420.5 209 418.4 209.1 416.3 209.1 414.3 209 412.3 208.9 410.3 208.6 407.3 208.6Z" fill="#3fbc73"/>
<path d="M407.3 134.2L410.3 134.2 412.2 134 414.2 133.9 416.2 133.9 418.2 133.9 420.2 134 422.3 134.2 424.4 134.5 426.4 134.9 428.5 135.3 430.7 135.9 432.8 136.5 435 137.2 437.1 138 439.3 138.9 441.5 140 443.6 141.1 445.7 142.4 447.8 143.9 449.9 145.4 451.9 147.1 453.7 149 455.5 151 457.2 153.1 458.7 155.4 460 157.8 461.1 160.3 462 162.9 462.6 165.6 463 168.3 463.2 171.1 463 173.9 462.6 176.6 462 179.3 461.1 181.9 460 184.4 458.7 186.8 457.2 189.1 455.5 191.2 453.7 193.2 451.9 195.1 449.9 196.8 447.8 198.3 445.7 199.8 443.6 201 441.5 202.2 439.3 203.2 437.1 204.2 435 205 432.8 205.7 430.7 206.3 428.5 206.8 426.4 207.3 424.4 207.7 422.3 207.9 420.2 208.1 418.2 208.3 416.2 208.3 414.2 208.3 412.2 208.2 410.3 208 407.3 208Z" fill="#42be71"/>
<path d="M407.3 134.9L410.3 134.9 412.2 134.7 414.1 134.6 416.1 134.6 418 134.7 420 134.9 422 135.1 424 135.4 426 135.8 428.1 136.3 430.1 136.8 432.2 137.4 434.3 138.2 436.3 139 438.4 139.9 440.5 140.9 442.5 142.1 444.6 143.4 446.6 144.8 448.5 146.3 450.4 148 452.2 149.8 453.9 151.7 455.4 153.8 456.8 156 458.1 158.3 459.1 160.7 460 163.2 460.6 165.8 460.9 168.4 461.1 171.1 460.9 173.7 460.6 176.4 460 178.9 459.1 181.5 458.1 183.9 456.8 186.2 455.4 188.4 453.9 190.5 452.2 192.4 450.4 194.2 448.5 195.9 446.6 197.4 444.6 198.8 442.5 200.1 440.5 201.2 438.4 202.3 436.3 203.2 434.3 204 432.2 204.7 430.1 205.4 428.1 205.9 426 206.4 424 206.8 422 207.1 420 207.3 418 207.5 416.1 207.5 414.1 207.5 412.2 207.5 410.3 207.3 407.3 207.3Z" fill="#46c06f"/>
<path d="M407.3 135.5L410.3 135.5 412.2 135.4 414.1 135.4 416 135.4 417.9 135.5 419.8 135.7 421.7 136 423.7 136.3 425.6 136.7 427.6 137.2 429.6 137.7 431.6 138.4 433.6 139.1 435.6 139.9 437.5 140.9 439.5 141.9 441.5 143 443.4 144.3 445.3 145.7 447.2 147.2 448.9 148.8 450.6 150.6 452.2 152.5 453.7 154.5 455 156.6 456.2 158.8 457.2 161.1 458 163.6 458.5 166 458.9 168.5 459 171.1 458.9 173.6 458.5 176.2 458 178.6 457.2 181 456.2 183.4 455 185.6 453.7 187.7 452.2 189.7 450.6 191.6 448.9 193.4 447.2 195 445.3 196.5 443.4 197.9 441.5 199.1 439.5 200.3 437.5 201.3 435.6 202.2 433.6 203.1 431.6 203.8 429.6 204.4 427.6 205 425.6 205.5 423.7 205.9 421.7 206.2 419.8 206.5 417.9 206.7 416 206.8 414.1 206.8 412.2 206.8 410.3 206.7 407.3 206.7Z" fill="#4cc26c"/>
<path d="M407.3 136.1L410.3 136.1 412.1 136.1 414 136.1 415.8 136.2 417.7 136.3 419.6 136.5 421.5 136.8 423.3 137.2 425.2 137.6 427.1 138.1 429 138.7 431 139.3 432.9 140.1 434.8 140.9 436.7 141.8 438.6 142.8 440.5 144 442.3 145.2 444.1 146.6 445.8 148 447.5 149.6 449.1 151.3 450.6 153.2 452 155.1 453.2 157.2 454.3 159.3 455.2 161.6 456 163.9 456.5 166.2 456.8 168.7 456.9 171.1 456.8 173.5 456.5 175.9 456 178.3 455.2 180.6 454.3 182.9 453.2 185 452 187.1 450.6 189 449.1 190.8 447.5 192.5 445.8 194.1 444.1 195.6 442.3 197 440.5 198.2 438.6 199.3 436.7 200.4 434.8 201.3 432.9 202.1 431 202.9 429 203.5 427.1 204.1 425.2 204.6 423.3 205 421.5 205.4 419.6 205.7 417.7 205.9 415.8 206 414 206.1 412.1 206.1 410.3 206.1 407.3 206.1Z" fill="#50c46a"/>
<path d="M407.3 136.7L410.3 136.7 412.1 136.7 413.9 136.8 415.7 136.9 417.5 137.1 419.4 137.3 421.2 137.6 423 138 424.8 138.5 426.7 139 428.5 139.6 430.4 140.2 432.2 141 434 141.8 435.9 142.8 437.7 143.8 439.4 144.9 441.2 146.1 442.9 147.5 444.5 148.9 446.1 150.4 447.6 152.1 449 153.9 450.3 155.8 451.5 157.7 452.5 159.8 453.3 162 454 164.2 454.5 166.5 454.8 168.8 454.9 171.1 454.8 173.4 454.5 175.7 454 178 453.3 180.2 452.5 182.4 451.5 184.5 450.3 186.4 449 188.3 447.6 190.1 446.1 191.7 444.5 193.3 442.9 194.7 441.2 196.1 439.4 197.3 437.7 198.4 435.9 199.4 434 200.4 432.2 201.2 430.4 201.9 428.5 202.6 426.7 203.2 424.8 203.7 423 204.2 421.2 204.5 419.4 204.8 417.5 205.1 415.7 205.3 413.9 205.4 412.1 205.4 410.3 205.4 407.3 205.4Z" fill="#56c667"/>
<path d="M407.3 137.4L410.3 137.4 412.1 137.5 413.8 137.6 415.6 137.7 417.4 137.9 419.1 138.2 420.9 138.5 422.7 138.9 424.4 139.4 426.2 139.9 428 140.5 429.7 141.2 431.5 141.9 433.3 142.8 435 143.7 436.7 144.7 438.4 145.8 440.1 147 441.7 148.3 443.2 149.7 444.7 151.3 446.1 152.9 447.4 154.6 448.7 156.4 449.7 158.3 450.7 160.3 451.5 162.3 452.1 164.5 452.6 166.7 452.9 168.9 453 171.1 452.9 173.3 452.6 175.5 452.1 177.7 451.5 179.8 450.7 181.9 449.7 183.9 448.7 185.8 447.4 187.6 446.1 189.3 444.7 190.9 443.2 192.4 441.7 193.8 440.1 195.2 438.4 196.4 436.7 197.5 435 198.5 433.3 199.4 431.5 200.2 429.7 201 428 201.7 426.2 202.3 424.4 202.8 422.7 203.3 420.9 203.7 419.1 204 417.4 204.3 415.6 204.5 413.8 204.6 412.1 204.7 410.3 204.7 407.3 204.7Z" fill="#5ac864"/>
<path d="M407.3 138.3L410.3 138.3 412 138.4 413.7 138.5 415.4 138.6 417.2 138.9 418.9 139.2 420.6 139.5 422.3 139.9 424 140.4 425.7 140.9 427.4 141.5 429.1 142.2 430.8 143 432.4 143.8 434.1 144.7 435.7 145.7 437.3 146.8 438.9 148 440.4 149.2 441.9 150.6 443.3 152.1 444.6 153.6 445.9 155.3 447 157 448 158.8 448.9 160.8 449.7 162.7 450.3 164.8 450.7 166.9 451 169 451.1 171.1 451 173.2 450.7 175.3 450.3 177.4 449.7 179.5 448.9 181.4 448 183.3 447 185.2 445.9 186.9 444.6 188.6 443.3 190.1 441.9 191.6 440.4 192.9 438.9 194.2 437.3 195.4 435.7 196.5 434.1 197.5 432.4 198.4 430.8 199.2 429.1 200 427.4 200.7 425.7 201.3 424 201.8 422.3 202.3 420.6 202.7 418.9 203 417.2 203.3 415.4 203.5 413.7 203.7 412 203.8 410.3 203.9 407.3 203.9Z" fill="#5ec962"/>
<path d="M407.3 139.2L410.3 139.2 412 139.3 413.6 139.4 415.3 139.6 417 139.8 418.6 140.1 420.3 140.5 421.9 140.9 423.5 141.4 425.2 141.9 426.8 142.5 428.4 143.2 430 144 431.6 144.8 433.2 145.7 434.8 146.7 436.3 147.7 437.8 148.9 439.2 150.1 440.6 151.5 441.9 152.9 443.2 154.4 444.3 156 445.4 157.6 446.4 159.4 447.2 161.2 447.9 163.1 448.5 165.1 448.9 167 449.1 169.1 449.2 171.1 449.1 173.1 448.9 175.1 448.5 177.1 447.9 179.1 447.2 181 446.4 182.8 445.4 184.5 444.3 186.2 443.2 187.8 441.9 189.3 440.6 190.7 439.2 192.1 437.8 193.3 436.3 194.4 434.8 195.5 433.2 196.5 431.6 197.4 430 198.2 428.4 199 426.8 199.7 425.2 200.3 423.5 200.8 421.9 201.3 420.3 201.7 418.6 202.1 417 202.4 415.3 202.6 413.6 202.8 412 202.9 410.3 203 407.3 203Z" fill="#65cb5e"/>
<path d="M407.3 140L410.3 140 411.9 140.1 413.5 140.3 415.2 140.5 416.8 140.7 418.4 141.1 420 141.4 421.5 141.9 423.1 142.4 424.7 142.9 426.2 143.5 427.8 144.2 429.3 145 430.8 145.8 432.3 146.7 433.8 147.6 435.2 148.7 436.6 149.8 438 151 439.3 152.3 440.5 153.7 441.7 155.1 442.8 156.6 443.8 158.2 444.7 159.9 445.5 161.7 446.1 163.5 446.7 165.3 447.1 167.2 447.3 169.2 447.4 171.1 447.3 173 447.1 174.9 446.7 176.8 446.1 178.7 445.5 180.5 444.7 182.3 443.8 183.9 442.8 185.5 441.7 187.1 440.5 188.5 439.3 189.9 438 191.2 436.6 192.4 435.2 193.5 433.8 194.6 432.3 195.5 430.8 196.4 429.3 197.2 427.8 198 426.2 198.7 424.7 199.3 423.1 199.8 421.5 200.3 420 200.8 418.4 201.1 416.8 201.4 415.2 201.7 413.5 201.9 411.9 202.1 410.3 202.2 407.3 202.2Z" fill="#69cd5b"/>
<path d="M407.3 140.9L410.3 140.9 411.9 141 413.5 141.2 415 141.4 416.6 141.6 418.1 142 419.6 142.4 421.2 142.8 422.7 143.3 424.2 143.9 425.7 144.5 427.1 145.2 428.6 145.9 430 146.7 431.5 147.6 432.8 148.6 434.2 149.6 435.5 150.7 436.8 151.9 438 153.1 439.2 154.4 440.3 155.8 441.3 157.3 442.2 158.8 443.1 160.5 443.8 162.1 444.4 163.8 444.9 165.6 445.3 167.4 445.5 169.3 445.5 171.1 445.5 172.9 445.3 174.8 444.9 176.6 444.4 178.3 443.8 180.1 443.1 181.7 442.2 183.3 441.3 184.9 440.3 186.4 439.2 187.7 438 189.1 436.8 190.3 435.5 191.5 434.2 192.6 432.8 193.6 431.5 194.6 430 195.4 428.6 196.3 427.1 197 425.7 197.7 424.2 198.3 422.7 198.9 421.2 199.4 419.6 199.8 418.1 200.2 416.6 200.5 415 200.8 413.5 201 411.9 201.2 410.3 201.3 407.3 201.3Z" fill="#70cf57"/>
<path d="M407.3 141.7L410.3 141.7 411.8 141.8 413.4 142 414.9 142.3 416.4 142.5 417.9 142.9 419.3 143.3 420.8 143.8 422.3 144.3 423.7 144.8 425.1 145.5 426.5 146.2 427.9 146.9 429.3 147.7 430.6 148.6 431.9 149.5 433.2 150.5 434.4 151.6 435.6 152.7 436.8 153.9 437.9 155.2 438.9 156.6 439.8 158 440.7 159.4 441.5 161 442.1 162.6 442.7 164.2 443.2 165.9 443.5 167.6 443.7 169.3 443.7 171.1 443.7 172.8 443.5 174.6 443.2 176.3 442.7 178 442.1 179.6 441.5 181.2 440.7 182.7 439.8 184.2 438.9 185.6 437.9 187 436.8 188.3 435.6 189.5 434.4 190.6 433.2 191.7 431.9 192.7 430.6 193.6 429.3 194.5 427.9 195.3 426.5 196 425.1 196.7 423.7 197.3 422.3 197.9 420.8 198.4 419.3 198.9 417.9 199.3 416.4 199.6 414.9 199.9 413.4 200.2 411.8 200.3 410.3 200.5 407.3 200.5Z" fill="#75d054"/>
<path d="M407.3 142.5L410.3 142.5 411.8 142.7 413.3 142.9 414.7 143.1 416.2 143.4 417.6 143.8 419 144.2 420.4 144.7 421.8 145.2 423.2 145.8 424.6 146.4 425.9 147.1 427.2 147.9 428.5 148.7 429.8 149.5 431 150.4 432.2 151.4 433.3 152.5 434.5 153.6 435.5 154.7 436.5 156 437.5 157.3 438.4 158.6 439.2 160 439.9 161.5 440.5 163 441 164.6 441.4 166.2 441.7 167.8 441.9 169.4 442 171.1 441.9 172.7 441.7 174.4 441.4 176 441 177.6 440.5 179.2 439.9 180.7 439.2 182.2 438.4 183.6 437.5 184.9 436.5 186.2 435.5 187.5 434.5 188.6 433.3 189.7 432.2 190.8 431 191.8 429.8 192.7 428.5 193.5 427.2 194.3 425.9 195.1 424.6 195.8 423.2 196.4 421.8 197 420.4 197.5 419 198 417.6 198.4 416.2 198.7 414.7 199.1 413.3 199.3 411.8 199.5 410.3 199.7 407.3 199.7Z" fill="#7cd250"/>
<path d="M407.3 143.3L410.3 143.3 411.7 143.5 413.2 143.7 414.6 144 416 144.3 417.4 144.7 418.7 145.1 420.1 145.6 421.4 146.1 422.7 146.7 424 147.4 425.3 148.1 426.5 148.8 427.7 149.6 428.9 150.4 430.1 151.3 431.2 152.3 432.3 153.3 433.3 154.4 434.3 155.5 435.2 156.7 436.1 158 436.9 159.3 437.7 160.6 438.3 162 438.9 163.4 439.4 164.9 439.7 166.4 440 168 440.2 169.5 440.2 171.1 440.2 172.7 440 174.2 439.7 175.7 439.4 177.3 438.9 178.7 438.3 180.2 437.7 181.6 436.9 182.9 436.1 184.2 435.2 185.5 434.3 186.7 433.3 187.8 432.3 188.9 431.2 189.9 430.1 190.8 428.9 191.7 427.7 192.6 426.5 193.4 425.3 194.1 424 194.8 422.7 195.5 421.4 196 420.1 196.6 418.7 197.1 417.4 197.5 416 197.9 414.6 198.2 413.2 198.5 411.7 198.7 410.3 198.8 407.3 198.8Z" fill="#81d34d"/>
<path d="M407.3 144.1L410.3 144.1 411.7 144.3 413.1 144.6 414.5 144.8 415.8 145.2 417.1 145.6 418.5 146 419.7 146.5 421 147.1 422.3 147.6 423.5 148.3 424.7 149 425.8 149.7 427 150.5 428.1 151.4 429.2 152.2 430.2 153.2 431.2 154.2 432.2 155.2 433.1 156.3 434 157.5 434.8 158.6 435.5 159.9 436.2 161.2 436.8 162.5 437.3 163.9 437.7 165.3 438.1 166.7 438.3 168.2 438.5 169.6 438.5 171.1 438.5 172.6 438.3 174 438.1 175.5 437.7 176.9 437.3 178.3 436.8 179.7 436.2 181 435.5 182.3 434.8 183.5 434 184.7 433.1 185.9 432.2 187 431.2 188 430.2 189 429.2 189.9 428.1 190.8 427 191.7 425.8 192.5 424.7 193.2 423.5 193.9 422.3 194.5 421 195.1 419.7 195.7 418.5 196.2 417.1 196.6 415.8 197 414.5 197.3 413.1 197.6 411.7 197.9 410.3 198 407.3 198Z" fill="#86d549"/>
<path d="M407.3 144.9L410.3 144.9 411.7 145.1 413 145.4 414.3 145.7 415.6 146 416.9 146.4 418.2 146.9 419.4 147.4 420.6 148 421.8 148.6 423 149.2 424.1 149.9 425.2 150.6 426.2 151.4 427.3 152.3 428.3 153.1 429.3 154 430.2 155 431.1 156 431.9 157.1 432.7 158.2 433.4 159.3 434.1 160.5 434.7 161.7 435.2 163 435.7 164.3 436.1 165.6 436.4 167 436.6 168.3 436.8 169.7 436.8 171.1 436.8 172.5 436.6 173.9 436.4 175.2 436.1 176.6 435.7 177.9 435.2 179.2 434.7 180.4 434.1 181.7 433.4 182.9 432.7 184 431.9 185.1 431.1 186.2 430.2 187.2 429.3 188.1 428.3 189.1 427.3 189.9 426.2 190.8 425.2 191.5 424.1 192.3 423 193 421.8 193.6 420.6 194.2 419.4 194.8 418.2 195.3 416.9 195.7 415.6 196.1 414.3 196.5 413 196.8 411.7 197.1 410.3 197.3 407.3 197.3Z" fill="#8ed645"/>
<path d="M407.3 145.7L410.3 145.7 411.6 145.9 412.9 146.2 414.2 146.5 415.5 146.9 416.7 147.3 417.9 147.8 419.1 148.3 420.2 148.9 421.3 149.5 422.4 150.1 423.5 150.8 424.5 151.5 425.5 152.3 426.5 153.1 427.4 154 428.3 154.9 429.2 155.8 430 156.8 430.7 157.8 431.4 158.9 432.1 160 432.7 161.1 433.2 162.3 433.7 163.5 434.1 164.7 434.5 166 434.8 167.2 435 168.5 435.1 169.8 435.1 171.1 435.1 172.4 435 173.7 434.8 175 434.5 176.2 434.1 177.5 433.7 178.7 433.2 179.9 432.7 181.1 432.1 182.2 431.4 183.3 430.7 184.3 430 185.4 429.2 186.3 428.3 187.3 427.4 188.2 426.5 189 425.5 189.9 424.5 190.6 423.5 191.4 422.4 192.1 421.3 192.7 420.2 193.3 419.1 193.9 417.9 194.4 416.7 194.9 415.5 195.3 414.2 195.7 412.9 196 411.6 196.3 410.3 196.5 407.3 196.5Z" fill="#93d741"/>
<path d="M407.3 146.5L410.3 146.5 411.6 146.7 412.8 147 414.1 147.3 415.3 147.7 416.5 148.2 417.6 148.6 418.7 149.2 419.8 149.7 420.9 150.4 421.9 151 422.9 151.7 423.9 152.4 424.8 153.2 425.7 154 426.5 154.9 427.4 155.8 428.1 156.7 428.9 157.6 429.6 158.6 430.2 159.6 430.8 160.7 431.3 161.7 431.8 162.8 432.2 164 432.6 165.1 432.9 166.3 433.1 167.5 433.3 168.7 433.4 169.9 433.5 171.1 433.4 172.3 433.3 173.5 433.1 174.7 432.9 175.9 432.6 177.1 432.2 178.2 431.8 179.3 431.3 180.4 430.8 181.5 430.2 182.6 429.6 183.6 428.9 184.6 428.1 185.5 427.4 186.4 426.5 187.3 425.7 188.2 424.8 189 423.9 189.7 422.9 190.5 421.9 191.2 420.9 191.8 419.8 192.4 418.7 193 417.6 193.5 416.5 194 415.3 194.5 414.1 194.9 412.8 195.2 411.6 195.5 410.3 195.7 407.3 195.7Z" fill="#9bd93c"/>
<path d="M407.3 147.2L410.3 147.2 411.5 147.5 412.8 147.8 413.9 148.1 415.1 148.5 416.2 149 417.3 149.5 418.4 150 419.4 150.6 420.4 151.2 421.4 151.9 422.3 152.6 423.2 153.3 424.1 154.1 424.9 154.9 425.7 155.7 426.4 156.6 427.1 157.5 427.8 158.4 428.4 159.4 429 160.3 429.5 161.3 430 162.3 430.4 163.4 430.8 164.5 431.1 165.5 431.3 166.6 431.6 167.7 431.7 168.8 431.8 170 431.8 171.1 431.8 172.2 431.7 173.3 431.6 174.5 431.3 175.6 431.1 176.7 430.8 177.7 430.4 178.8 430 179.8 429.5 180.9 429 181.9 428.4 182.8 427.8 183.8 427.1 184.7 426.4 185.6 425.7 186.5 424.9 187.3 424.1 188.1 423.2 188.9 422.3 189.6 421.4 190.3 420.4 191 419.4 191.6 418.4 192.2 417.3 192.7 416.2 193.2 415.1 193.6 413.9 194 412.8 194.4 411.5 194.7 410.3 194.9 407.3 194.9Z" fill="#a0da39"/>
<path d="M407.3 148L410.3 148 411.5 148.3 412.7 148.6 413.8 148.9 414.9 149.4 416 149.8 417.1 150.3 418.1 150.9 419 151.5 420 152.1 420.9 152.8 421.8 153.5 422.6 154.2 423.4 155 424.1 155.7 424.8 156.6 425.5 157.4 426.1 158.3 426.7 159.2 427.3 160.1 427.8 161 428.2 162 428.6 162.9 429 163.9 429.3 164.9 429.6 165.9 429.8 167 430 168 430.1 169 430.2 170.1 430.2 171.1 430.2 172.1 430.1 173.2 430 174.2 429.8 175.2 429.6 176.3 429.3 177.3 429 178.3 428.6 179.2 428.2 180.2 427.8 181.2 427.3 182.1 426.7 183 426.1 183.9 425.5 184.8 424.8 185.6 424.1 186.4 423.4 187.2 422.6 188 421.8 188.7 420.9 189.4 420 190.1 419 190.7 418.1 191.3 417.1 191.9 416 192.4 414.9 192.8 413.8 193.2 412.7 193.6 411.5 193.9 410.3 194.2 407.3 194.2Z" fill="#a8db34"/>
<path d="M407.3 149.1L410.3 149.1 411.4 149.4 412.6 149.7 413.6 150.1 414.7 150.5 415.7 150.9 416.7 151.4 417.6 152 418.6 152.6 419.4 153.2 420.3 153.8 421.1 154.5 421.9 155.2 422.6 156 423.3 156.7 423.9 157.5 424.5 158.3 425.1 159.1 425.6 160 426.1 160.9 426.5 161.7 426.9 162.6 427.3 163.5 427.6 164.5 427.9 165.4 428.1 166.3 428.3 167.3 428.5 168.2 428.6 169.2 428.6 170.1 428.6 171.1 428.6 172.1 428.6 173 428.5 174 428.3 174.9 428.1 175.9 427.9 176.8 427.6 177.7 427.3 178.6 426.9 179.6 426.5 180.5 426.1 181.3 425.6 182.2 425.1 183 424.5 183.9 423.9 184.7 423.3 185.5 422.6 186.2 421.9 187 421.1 187.7 420.3 188.4 419.4 189 418.6 189.6 417.6 190.2 416.7 190.7 415.7 191.2 414.7 191.7 413.6 192.1 412.6 192.5 411.4 192.8 410.3 193.1 407.3 193.1Z" fill="#addc30"/>
<path d="M407.3 150.5L410.3 150.5 411.4 150.8 412.4 151.1 413.4 151.4 414.4 151.8 415.4 152.2 416.3 152.7 417.2 153.2 418 153.7 418.9 154.3 419.6 154.9 420.4 155.6 421.1 156.2 421.8 156.9 422.4 157.6 423 158.4 423.6 159.1 424.1 159.9 424.6 160.7 425.1 161.5 425.5 162.3 425.9 163.2 426.2 164 426.5 164.9 426.8 165.7 427 166.6 427.2 167.5 427.3 168.4 427.4 169.3 427.5 170.2 427.5 171.1 427.5 172 427.4 172.9 427.3 173.8 427.2 174.7 427 175.6 426.8 176.4 426.5 177.3 426.2 178.2 425.9 179 425.5 179.9 425.1 180.7 424.6 181.5 424.1 182.3 423.6 183.1 423 183.8 422.4 184.6 421.8 185.3 421.1 186 420.4 186.6 419.6 187.3 418.9 187.9 418 188.4 417.2 189 416.3 189.5 415.4 190 414.4 190.4 413.4 190.8 412.4 191.1 411.4 191.4 410.3 191.7 407.3 191.7Z" fill="#b2dd2d"/>
<path d="M407.3 151.7L410.3 151.7 411.3 152 412.3 152.2 413.2 152.6 414.2 152.9 415.1 153.3 415.9 153.8 416.8 154.3 417.6 154.8 418.4 155.3 419.1 155.9 419.8 156.5 420.5 157.1 421.1 157.7 421.7 158.4 422.3 159.1 422.8 159.8 423.3 160.6 423.8 161.3 424.2 162.1 424.6 162.8 425 163.6 425.3 164.4 425.6 165.2 425.8 166.1 426 166.9 426.2 167.7 426.3 168.6 426.4 169.4 426.4 170.2 426.5 171.1 426.4 171.9 426.4 172.8 426.3 173.6 426.2 174.5 426 175.3 425.8 176.1 425.6 176.9 425.3 177.7 425 178.6 424.6 179.3 424.2 180.1 423.8 180.9 423.3 181.6 422.8 182.4 422.3 183.1 421.7 183.8 421.1 184.4 420.5 185.1 419.8 185.7 419.1 186.3 418.4 186.9 417.6 187.4 416.8 187.9 415.9 188.4 415.1 188.8 414.2 189.2 413.2 189.6 412.3 189.9 411.3 190.2 410.3 190.5 407.3 190.5Z" fill="#bade28"/>
<path d="M407.3 153L410.3 153 411.2 153.2 412.2 153.5 413 153.8 413.9 154.1 414.8 154.5 415.6 154.9 416.4 155.3 417.1 155.8 417.8 156.3 418.5 156.9 419.2 157.4 419.8 158 420.4 158.6 421 159.2 421.5 159.9 422 160.6 422.5 161.2 422.9 161.9 423.3 162.7 423.7 163.4 424 164.1 424.3 164.9 424.6 165.6 424.8 166.4 425 167.2 425.1 167.9 425.3 168.7 425.3 169.5 425.4 170.3 425.4 171.1 425.4 171.9 425.3 172.7 425.3 173.5 425.1 174.2 425 175 424.8 175.8 424.6 176.6 424.3 177.3 424 178.1 423.7 178.8 423.3 179.5 422.9 180.2 422.5 180.9 422 181.6 421.5 182.3 421 182.9 420.4 183.6 419.8 184.2 419.2 184.8 418.5 185.3 417.8 185.9 417.1 186.4 416.4 186.8 415.6 187.3 414.8 187.7 413.9 188.1 413 188.4 412.2 188.7 411.2 189 410.3 189.2 407.3 189.2Z" fill="#c0df25"/>
<path d="M407.3 154.3L410.3 154.3 411.2 154.5 412 154.7 412.9 155 413.7 155.3 414.4 155.7 415.2 156.1 415.9 156.5 416.6 156.9 417.3 157.4 417.9 157.9 418.6 158.4 419.1 158.9 419.7 159.5 420.2 160.1 420.7 160.7 421.2 161.3 421.6 161.9 422 162.6 422.4 163.3 422.7 163.9 423 164.6 423.3 165.3 423.5 166 423.8 166.7 423.9 167.4 424.1 168.2 424.2 168.9 424.3 169.6 424.3 170.4 424.3 171.1 424.3 171.8 424.3 172.6 424.2 173.3 424.1 174 423.9 174.7 423.8 175.5 423.5 176.2 423.3 176.9 423 177.6 422.7 178.3 422.4 178.9 422 179.6 421.6 180.2 421.2 180.9 420.7 181.5 420.2 182.1 419.7 182.7 419.1 183.2 418.6 183.8 417.9 184.3 417.3 184.8 416.6 185.3 415.9 185.7 415.2 186.1 414.4 186.5 413.7 186.9 412.9 187.2 412 187.5 411.2 187.7 410.3 187.9 407.3 187.9Z" fill="#c8e020"/>
<path d="M407.3 155.6L410.3 155.6 411.1 155.8 411.9 156 412.6 156.3 413.4 156.6 414.1 156.9 414.8 157.3 415.5 157.6 416.1 158.1 416.7 158.5 417.3 158.9 417.9 159.4 418.4 159.9 418.9 160.4 419.4 161 419.9 161.5 420.3 162.1 420.7 162.7 421.1 163.3 421.4 163.9 421.7 164.5 422 165.1 422.3 165.8 422.5 166.4 422.7 167.1 422.8 167.7 423 168.4 423.1 169.1 423.2 169.7 423.2 170.4 423.2 171.1 423.2 171.8 423.2 172.4 423.1 173.1 423 173.8 422.8 174.4 422.7 175.1 422.5 175.8 422.3 176.4 422 177 421.7 177.7 421.4 178.3 421.1 178.9 420.7 179.5 420.3 180.1 419.9 180.7 419.4 181.2 418.9 181.7 418.4 182.3 417.9 182.8 417.3 183.2 416.7 183.7 416.1 184.1 415.5 184.5 414.8 184.9 414.1 185.3 413.4 185.6 412.6 185.9 411.9 186.1 411.1 186.4 410.3 186.6 407.3 186.6Z" fill="#cde11d"/>
<path d="M407.3 157L410.3 157 411 157.2 411.7 157.4 412.4 157.6 413.1 157.9 413.8 158.2 414.4 158.5 415 158.9 415.6 159.2 416.1 159.6 416.7 160 417.2 160.5 417.7 160.9 418.2 161.4 418.6 161.9 419 162.4 419.4 162.9 419.8 163.4 420.1 164 420.4 164.5 420.7 165.1 420.9 165.7 421.2 166.3 421.4 166.8 421.6 167.4 421.7 168 421.8 168.6 421.9 169.3 422 169.9 422 170.5 422 171.1 422 171.7 422 172.3 421.9 172.9 421.8 173.5 421.7 174.1 421.6 174.7 421.4 175.3 421.2 175.9 420.9 176.5 420.7 177.1 420.4 177.6 420.1 178.2 419.8 178.7 419.4 179.3 419 179.8 418.6 180.3 418.2 180.8 417.7 181.3 417.2 181.7 416.7 182.1 416.1 182.6 415.6 182.9 415 183.3 414.4 183.7 413.8 184 413.1 184.3 412.4 184.5 411.7 184.8 411 185 410.3 185.2 407.3 185.2Z" fill="#d2e21b"/>
<path d="M407.3 158.5L410.3 158.5 411 158.7 411.6 158.8 412.2 159 412.8 159.3 413.4 159.5 414 159.8 414.5 160.1 415 160.5 415.5 160.8 416 161.2 416.5 161.6 416.9 162 417.3 162.4 417.7 162.8 418.1 163.3 418.5 163.8 418.8 164.2 419.1 164.7 419.4 165.2 419.6 165.7 419.8 166.2 420 166.8 420.2 167.3 420.4 167.8 420.5 168.4 420.6 168.9 420.7 169.4 420.8 170 420.8 170.5 420.8 171.1 420.8 171.6 420.8 172.2 420.7 172.7 420.6 173.3 420.5 173.8 420.4 174.4 420.2 174.9 420 175.4 419.8 175.9 419.6 176.5 419.4 177 419.1 177.5 418.8 177.9 418.5 178.4 418.1 178.9 417.7 179.3 417.3 179.8 416.9 180.2 416.5 180.6 416 181 415.5 181.4 415 181.7 414.5 182 414 182.4 413.4 182.6 412.8 182.9 412.2 183.1 411.6 183.4 411 183.5 410.3 183.7 407.3 183.7Z" fill="#dae319"/>
<path d="M407.3 160L410.3 160 410.9 160.2 411.4 160.3 412 160.5 412.5 160.7 413 161 413.5 161.2 414 161.5 414.5 161.8 414.9 162.1 415.3 162.4 415.7 162.7 416.1 163.1 416.5 163.5 416.8 163.9 417.1 164.3 417.5 164.7 417.7 165.1 418 165.5 418.2 165.9 418.5 166.4 418.7 166.8 418.8 167.3 419 167.8 419.1 168.2 419.3 168.7 419.4 169.2 419.4 169.6 419.5 170.1 419.5 170.6 419.5 171.1 419.5 171.6 419.5 172.1 419.4 172.5 419.4 173 419.3 173.5 419.1 174 419 174.4 418.8 174.9 418.7 175.3 418.5 175.8 418.2 176.2 418 176.7 417.7 177.1 417.5 177.5 417.1 177.9 416.8 178.3 416.5 178.7 416.1 179.1 415.7 179.4 415.3 179.8 414.9 180.1 414.5 180.4 414 180.7 413.5 181 413 181.2 412.5 181.5 412 181.7 411.4 181.8 410.9 182 410.3 182.1 407.3 182.1Z" fill="#dfe318"/>
<path d="M407.3 161.7L410.3 161.7 410.8 161.8 411.3 161.9 411.7 162.1 412.2 162.3 412.6 162.5 413 162.7 413.4 162.9 413.8 163.2 414.2 163.4 414.6 163.7 414.9 164 415.3 164.3 415.6 164.6 415.9 164.9 416.1 165.3 416.4 165.6 416.6 166 416.9 166.3 417.1 166.7 417.3 167.1 417.4 167.5 417.6 167.9 417.7 168.2 417.8 168.6 417.9 169 418 169.5 418.1 169.9 418.1 170.3 418.2 170.7 418.2 171.1 418.2 171.5 418.1 171.9 418.1 172.3 418 172.7 417.9 173.1 417.8 173.5 417.7 173.9 417.6 174.3 417.4 174.7 417.3 175.1 417.1 175.5 416.9 175.9 416.6 176.2 416.4 176.6 416.1 176.9 415.9 177.3 415.6 177.6 415.3 177.9 414.9 178.2 414.6 178.5 414.2 178.8 413.8 179 413.4 179.3 413 179.5 412.6 179.7 412.2 179.9 411.7 180.1 411.3 180.3 410.8 180.4 410.3 180.5 407.3 180.5Z" fill="#e7e419"/>
<path d="M407.3 163.4L410.3 163.4 410.7 163.5 411.1 163.6 411.5 163.8 411.8 163.9 412.2 164.1 412.5 164.2 412.9 164.4 413.2 164.6 413.5 164.8 413.8 165.1 414.1 165.3 414.3 165.5 414.6 165.8 414.8 166.1 415.1 166.3 415.3 166.6 415.5 166.9 415.6 167.2 415.8 167.5 416 167.8 416.1 168.1 416.2 168.5 416.3 168.8 416.4 169.1 416.5 169.4 416.6 169.8 416.6 170.1 416.7 170.4 416.7 170.8 416.7 171.1 416.7 171.4 416.7 171.8 416.6 172.1 416.6 172.4 416.5 172.8 416.4 173.1 416.3 173.4 416.2 173.7 416.1 174 416 174.4 415.8 174.7 415.6 175 415.5 175.3 415.3 175.6 415.1 175.8 414.8 176.1 414.6 176.4 414.3 176.6 414.1 176.9 413.8 177.1 413.5 177.3 413.2 177.6 412.9 177.8 412.5 177.9 412.2 178.1 411.8 178.3 411.5 178.4 411.1 178.6 410.7 178.7 410.3 178.8 407.3 178.8Z" fill="#ece51b"/>
<path d="M407.3 165.3L410.3 165.3 410.6 165.4 410.9 165.5 411.2 165.6 411.5 165.7 411.7 165.8 412 165.9 412.2 166.1 412.5 166.2 412.7 166.4 412.9 166.5 413.1 166.7 413.3 166.9 413.5 167.1 413.7 167.3 413.9 167.5 414 167.7 414.2 167.9 414.3 168.2 414.5 168.4 414.6 168.6 414.7 168.9 414.8 169.1 414.9 169.3 414.9 169.6 415 169.8 415 170.1 415.1 170.3 415.1 170.6 415.1 170.8 415.1 171.1 415.1 171.3 415.1 171.6 415.1 171.8 415 172.1 415 172.3 414.9 172.6 414.9 172.8 414.8 173.1 414.7 173.3 414.6 173.6 414.5 173.8 414.3 174 414.2 174.2 414 174.5 413.9 174.7 413.7 174.9 413.5 175.1 413.3 175.3 413.1 175.5 412.9 175.6 412.7 175.8 412.5 176 412.2 176.1 412 176.3 411.7 176.4 411.5 176.5 411.2 176.6 410.9 176.7 410.6 176.8 410.3 176.9 407.3 176.9Z" fill="#f4e61e"/>
<path d="M407.3 167.4L410.3 167.4 410.5 167.4 410.7 167.5 410.9 167.5 411 167.6 411.2 167.7 411.4 167.8 411.5 167.9 411.7 168 411.8 168.1 412 168.2 412.1 168.3 412.2 168.4 412.4 168.5 412.5 168.7 412.6 168.8 412.7 168.9 412.8 169.1 412.9 169.2 413 169.4 413 169.5 413.1 169.7 413.2 169.8 413.2 170 413.3 170.1 413.3 170.3 413.3 170.4 413.4 170.6 413.4 170.8 413.4 170.9 413.4 171.1 413.4 171.3 413.4 171.4 413.4 171.6 413.3 171.7 413.3 171.9 413.3 172.1 413.2 172.2 413.2 172.4 413.1 172.5 413 172.7 413 172.8 412.9 173 412.8 173.1 412.7 173.2 412.6 173.4 412.5 173.5 412.4 173.6 412.2 173.8 412.1 173.9 412 174 411.8 174.1 411.7 174.2 411.5 174.3 411.4 174.4 411.2 174.5 411 174.6 410.9 174.6 410.7 174.7 410.5 174.8 410.3 174.8 407.3 174.8Z" fill="#f8e621"/>
<path d="M407.3 169.7L410.3 169.7 410.4 169.7 410.4 169.8 410.5 169.8 410.6 169.8 410.6 169.8 410.7 169.9 410.8 169.9 410.8 169.9 410.9 170 410.9 170 411 170.1 411 170.1 411.1 170.1 411.1 170.2 411.1 170.2 411.2 170.3 411.2 170.3 411.3 170.4 411.3 170.5 411.3 170.5 411.3 170.6 411.4 170.6 411.4 170.7 411.4 170.7 411.4 170.8 411.4 170.9 411.4 170.9 411.4 171 411.4 171 411.4 171.1 411.4 171.2 411.4 171.2 411.4 171.3 411.4 171.3 411.4 171.4 411.4 171.4 411.4 171.5 411.4 171.6 411.3 171.6 411.3 171.7 411.3 171.7 411.3 171.8 411.2 171.8 411.2 171.9 411.1 171.9 411.1 172 411.1 172 411 172.1 411 172.1 410.9 172.2 410.9 172.2 410.8 172.2 410.8 172.3 410.7 172.3 410.6 172.3 410.6 172.4 410.5 172.4 410.4 172.4 410.4 172.4 410.3 172.5 407.3 172.5Z" fill="#fde725"/>
<path d="M410.3 148.4 410.9 148.6 411.5 148.7 412.1 148.9 412.6 149.1 413.2 149.2 413.7 149.4 414.3 149.6 414.8 149.9 415.4 150.1 415.9 150.3 416.4 150.6 416.9 150.8 417.4 151.1 417.9 151.4 418.3 151.7 418.8 152 419.3 152.3 419.7 152.6 420.2 153 420.6 153.3 421 153.6 421.4 154 421.8 154.4 422.2 154.7 422.6 155.1 423 155.5 423.3 155.9 423.7 156.3 424 156.7 424.3 157.1 424.6 157.5 425 157.9 425.3 158.3 425.5 158.8 425.8 159.2 426.1 159.6 426.3 160.1 426.6 160.5 426.8 161 427 161.4 427.2 161.9 427.4 162.4 427.6 162.8 427.8 163.3 428 163.8 428.1 164.3 428.3 164.7 428.4 165.2 428.5 165.7 428.7 166.2 428.8 166.7 428.9 167.2 428.9 167.6 429 168.1 429.1 168.6 429.1 169.1 429.2 169.6 429.2 170.1 429.2 170.6 429.2 171.1 429.2 171.6 429.2 172.1 429.2 172.6 429.1 173.1 429.1 173.6 429 174.1 428.9 174.5 428.9 175 428.8 175.5 428.7 176 428.5 176.5 428.4 177 428.3 177.5 428.1 177.9 428 178.4 427.8 178.9 427.6 179.3 427.4 179.8 427.2 180.3 427 180.7 426.8 181.2 426.6 181.6 426.3 182.1 426.1 182.5 425.8 183 425.5 183.4 425.3 183.8 425 184.3 424.6 184.7 424.3 185.1 424 185.5 423.7 185.9 423.3 186.3 423 186.7 422.6 187.1 422.2 187.5 421.8 187.8 421.4 188.2 421 188.5 420.6 188.9 420.2 189.2 419.7 189.6 419.3 189.9 418.8 190.2 418.3 190.5 417.9 190.8 417.4 191.1 416.9 191.3 416.4 191.6 415.9 191.9 415.4 192.1 414.8 192.3 414.3 192.5 413.7 192.8 413.2 193 412.6 193.1 412.1 193.3 411.5 193.5 410.9 193.6 410.3 193.7" fill="none" stroke="#ff1e00" stroke-width="0.85" stroke-opacity="0.75"/>
<path d="M410.3 137.2 411.2 137.2 412.1 137.2 413 137.2 413.9 137.3 414.7 137.4 415.6 137.4 416.5 137.5 417.4 137.6 418.3 137.8 419.2 137.9 420.1 138.1 421 138.2 421.9 138.4 422.8 138.6 423.7 138.8 424.6 139.1 425.5 139.3 426.4 139.6 427.3 139.9 428.2 140.2 429.1 140.5 429.9 140.9 430.8 141.2 431.7 141.6 432.6 142 433.5 142.5 434.4 142.9 435.3 143.4 436.1 143.9 437 144.4 437.9 145 438.7 145.5 439.6 146.1 440.4 146.8 441.2 147.4 442 148.1 442.8 148.8 443.6 149.5 444.4 150.2 445.1 151 445.9 151.8 446.6 152.6 447.2 153.5 447.9 154.4 448.5 155.3 449.1 156.2 449.7 157.2 450.2 158.1 450.7 159.1 451.2 160.1 451.6 161.2 452 162.2 452.4 163.3 452.7 164.4 452.9 165.5 453.1 166.6 453.3 167.7 453.4 168.8 453.5 170 453.5 171.1 453.5 172.2 453.4 173.3 453.3 174.5 453.1 175.6 452.9 176.7 452.7 177.8 452.4 178.9 452 179.9 451.6 181 451.2 182 450.7 183.1 450.2 184.1 449.7 185 449.1 186 448.5 186.9 447.9 187.8 447.2 188.7 446.6 189.5 445.9 190.4 445.1 191.2 444.4 191.9 443.6 192.7 442.8 193.4 442 194.1 441.2 194.8 440.4 195.4 439.6 196.1 438.7 196.6 437.9 197.2 437 197.8 436.1 198.3 435.3 198.8 434.4 199.3 433.5 199.7 432.6 200.1 431.7 200.5 430.8 200.9 429.9 201.3 429.1 201.6 428.2 202 427.3 202.3 426.4 202.6 425.5 202.9 424.6 203.1 423.7 203.3 422.8 203.6 421.9 203.8 421 204 420.1 204.1 419.2 204.3 418.3 204.4 417.4 204.5 416.5 204.7 415.6 204.7 414.7 204.8 413.9 204.9 413 204.9 412.1 205 411.2 205 410.3 205" fill="none" stroke="#ff9400" stroke-width="0.85" stroke-opacity="0.75"/>
<path d="M410.3 127.8 411.4 127.4 412.6 127.1 413.8 126.8 415 126.6 416.2 126.3 417.4 126.1 418.7 126 419.9 125.8 421.2 125.7 422.5 125.6 423.8 125.6 425.1 125.6 426.4 125.6 427.8 125.7 429.1 125.7 430.5 125.8 431.9 125.9 433.3 126.1 434.7 126.2 436.1 126.4 437.6 126.7 439 126.9 440.5 127.2 442 127.6 443.5 127.9 445 128.3 446.5 128.8 448 129.2 449.6 129.8 451.1 130.3 452.7 130.9 454.2 131.6 455.8 132.3 457.3 133.1 458.9 133.9 460.4 134.7 462 135.6 463.5 136.6 465 137.6 466.5 138.7 467.9 139.9 469.3 141.1 470.7 142.3 472.1 143.6 473.4 145 474.6 146.4 475.8 147.9 477 149.5 478.1 151 479.1 152.7 480 154.4 480.8 156.1 481.6 157.9 482.2 159.7 482.8 161.6 483.3 163.4 483.7 165.3 483.9 167.2 484.1 169.2 484.1 171.1 484.1 173 483.9 174.9 483.7 176.9 483.3 178.8 482.8 180.6 482.2 182.5 481.6 184.3 480.8 186.1 480 187.8 479.1 189.5 478.1 191.1 477 192.7 475.8 194.3 474.6 195.8 473.4 197.2 472.1 198.6 470.7 199.9 469.3 201.1 467.9 202.3 466.5 203.5 465 204.6 463.5 205.6 462 206.5 460.4 207.5 458.9 208.3 457.3 209.1 455.8 209.9 454.2 210.6 452.7 211.2 451.1 211.9 449.6 212.4 448 212.9 446.5 213.4 445 213.9 443.5 214.3 442 214.6 440.5 215 439 215.3 437.6 215.5 436.1 215.7 434.7 215.9 433.3 216.1 431.9 216.3 430.5 216.4 429.1 216.5 427.8 216.5 426.4 216.6 425.1 216.6 423.8 216.6 422.5 216.5 421.2 216.5 419.9 216.4 418.7 216.2 417.4 216 416.2 215.8 415 215.6 413.8 215.4 412.6 215.1 411.4 214.8 410.3 214.4" fill="none" stroke="#e4ff13" stroke-width="0.85" stroke-opacity="0.75"/>
<path d="M410.3 116.8 411.7 116.1 413.2 115.4 414.7 114.8 416.3 114.2 417.9 113.6 419.5 113 421.2 112.5 422.9 112 424.6 111.5 426.4 111.1 428.2 110.7 430.1 110.3 432 109.9 433.9 109.7 435.9 109.4 437.9 109.2 439.9 109 442 108.9 444.1 108.9 446.3 108.9 448.4 108.9 450.7 109 452.9 109.2 455.2 109.4 457.5 109.7 459.8 110.1 462.1 110.5 464.5 111 466.9 111.5 469.3 112.2 471.7 112.9 474.1 113.7 476.6 114.6 479 115.5 481.4 116.6 483.8 117.8 486.2 119 488.6 120.3 490.9 121.8 493.2 123.3 495.5 124.9 497.7 126.6 499.8 128.5 501.9 130.4 503.9 132.4 505.8 134.5 507.6 136.7 509.4 138.9 511 141.3 512.5 143.7 513.9 146.2 515.2 148.8 516.3 151.5 517.3 154.2 518.2 156.9 518.9 159.7 519.4 162.5 519.8 165.4 520.1 168.2 520.2 171.1 520.1 174 519.8 176.8 519.4 179.7 518.9 182.5 518.2 185.3 517.3 188 516.3 190.7 515.2 193.4 513.9 195.9 512.5 198.4 511 200.9 509.4 203.2 507.6 205.5 505.8 207.7 503.9 209.8 501.9 211.8 499.8 213.7 497.7 215.5 495.5 217.3 493.2 218.9 490.9 220.4 488.6 221.8 486.2 223.2 483.8 224.4 481.4 225.6 479 226.6 476.6 227.6 474.1 228.5 471.7 229.3 469.3 230 466.9 230.7 464.5 231.2 462.1 231.7 459.8 232.1 457.5 232.5 455.2 232.8 452.9 233 450.7 233.2 448.4 233.3 446.3 233.3 444.1 233.3 442 233.3 439.9 233.1 437.9 233 435.9 232.8 433.9 232.5 432 232.2 430.1 231.9 428.2 231.5 426.4 231.1 424.6 230.7 422.9 230.2 421.2 229.7 419.5 229.2 417.9 228.6 416.3 228 414.7 227.4 413.2 226.7 411.7 226.1 410.3 225.4" fill="none" stroke="#7dff7a" stroke-width="0.85" stroke-opacity="0.75"/>
<path d="M410.3 102.8 412.1 101.6 414 100.5 415.9 99.4 418 98.4 420 97.3 422.2 96.3 424.4 95.4 426.6 94.4 428.9 93.5 431.3 92.7 433.8 91.9 436.3 91.2 438.9 90.5 441.5 89.8 444.2 89.3 447 88.7 449.8 88.3 452.7 87.9 455.7 87.7 458.7 87.4 461.7 87.3 464.8 87.3 467.9 87.3 471.1 87.5 474.4 87.7 477.7 88 481 88.5 484.3 89 487.7 89.6 491.2 90.4 494.6 91.2 498.1 92.2 501.5 93.3 505 94.5 508.5 95.9 511.9 97.4 515.4 99 518.8 100.8 522.1 102.7 525.4 104.7 528.7 106.9 531.9 109.2 535 111.7 538 114.3 540.9 117.1 543.7 120 546.3 123 548.8 126.1 551.2 129.4 553.4 132.8 555.4 136.3 557.3 139.9 558.9 143.6 560.4 147.4 561.6 151.2 562.6 155.1 563.4 159.1 564 163 564.3 167.1 564.5 171.1 564.3 175.1 564 179.1 563.4 183.1 562.6 187.1 561.6 191 560.4 194.8 558.9 198.6 557.3 202.3 555.4 205.9 553.4 209.4 551.2 212.8 548.8 216 546.3 219.2 543.7 222.2 540.9 225.1 538 227.9 535 230.5 531.9 233 528.7 235.3 525.4 237.5 522.1 239.5 518.8 241.4 515.4 243.2 511.9 244.8 508.5 246.3 505 247.7 501.5 248.9 498.1 250 494.6 251 491.2 251.8 487.7 252.6 484.3 253.2 481 253.7 477.7 254.1 474.4 254.5 471.1 254.7 467.9 254.8 464.8 254.9 461.7 254.9 458.7 254.7 455.7 254.5 452.7 254.2 449.8 253.9 447 253.4 444.2 252.9 441.5 252.4 438.9 251.7 436.3 251 433.8 250.3 431.3 249.5 428.9 248.6 426.6 247.8 424.4 246.8 422.2 245.9 420 244.9 418 243.8 415.9 242.8 414 241.7 412.1 240.6 410.3 239.4" fill="none" stroke="#16ffe1" stroke-width="0.85" stroke-opacity="0.75"/>
<path d="M410.3 86.4 412.6 85 414.9 83.7 417.3 82.4 419.8 81.1 422.3 79.8 425 78.6 427.7 77.3 430.5 76.1 433.4 74.9 436.4 73.8 439.5 72.7 442.7 71.6 445.9 70.6 449.3 69.6 452.8 68.7 456.3 67.8 460 67 463.8 66.2 467.7 65.6 471.7 64.9 475.8 64.4 480 64 484.3 63.6 488.7 63.4 493.2 63.2 497.8 63.2 502.5 63.3 507.2 63.6 512 64.1 516.8 64.8 521.6 65.6 526.4 66.7 531.2 68 536 69.4 540.8 71.1 545.6 73 550.2 75 554.9 77.3 559.4 79.8 563.9 82.6 568.2 85.5 572.4 88.6 576.5 91.9 580.5 95.4 584.2 99.1 587.8 103 591.3 107.1 594.5 111.3 597.5 115.7 600.3 120.3 602.9 124.9 605.2 129.7 607.3 134.6 609.1 139.7 610.6 144.8 611.9 149.9 612.9 155.2 613.6 160.5 614 165.8 614.2 171.1 614 176.4 613.6 181.7 612.9 187 611.9 192.2 610.6 197.4 609.1 202.5 607.3 207.5 605.2 212.5 602.9 217.3 600.3 221.9 597.5 226.5 594.5 230.9 591.3 235.1 587.8 239.2 584.2 243 580.5 246.7 576.5 250.3 572.4 253.6 568.2 256.7 563.9 259.6 559.4 262.3 554.9 264.8 550.2 267.1 545.6 269.2 540.8 271.1 536 272.8 531.2 274.2 526.4 275.5 521.6 276.5 516.8 277.4 512 278.1 507.2 278.6 502.5 278.9 497.8 279 493.2 279 488.7 278.8 484.3 278.6 480 278.2 475.8 277.8 471.7 277.2 467.7 276.6 463.8 275.9 460 275.2 456.3 274.4 452.8 273.5 449.3 272.6 445.9 271.6 442.7 270.6 439.5 269.5 436.4 268.4 433.4 267.2 430.5 266.1 427.7 264.9 425 263.6 422.3 262.4 419.8 261.1 417.3 259.8 414.9 258.5 412.6 257.1 410.3 255.8" fill="none" stroke="#0080ff" stroke-width="0.85" stroke-opacity="0.75"/>
<path d="M410.3 65 413.1 63.5 416 62 419 60.6 422.1 59.2 425.2 57.8 428.5 56.4 431.9 55 435.3 53.6 438.9 52.3 442.5 51 446.3 49.7 450.2 48.5 454.2 47.2 458.4 46.1 462.6 44.9 467 43.8 471.6 42.8 476.3 41.8 481.1 40.9 486.1 40 491.2 39.2 496.5 38.5 502 37.8 507.6 37.3 513.4 36.9 519.4 36.5 525.6 36.3 531.9 36.2 538.4 36.3 544.8 36.7 551.3 37.5 557.8 38.5 564.2 39.8 570.6 41.5 576.9 43.4 583.1 45.7 589.3 48.3 595.3 51.1 601.2 54.3 606.9 57.7 612.5 61.5 617.9 65.5 623.1 69.7 628 74.3 632.8 79.1 637.3 84.1 641.6 89.3 645.6 94.7 649.3 100.4 652.7 106.2 655.9 112.2 656.4 118.4 656.4 124.6 656.4 131.1 656.4 137.6 656.4 144.2 656.4 150.8 656.4 157.6 656.4 164.3 656.4 171.1 656.4 177.9 656.4 184.6 656.4 191.4 656.4 198 656.4 204.6 656.4 211.1 656.4 217.5 656.4 223.8 655.9 230 652.7 236 649.3 241.8 645.6 247.4 641.6 252.9 637.3 258.1 632.8 263.1 628 267.9 623.1 272.4 617.9 276.7 612.5 280.7 606.9 284.5 601.2 287.9 595.3 291.1 589.3 293.9 583.1 296.5 576.9 298.8 570.6 300.7 564.2 302.4 557.8 303.7 551.3 304.7 544.8 305.4 538.4 305.9 531.9 306 525.6 305.9 519.4 305.7 513.4 305.3 507.6 304.9 502 304.3 496.5 303.7 491.2 303 486.1 302.2 481.1 301.3 476.3 300.4 471.6 299.4 467 298.3 462.6 297.3 458.4 296.1 454.2 294.9 450.2 293.7 446.3 292.5 442.5 291.2 438.9 289.9 435.3 288.6 431.9 287.2 428.5 285.8 425.2 284.4 422.1 283 419 281.6 416 280.1 413.1 278.7 410.3 277.2" fill="none" stroke="#0000ff" stroke-width="0.85" stroke-opacity="0.75"/>
</g>
<rect x="410.3" y="65.35" width="216.1" height="215.8" fill="none" stroke="#000" stroke-width="0.67"/>
<path d="M410.3 281.15L410.3 284.25" stroke="#000" stroke-width="0.67"/>
<text x="407.86" y="293.85" font-size="8.5" textLength="4.87" lengthAdjust="spacingAndGlyphs">0</text>
<path d="M446.32 281.15L446.32 284.25" stroke="#000" stroke-width="0.67"/>
<text x="438.25" y="293.85" font-size="8.5" textLength="16.47" lengthAdjust="spacingAndGlyphs">−10</text>
<path d="M482.33 281.15L482.33 284.25" stroke="#000" stroke-width="0.67"/>
<text x="474.27" y="293.85" font-size="8.5" textLength="16.47" lengthAdjust="spacingAndGlyphs">−20</text>
<path d="M518.35 281.15L518.35 284.25" stroke="#000" stroke-width="0.67"/>
<text x="510.28" y="293.85" font-size="8.5" textLength="16.47" lengthAdjust="spacingAndGlyphs">−30</text>
<path d="M554.37 281.15L554.37 284.25" stroke="#000" stroke-width="0.67"/>
<text x="546.3" y="293.85" font-size="8.5" textLength="16.47" lengthAdjust="spacingAndGlyphs">−40</text>
<path d="M590.38 281.15L590.38 284.25" stroke="#000" stroke-width="0.67"/>
<text x="582.32" y="293.85" font-size="8.5" textLength="16.47" lengthAdjust="spacingAndGlyphs">−50</text>
<path d="M626.4 281.15L626.4 284.25" stroke="#000" stroke-width="0.67"/>
<text x="618.33" y="293.85" font-size="8.5" textLength="16.47" lengthAdjust="spacingAndGlyphs">−60</text>
<path d="M407.2 65.35L410.3 65.35" stroke="#000" stroke-width="0.67"/>
<text x="387.38" y="68.6" font-size="8.5" textLength="16.47" lengthAdjust="spacingAndGlyphs">−30</text>
<path d="M407.2 101.32L410.3 101.32" stroke="#000" stroke-width="0.67"/>
<text x="387.38" y="104.57" font-size="8.5" textLength="16.47" lengthAdjust="spacingAndGlyphs">−20</text>
<path d="M407.2 137.28L410.3 137.28" stroke="#000" stroke-width="0.67"/>
<text x="387.38" y="140.53" font-size="8.5" textLength="16.47" lengthAdjust="spacingAndGlyphs">−10</text>
<path d="M407.2 173.25L410.3 173.25" stroke="#000" stroke-width="0.67"/>
<text x="398.97" y="176.5" font-size="8.5" textLength="4.87" lengthAdjust="spacingAndGlyphs">0</text>
<path d="M407.2 209.22L410.3 209.22" stroke="#000" stroke-width="0.67"/>
<text x="394.19" y="212.47" font-size="8.5" textLength="9.66" lengthAdjust="spacingAndGlyphs">10</text>
<path d="M407.2 245.18L410.3 245.18" stroke="#000" stroke-width="0.67"/>
<text x="393.89" y="248.43" font-size="8.5" textLength="9.96" lengthAdjust="spacingAndGlyphs">20</text>
<path d="M407.2 281.15L410.3 281.15" stroke="#000" stroke-width="0.67"/>
<text x="393.91" y="284.4" font-size="8.5" textLength="9.93" lengthAdjust="spacingAndGlyphs">30</text>
<text x="510.81" y="304.75" font-size="8.5" textLength="15.13" lengthAdjust="spacingAndGlyphs">mm</text>
<text x="374.26" y="174.45" font-size="8.5" textLength="15.13" lengthAdjust="spacingAndGlyphs" transform="rotate(-90 381.8 174.45)">mm</text>
<linearGradient id="cbc2" x1="0" y1="0" x2="0" y2="1"><stop offset="0%" stop-color="#fde725"/><stop offset="2.5%" stop-color="#efe51c"/><stop offset="5%" stop-color="#dfe318"/><stop offset="7.5%" stop-color="#cde11d"/><stop offset="10%" stop-color="#bddf26"/><stop offset="12.5%" stop-color="#addc30"/><stop offset="15%" stop-color="#9bd93c"/><stop offset="17.5%" stop-color="#8bd646"/><stop offset="20%" stop-color="#7ad151"/><stop offset="22.5%" stop-color="#6ccd5a"/><stop offset="25%" stop-color="#5ec962"/><stop offset="27.5%" stop-color="#50c46a"/><stop offset="30%" stop-color="#44bf70"/><stop offset="32.5%" stop-color="#38b977"/><stop offset="35%" stop-color="#2fb47c"/><stop offset="37.5%" stop-color="#28ae80"/><stop offset="40%" stop-color="#22a884"/><stop offset="42.5%" stop-color="#1fa287"/><stop offset="45%" stop-color="#1e9c89"/><stop offset="47.5%" stop-color="#1f968b"/><stop offset="50%" stop-color="#21918c"/><stop offset="52.5%" stop-color="#238a8d"/><stop offset="55%" stop-color="#25848e"/><stop offset="57.5%" stop-color="#277e8e"/><stop offset="60%" stop-color="#2a788e"/><stop offset="62.5%" stop-color="#2c728e"/><stop offset="65%" stop-color="#2f6c8e"/><stop offset="67.5%" stop-color="#31668e"/><stop offset="70%" stop-color="#355f8d"/><stop offset="72.5%" stop-color="#38598c"/><stop offset="75%" stop-color="#3b528b"/><stop offset="77.5%" stop-color="#3e4a89"/><stop offset="80%" stop-color="#414487"/><stop offset="82.5%" stop-color="#443b84"/><stop offset="85%" stop-color="#463480"/><stop offset="87.5%" stop-color="#472d7b"/><stop offset="90%" stop-color="#482475"/><stop offset="92.5%" stop-color="#481c6e"/><stop offset="95%" stop-color="#471365"/><stop offset="97.5%" stop-color="#460a5d"/><stop offset="100%" stop-color="#440154"/></linearGradient>
<rect x="641" y="65.35" width="11.2" height="215.8" fill="url(#cbc2)" stroke="#000" stroke-width="0.67"/>
<path d="M652.2 65.7L655.3 65.7" stroke="#000" stroke-width="0.67"/>
<text x="658.35" y="68.95" font-size="8.5" textLength="4.87" lengthAdjust="spacingAndGlyphs">0</text>
<path d="M652.2 101.12L655.3 101.12" stroke="#000" stroke-width="0.67"/>
<text x="658.68" y="104.38" font-size="8.5" textLength="11.15" lengthAdjust="spacingAndGlyphs">−5</text>
<path d="M652.2 136.55L655.3 136.55" stroke="#000" stroke-width="0.67"/>
<text x="658.68" y="139.8" font-size="8.5" textLength="16.47" lengthAdjust="spacingAndGlyphs">−10</text>
<path d="M652.2 171.98L655.3 171.98" stroke="#000" stroke-width="0.67"/>
<text x="658.68" y="175.23" font-size="8.5" textLength="16.3" lengthAdjust="spacingAndGlyphs">−15</text>
<path d="M652.2 207.4L655.3 207.4" stroke="#000" stroke-width="0.67"/>
<text x="658.68" y="210.65" font-size="8.5" textLength="16.47" lengthAdjust="spacingAndGlyphs">−20</text>
<path d="M652.2 242.82L655.3 242.82" stroke="#000" stroke-width="0.67"/>
<text x="658.68" y="246.07" font-size="8.5" textLength="16.3" lengthAdjust="spacingAndGlyphs">−25</text>
<path d="M652.2 278.25L655.3 278.25" stroke="#000" stroke-width="0.67"/>
<text x="658.68" y="281.5" font-size="8.5" textLength="16.47" lengthAdjust="spacingAndGlyphs">−30</text>
<text x="679.21" y="174.25" font-size="8.5" textLength="10.46" lengthAdjust="spacingAndGlyphs" transform="rotate(-90 684.5 174.25)">dB</text>
<rect x="188" y="360.3" width="310.4" height="231.8" fill="#fff" stroke="#000" stroke-width="0.67"/>
<path d="M201.9 592.1L201.9 595.2" stroke="#000" stroke-width="0.67"/>
<text x="199.46" y="606" font-size="8.5" textLength="4.87" lengthAdjust="spacingAndGlyphs">0</text>
<path d="M248.98 592.1L248.98 595.2" stroke="#000" stroke-width="0.67"/>
<text x="240.91" y="606" font-size="8.5" textLength="16.47" lengthAdjust="spacingAndGlyphs">−10</text>
<path d="M296.06 592.1L296.06 595.2" stroke="#000" stroke-width="0.67"/>
<text x="287.99" y="606" font-size="8.5" textLength="16.47" lengthAdjust="spacingAndGlyphs">−20</text>
<path d="M343.14 592.1L343.14 595.2" stroke="#000" stroke-width="0.67"/>
<text x="335.07" y="606" font-size="8.5" textLength="16.47" lengthAdjust="spacingAndGlyphs">−30</text>
<path d="M390.22 592.1L390.22 595.2" stroke="#000" stroke-width="0.67"/>
<text x="382.15" y="606" font-size="8.5" textLength="16.47" lengthAdjust="spacingAndGlyphs">−40</text>
<path d="M437.3 592.1L437.3 595.2" stroke="#000" stroke-width="0.67"/>
<text x="429.23" y="606" font-size="8.5" textLength="16.47" lengthAdjust="spacingAndGlyphs">−50</text>
<path d="M484.38 592.1L484.38 595.2" stroke="#000" stroke-width="0.67"/>
<text x="476.31" y="606" font-size="8.5" textLength="16.47" lengthAdjust="spacingAndGlyphs">−60</text>
<path d="M184.9 371.4L188 371.4" stroke="#000" stroke-width="0.67"/>
<text x="175.85" y="374.65" font-size="8.5" textLength="5" lengthAdjust="spacingAndGlyphs">0</text>
<path d="M184.9 413.75L188 413.75" stroke="#000" stroke-width="0.67"/>
<text x="169.2" y="417" font-size="8.5" textLength="11.47" lengthAdjust="spacingAndGlyphs">−5</text>
<path d="M184.9 456.1L188 456.1" stroke="#000" stroke-width="0.67"/>
<text x="163.9" y="459.35" font-size="8.5" textLength="16.95" lengthAdjust="spacingAndGlyphs">−10</text>
<path d="M184.9 498.45L188 498.45" stroke="#000" stroke-width="0.67"/>
<text x="163.9" y="501.7" font-size="8.5" textLength="16.78" lengthAdjust="spacingAndGlyphs">−15</text>
<path d="M184.9 540.8L188 540.8" stroke="#000" stroke-width="0.67"/>
<text x="163.9" y="544.05" font-size="8.5" textLength="16.95" lengthAdjust="spacingAndGlyphs">−20</text>
<path d="M184.9 583.15L188 583.15" stroke="#000" stroke-width="0.67"/>
<text x="163.9" y="586.4" font-size="8.5" textLength="16.78" lengthAdjust="spacingAndGlyphs">−25</text>
<text x="335.06" y="618" font-size="8.5" textLength="15.13" lengthAdjust="spacingAndGlyphs">mm</text>
<text x="152.51" y="478.1" font-size="8.5" textLength="10.46" lengthAdjust="spacingAndGlyphs" transform="rotate(-90 157.8 478.1)">dB</text>
<path d="M201.9 371.4 203.1 374.9 204.3 375.9 205.4 383.2 206.6 383.5 207.8 383.7 209 386.3 210.1 386.9 211.3 387.5 212.5 388 213.7 388.3 214.8 390.2 216 390.4 217.2 390.6 218.4 391.9 219.6 392.2 220.7 392.5 221.9 392.8 223.1 393.2 224.3 395.6 225.4 396 226.6 396.4 227.8 398.7 229 399.1 230.1 399.5 231.3 399.9 232.5 400.3 233.7 402.6 234.9 402.9 236 403.3 237.2 406.5 238.4 407.1 239.6 407.9 240.7 409 241.9 410.3 243.1 416.3 244.3 416.9 245.4 417.4 246.6 420.3 247.8 420.8 249 421.4 250.2 422.4 251.3 423.7 252.5 430.4 253.7 431.3 254.9 432 256 435.7 257.2 436.4 258.4 437 259.6 437.7 260.8 438.4 261.9 442.2 263.1 442.8 264.3 443.3 265.5 445.7 266.6 446.1 267.8 446.4 269 446.8 270.2 447.1 271.3 448.8 272.5 449.1 273.7 449.5 274.9 451.3 276.1 451.7 277.2 452 278.4 452.3 279.6 452.6 280.8 454.3 281.9 454.6 283.1 454.9 284.3 456.1 285.5 456.3 286.6 456.4 287.8 456.6 289 456.8 290.2 458.2 291.4 458.5 292.5 458.9 293.7 461.7 294.9 462.2 296.1 462.7 297.2 463.1 298.4 463.6 299.6 466.4 300.8 466.9 301.9 467.4 303.1 470.2 304.3 470.7 305.5 471.2 306.7 471.6 307.8 472.1 309 474.9 310.2 475.4 311.4 475.8 312.5 478.5 313.7 479 314.9 479.4 316.1 479.8 317.2 480.1 318.4 482.1 319.6 482.4 320.8 482.7 322 484.5 323.1 484.7 324.3 485 325.5 485.4 326.7 485.7 327.8 487.5 329 487.8 330.2 488.1 331.4 490 332.5 490.4 333.7 490.7 334.9 491.1 336.1 491.5 337.3 494.1 338.4 494.6 339.6 495.2 340.8 498 342 498.4 343.1 498.8 344.3 499.2 345.5 499.6 346.7 501.8 347.8 502.2 349 502.5 350.2 504.5 351.4 504.8 352.6 505.1 353.7 505.4 354.9 505.7 356.1 507.5 357.3 507.8 358.4 508.1 359.6 509.9 360.8 510.3 362 510.6 363.1 510.9 364.3 511.2 365.5 513.1 366.7 513.4 367.9 513.7 369 515.5 370.2 515.8 371.4 516.1 372.6 516.4 373.7 516.7 374.9 518.5 376.1 518.8 377.3 519.1 378.5 520.9 379.6 521.2 380.8 521.5 382 521.7 383.2 522 384.3 523.8 385.5 524.1 386.7 524.4 387.9 526.1 389 526.4 390.2 526.7 391.4 527 392.6 527.3 393.8 529 394.9 529.3 396.1 529.6 397.3 531.3 398.5 531.6 399.6 531.9 400.8 532.2 402 532.5 403.2 534.2 404.3 534.5 405.5 534.8 406.7 536.5 407.9 536.8 409.1 537.1 410.2 537.4 411.4 537.6 412.6 539.3 413.8 539.6 414.9 539.9 416.1 541.6 417.3 541.9 418.5 542.2 419.6 542.4 420.8 542.7 422 544.4 423.2 544.7 424.4 545 425.5 546.6 426.7 546.9 427.9 547.2 429.1 547.4 430.2 547.7 431.4 549.4 432.6 549.6 433.8 549.9 434.9 551.5 436.1 551.8 437.3 552.1 438.5 552.3 439.7 552.6 440.8 554.2 442 554.5 443.2 554.7 444.4 556.3 445.5 556.6 446.7 556.9 447.9 557.1 449.1 557.4 450.2 558.9 451.4 559.2 452.6 559.5 453.8 561 455 561.3 456.1 561.5 457.3 561.8 458.5 562 459.7 563.5 460.8 563.8 462 564.1 463.2 565.5 464.4 565.8 465.5 566 466.7 566.3 467.9 566.5 469.1 567.9 470.3 568.2 471.4 568.4 472.6 569.7 473.8 569.9 475 570.1 476.1 570.3 477.3 570.5 478.5 571.8 479.7 572 480.8 572.2 482 573.4 483.2 573.6 484.4 573.8" fill="none" stroke="#1f77b4" stroke-width="1.25" stroke-linejoin="round"/>
<path d="M201.9 371.4 204.3 374.6 206.6 377.7 209 380.8 211.3 383.8 213.7 386.8 216 389.8 218.4 392.7 220.7 395.6 223.1 398.4 225.4 401.2 227.8 404 230.1 406.7 232.5 409.4 234.9 412.1 237.2 414.7 239.6 417.3 241.9 419.9 244.3 422.4 246.6 424.9 249 427.3 251.3 429.8 253.7 432.2 256 434.5 258.4 436.9 260.8 439.2 263.1 441.4 265.5 443.7 267.8 445.9 270.2 448.1 272.5 450.2 274.9 452.4 277.2 454.5 279.6 456.5 281.9 458.6 284.3 460.6 286.6 462.6 289 464.6 291.4 466.5 293.7 468.4 296.1 470.3 298.4 472.2 300.8 474.1 303.1 475.9 305.5 477.7 307.8 479.5 310.2 481.3 312.5 483 314.9 484.8 317.2 486.5 319.6 488.2 322 489.8 324.3 491.5 326.7 493.1 329 494.8 331.4 496.4 333.7 497.9 336.1 499.5 338.4 501.1 340.8 502.6 343.1 504.1 345.5 505.6 347.8 507.1 350.2 508.6 352.6 510.1 354.9 511.5 357.3 513 359.6 514.4 362 515.8 364.3 517.2 366.7 518.6 369 520 371.4 521.4 373.7 522.8 376.1 524.1 378.5 525.5 380.8 526.8 383.2 528.2 385.5 529.5 387.9 530.8 390.2 532.1 392.6 533.4 394.9 534.7 397.3 536 399.6 537.3 402 538.6 404.3 539.9 406.7 541.2 409.1 542.4 411.4 543.7 413.8 545 416.1 546.2 418.5 547.5 420.8 548.8 423.2 550 425.5 551.3 427.9 552.5 430.2 553.8 432.6 555 434.9 556.3 437.3 557.5 439.7 558.7 442 560 444.4 561.2 446.7 562.4 449.1 563.6 451.4 564.9 453.8 566.1 456.1 567.3 458.5 568.5 460.8 569.7 463.2 570.9 465.5 572.1 467.9 573.3 470.3 574.5 472.6 575.7 475 576.8 477.3 578 479.7 579.2 482 580.4 484.4 581.5" fill="none" stroke="#3fbf6e" stroke-width="1.25" stroke-linejoin="round"/>
<rect x="402.1" y="364.7" width="92.4" height="29" rx="1.7" fill="#fff" fill-opacity="0.8" stroke="#ccc" stroke-width="0.83"/>
<path d="M405 372.3H423.2" stroke="#1f77b4" stroke-width="1.25"/>
<path d="M405 385.4H423.2" stroke="#3fbf6e" stroke-width="1.25"/>
<text x="430.26" y="375.9" font-size="8.5" textLength="59.69" lengthAdjust="spacingAndGlyphs">measurement</text>
<text x="429.95" y="389" font-size="8.5" textLength="44.35" lengthAdjust="spacingAndGlyphs">simulation</text>
</svg></body></html>
